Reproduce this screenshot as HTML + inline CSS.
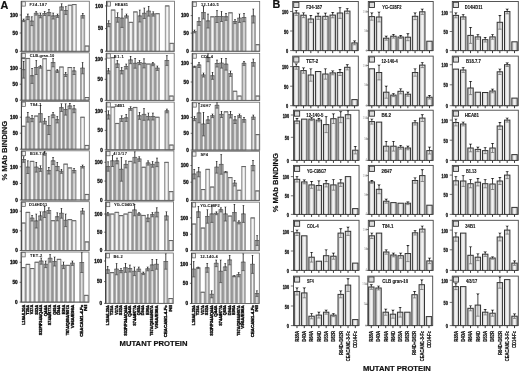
<!DOCTYPE html>
<html><head><meta charset="utf-8"><title>Figure</title><style>
html,body{margin:0;padding:0;background:#fff;}
svg{display:block;will-change:transform;transform:translateZ(0);}
#w{width:520px;height:372px;overflow:hidden;}
text{font-family:"Liberation Sans", sans-serif;font-weight:bold;fill:#111;stroke:#111;stroke-width:0.2;}
.ab{fill:#a9a9a9;stroke:#858585;stroke-width:0.7;}
.as{stroke:#f2f2f2;stroke-width:1.1;fill:none;}
.aw{fill:#c0c0c0;stroke:#808080;stroke-width:0.7;}
.aws{stroke:#f6f6f6;stroke-width:1.8;fill:none;}
.bb{fill:#d6d6d6;stroke:#333;stroke-width:1.0;}
.bs{stroke:#f2f2f2;stroke-width:2;fill:none;}
.eb{stroke:#222;stroke-width:0.85;fill:none;}
.eb4{stroke:#555;stroke-width:0.8;fill:none;}
.ebg{fill:#8a8a8a;fill-opacity:0.55;stroke:none;}
.at{stroke:#555;stroke-width:0.8;fill:none;}
.eb2{stroke:#333;stroke-width:0.9;fill:none;}
.ebt{fill:#222;stroke:none;}
.eb3{stroke:#666;stroke-width:0.7;fill:none;}
.af{fill:none;stroke:#666;stroke-width:0.8;}
.bf{fill:none;stroke:#444;stroke-width:0.9;}
.ax{fill:none;stroke:#3a3a3a;stroke-width:0.9;}
.axb{fill:none;stroke:#666;stroke-width:0.8;}
.lg{fill:#eee;stroke:#555;stroke-width:0.7;}
.lgb{fill:#ddd;stroke:#333;stroke-width:0.9;}
.tk{stroke:#333;stroke-width:0.7;fill:none;}
.tkx{stroke:#222;stroke-width:0.9;fill:none;}
.al{font-size:4.0px;stroke-width:0.05;}
.bl{font-size:5.3px;stroke-width:0.12;}
.tl{font-size:4.5px;stroke-width:0.3;}
.tlb{font-size:5.2px;stroke-width:0.3;}
.tlf{font-size:2.6px;text-anchor:end;fill:#bbb;stroke:none;}
.xl{font-size:4.4px;stroke-width:0.4;}
.xlb{font-size:5.0px;}
.big{font-size:10.8px;}
.yl{font-size:7.4px;}
.mp{font-size:7.6px;}
</style></head>
<body><div id="w"><svg width="520" height="372" viewBox="0 0 520 372">
<defs><filter id="blr" x="0" y="0" width="520" height="372" filterUnits="userSpaceOnUse" color-interpolation-filters="sRGB"><feConvolveMatrix order="3" kernelMatrix="1 7 1 7 49 7 1 7 1" edgeMode="duplicate"/></filter></defs>
<g><rect x="0" y="0" width="520" height="372" fill="#fff"/>
<rect class="ab" x="21.65" y="20.3" width="4.0" height="31"/>
<path class="as" d="M23.65 21.1V51.3"/>
<path class="at" d="M21.65 20.3h4"/>
<path class="eb" d="M23.65 19V20.3"/>
<path class="ebt" d="M22.45 18.7h2.4l-1.2 1z"/>
<rect class="ebg" x="22.15" y="20.3" width="3" height="1.3"/>
<path class="eb4" d="M23.65 20.3V21.6M22.15 21.6h3"/>
<rect class="ab" x="25.85" y="16.8" width="4.0" height="34.5"/>
<path class="as" d="M27.85 17.6V51.3"/>
<path class="at" d="M25.85 16.8h4"/>
<path class="eb" d="M27.85 14V16.8"/>
<path class="ebt" d="M26.65 13.7h2.4l-1.2 1z"/>
<rect class="ebg" x="26.35" y="16.8" width="3" height="2.8"/>
<path class="eb4" d="M27.85 16.8V19.6M26.35 19.6h3"/>
<rect class="ab" x="29.85" y="21.2" width="4.0" height="30.1"/>
<path class="as" d="M31.85 22V51.3"/>
<path class="at" d="M29.85 21.2h4"/>
<path class="eb" d="M31.85 16.8V21.2"/>
<path class="ebt" d="M30.65 16.5h2.4l-1.2 1z"/>
<rect class="ebg" x="30.35" y="21.2" width="3" height="4.4"/>
<path class="eb4" d="M31.85 21.2V25.6M30.35 25.6h3"/>
<rect class="ab" x="34.15" y="13.3" width="4.0" height="38"/>
<path class="as" d="M36.15 14.1V51.3"/>
<path class="at" d="M34.15 13.3h4"/>
<path class="eb" d="M36.15 11.5V13.3"/>
<path class="ebt" d="M34.95 11.2h2.4l-1.2 1z"/>
<rect class="ebg" x="34.65" y="13.3" width="3" height="1.8"/>
<path class="eb4" d="M36.15 13.3V15.1M34.65 15.1h3"/>
<rect class="ab" x="38.35" y="15.4" width="4.0" height="35.9"/>
<path class="as" d="M40.35 16.2V51.3"/>
<path class="at" d="M38.35 15.4h4"/>
<path class="eb" d="M40.35 13V15.4"/>
<path class="ebt" d="M39.15 12.7h2.4l-1.2 1z"/>
<rect class="ebg" x="38.85" y="15.4" width="3" height="2.4"/>
<path class="eb4" d="M40.35 15.4V17.8M38.85 17.8h3"/>
<rect class="ab" x="42.65" y="13.5" width="4.0" height="37.8"/>
<path class="as" d="M44.65 14.3V51.3"/>
<path class="at" d="M42.65 13.5h4"/>
<path class="eb" d="M44.65 11.5V13.5"/>
<path class="ebt" d="M43.45 11.2h2.4l-1.2 1z"/>
<rect class="ebg" x="43.15" y="13.5" width="3" height="2"/>
<path class="eb4" d="M44.65 13.5V15.5M43.15 15.5h3"/>
<rect class="ab" x="46.95" y="12.6" width="4.0" height="38.7"/>
<path class="as" d="M48.95 13.4V51.3"/>
<path class="at" d="M46.95 12.6h4"/>
<path class="eb" d="M48.95 9.5V12.6"/>
<path class="ebt" d="M47.75 9.2h2.4l-1.2 1z"/>
<rect class="ebg" x="47.45" y="12.6" width="3" height="3.1"/>
<path class="eb4" d="M48.95 12.6V15.7M47.45 15.7h3"/>
<rect class="ab" x="51.15" y="16" width="4.0" height="35.3"/>
<path class="as" d="M53.15 16.8V51.3"/>
<path class="at" d="M51.15 16h4"/>
<path class="eb" d="M53.15 13V16"/>
<path class="ebt" d="M51.95 12.7h2.4l-1.2 1z"/>
<rect class="ebg" x="51.65" y="16" width="3" height="3"/>
<path class="eb4" d="M53.15 16V19M51.65 19h3"/>
<rect class="ab" x="55.55" y="15.7" width="4.0" height="35.6"/>
<path class="as" d="M57.55 16.5V51.3"/>
<path class="at" d="M55.55 15.7h4"/>
<path class="eb" d="M57.55 14V15.7"/>
<path class="ebt" d="M56.35 13.7h2.4l-1.2 1z"/>
<rect class="ebg" x="56.05" y="15.7" width="3" height="1.7"/>
<path class="eb4" d="M57.55 15.7V17.4M56.05 17.4h3"/>
<rect class="ab" x="59.65" y="7" width="4.0" height="44.3"/>
<path class="as" d="M61.65 7.8V51.3"/>
<path class="at" d="M59.65 7h4"/>
<path class="eb" d="M61.65 3.8V7"/>
<path class="ebt" d="M60.45 3.5h2.4l-1.2 1z"/>
<rect class="ebg" x="60.15" y="7" width="3" height="3.2"/>
<path class="eb4" d="M61.65 7V10.2M60.15 10.2h3"/>
<rect class="ab" x="63.85" y="10.5" width="4.0" height="40.8"/>
<path class="as" d="M65.85 11.3V51.3"/>
<path class="at" d="M63.85 10.5h4"/>
<path class="eb" d="M65.85 6.6V10.5"/>
<path class="ebt" d="M64.65 6.3h2.4l-1.2 1z"/>
<rect class="ebg" x="64.35" y="10.5" width="3" height="3.9"/>
<path class="eb4" d="M65.85 10.5V14.4M64.35 14.4h3"/>
<rect class="aw" x="68.05" y="5.2" width="4.0" height="46.1"/>
<path class="aws" d="M70.05 6V51.3"/>
<path class="at" d="M68.05 5.2h4"/>
<rect class="aw" x="72.25" y="4.5" width="4.0" height="46.8"/>
<path class="aws" d="M74.25 5.3V51.3"/>
<path class="at" d="M72.25 4.5h4"/>
<rect class="ab" x="80.8" y="15.7" width="4.0" height="35.6"/>
<path class="as" d="M82.8 16.5V51.3"/>
<path class="at" d="M80.8 15.7h4"/>
<path class="eb" d="M82.8 13.3V15.7"/>
<path class="ebt" d="M81.6 13h2.4l-1.2 1z"/>
<rect class="ebg" x="81.3" y="15.7" width="3" height="2.4"/>
<path class="eb4" d="M82.8 15.7V18.1M81.3 18.1h3"/>
<rect class="aw" x="85" y="46" width="4.0" height="5.3"/>
<path class="aws" d="M87 46.8V51.3"/>
<path class="at" d="M85 46h4"/>
<rect class="af" x="21.3" y="1.2" width="68" height="50.1"/>
<path class="ax" d="M21.3 1.2V51.3"/>
<path class="axb" d="M21.3 51.3H89.3"/>
<rect class="lg" x="21.9" y="1.8" width="3.4" height="4.3"/>
<text class="al" x="29.4" y="5.7" textLength="17.6" lengthAdjust="spacing">F34-187</text>
<path class="tk" d="M19.7 15H21.3"/>
<text class="tl" x="10" y="16.7" textLength="7.8" lengthAdjust="spacingAndGlyphs">100</text>
<path class="tk" d="M19.7 33H21.3"/>
<text class="tl" x="12.6" y="34.7" textLength="5.2" lengthAdjust="spacingAndGlyphs">50</text>
<path class="tk" d="M19.7 51.3H21.3"/>
<text class="tl" x="15.2" y="53" textLength="2.6" lengthAdjust="spacingAndGlyphs">0</text>
<rect class="ab" x="106.7" y="23.7" width="4.0" height="27.55"/>
<path class="as" d="M108.7 24.5V51.25"/>
<path class="at" d="M106.7 23.7h4"/>
<path class="eb" d="M108.7 20.7V23.7"/>
<path class="ebt" d="M107.5 20.4h2.4l-1.2 1z"/>
<rect class="ebg" x="107.2" y="23.7" width="3" height="3"/>
<path class="eb4" d="M108.7 23.7V26.7M107.2 26.7h3"/>
<rect class="aw" x="111.1" y="10" width="4.0" height="41.25"/>
<path class="aws" d="M113.1 10.8V51.25"/>
<path class="at" d="M111.1 10h4"/>
<rect class="ab" x="115.6" y="17.5" width="4.0" height="33.75"/>
<path class="as" d="M117.6 18.3V51.25"/>
<path class="at" d="M115.6 17.5h4"/>
<path class="eb" d="M117.6 12.8V17.5"/>
<path class="ebt" d="M116.4 12.5h2.4l-1.2 1z"/>
<rect class="ebg" x="116.1" y="17.5" width="3" height="4.7"/>
<path class="eb4" d="M117.6 17.5V22.2M116.1 22.2h3"/>
<rect class="ab" x="120" y="18.2" width="4.0" height="33.05"/>
<path class="as" d="M122 19V51.25"/>
<path class="at" d="M120 18.2h4"/>
<path class="eb" d="M122 9V18.2"/>
<path class="ebt" d="M120.8 8.7h2.4l-1.2 1z"/>
<rect class="ebg" x="120.5" y="18.2" width="3" height="9.2"/>
<path class="eb4" d="M122 18.2V27.4M120.5 27.4h3"/>
<rect class="ab" x="124.5" y="16" width="4.0" height="35.25"/>
<path class="as" d="M126.5 16.8V51.25"/>
<path class="at" d="M124.5 16h4"/>
<path class="eb" d="M126.5 14V16"/>
<path class="ebt" d="M125.3 13.7h2.4l-1.2 1z"/>
<rect class="ebg" x="125" y="16" width="3" height="2"/>
<path class="eb4" d="M126.5 16V18M125 18h3"/>
<rect class="aw" x="128.9" y="22.3" width="4.0" height="28.95"/>
<path class="aws" d="M130.9 23.1V51.25"/>
<path class="at" d="M128.9 22.3h4"/>
<rect class="aw" x="133.4" y="11.9" width="4.0" height="39.35"/>
<path class="aws" d="M135.4 12.7V51.25"/>
<path class="at" d="M133.4 11.9h4"/>
<rect class="ab" x="137.8" y="16" width="4.0" height="35.25"/>
<path class="as" d="M139.8 16.8V51.25"/>
<path class="at" d="M137.8 16h4"/>
<path class="eb" d="M139.8 10V16"/>
<path class="ebt" d="M138.6 9.7h2.4l-1.2 1z"/>
<rect class="ebg" x="138.3" y="16" width="3" height="6"/>
<path class="eb4" d="M139.8 16V22M138.3 22h3"/>
<rect class="ab" x="142.3" y="13.3" width="4.0" height="37.95"/>
<path class="as" d="M144.3 14.1V51.25"/>
<path class="at" d="M142.3 13.3h4"/>
<path class="eb" d="M144.3 8.1V13.3"/>
<path class="ebt" d="M143.1 7.8h2.4l-1.2 1z"/>
<rect class="ebg" x="142.8" y="13.3" width="3" height="5.2"/>
<path class="eb4" d="M144.3 13.3V18.5M142.8 18.5h3"/>
<rect class="ab" x="146.7" y="11.2" width="4.0" height="40.05"/>
<path class="as" d="M148.7 12V51.25"/>
<path class="at" d="M146.7 11.2h4"/>
<path class="eb" d="M148.7 6.3V11.2"/>
<path class="ebt" d="M147.5 6h2.4l-1.2 1z"/>
<rect class="ebg" x="147.2" y="11.2" width="3" height="4.9"/>
<path class="eb4" d="M148.7 11.2V16.1M147.2 16.1h3"/>
<rect class="ab" x="151.2" y="14" width="4.0" height="37.25"/>
<path class="as" d="M153.2 14.8V51.25"/>
<path class="at" d="M151.2 14h4"/>
<path class="eb" d="M153.2 11.9V14"/>
<path class="ebt" d="M152 11.6h2.4l-1.2 1z"/>
<rect class="ebg" x="151.7" y="14" width="3" height="2.1"/>
<path class="eb4" d="M153.2 14V16.1M151.7 16.1h3"/>
<rect class="aw" x="155.6" y="13.7" width="4.0" height="37.55"/>
<path class="aws" d="M157.6 14.5V51.25"/>
<path class="at" d="M155.6 13.7h4"/>
<rect class="aw" x="165.2" y="5.9" width="4.0" height="45.35"/>
<path class="aws" d="M167.2 6.7V51.25"/>
<path class="at" d="M165.2 5.9h4"/>
<rect class="aw" x="169.7" y="43.3" width="4.0" height="7.95"/>
<path class="aws" d="M171.7 44.1V51.25"/>
<path class="at" d="M169.7 43.3h4"/>
<rect class="af" x="106.6" y="1.2" width="67.9" height="50.05"/>
<path class="ax" d="M106.6 1.2V51.25"/>
<path class="axb" d="M106.6 51.25H174.5"/>
<rect class="lg" x="107.2" y="1.8" width="3.4" height="4.3"/>
<text class="al" x="114.75" y="5.7" textLength="13.2" lengthAdjust="spacing">HEA81</text>
<path class="tk" d="M105 5.9H106.6"/>
<text class="tl" x="95.3" y="7.6" textLength="7.8" lengthAdjust="spacingAndGlyphs">100</text>
<path class="tk" d="M105 28.6H106.6"/>
<text class="tl" x="97.9" y="30.3" textLength="5.2" lengthAdjust="spacingAndGlyphs">50</text>
<path class="tk" d="M105 51.25H106.6"/>
<text class="tl" x="100.5" y="52.95" textLength="2.6" lengthAdjust="spacingAndGlyphs">0</text>
<rect class="ab" x="192.5" y="31.4" width="4.0" height="19.85"/>
<path class="as" d="M194.5 32.2V51.25"/>
<path class="at" d="M192.5 31.4h4"/>
<path class="eb" d="M194.5 30V31.4"/>
<path class="ebt" d="M193.3 29.7h2.4l-1.2 1z"/>
<rect class="ebg" x="193" y="31.4" width="3" height="1.4"/>
<path class="eb4" d="M194.5 31.4V32.8M193 32.8h3"/>
<rect class="ab" x="197" y="21.6" width="4.0" height="29.65"/>
<path class="as" d="M199 22.4V51.25"/>
<path class="at" d="M197 21.6h4"/>
<path class="eb" d="M199 17.9V21.6"/>
<path class="ebt" d="M197.8 17.6h2.4l-1.2 1z"/>
<rect class="ebg" x="197.5" y="21.6" width="3" height="3.7"/>
<path class="eb4" d="M199 21.6V25.3M197.5 25.3h3"/>
<rect class="ab" x="201.5" y="12.6" width="4.0" height="38.65"/>
<path class="as" d="M203.5 13.4V51.25"/>
<path class="at" d="M201.5 12.6h4"/>
<path class="eb" d="M203.5 6.3V12.6"/>
<path class="ebt" d="M202.3 6h2.4l-1.2 1z"/>
<rect class="ebg" x="202" y="12.6" width="3" height="6.3"/>
<path class="eb4" d="M203.5 12.6V18.9M202 18.9h3"/>
<rect class="ab" x="206" y="21" width="4.0" height="30.25"/>
<path class="as" d="M208 21.8V51.25"/>
<path class="at" d="M206 21h4"/>
<path class="eb" d="M208 14V21"/>
<path class="ebt" d="M206.8 13.7h2.4l-1.2 1z"/>
<rect class="ebg" x="206.5" y="21" width="3" height="7"/>
<path class="eb4" d="M208 21V28M206.5 28h3"/>
<rect class="aw" x="210.5" y="16.8" width="4.0" height="34.45"/>
<path class="aws" d="M212.5 17.6V51.25"/>
<path class="at" d="M210.5 16.8h4"/>
<rect class="ab" x="215" y="16.5" width="4.0" height="34.75"/>
<path class="as" d="M217 17.3V51.25"/>
<path class="at" d="M215 16.5h4"/>
<path class="eb" d="M217 10.5V16.5"/>
<path class="ebt" d="M215.8 10.2h2.4l-1.2 1z"/>
<rect class="ebg" x="215.5" y="16.5" width="3" height="6"/>
<path class="eb4" d="M217 16.5V22.5M215.5 22.5h3"/>
<rect class="ab" x="219.5" y="16.5" width="4.0" height="34.75"/>
<path class="as" d="M221.5 17.3V51.25"/>
<path class="at" d="M219.5 16.5h4"/>
<path class="eb" d="M221.5 11.5V16.5"/>
<path class="ebt" d="M220.3 11.2h2.4l-1.2 1z"/>
<rect class="ebg" x="220" y="16.5" width="3" height="5"/>
<path class="eb4" d="M221.5 16.5V21.5M220 21.5h3"/>
<rect class="ab" x="224" y="16.8" width="4.0" height="34.45"/>
<path class="as" d="M226 17.6V51.25"/>
<path class="at" d="M224 16.8h4"/>
<path class="eb" d="M226 13.3V16.8"/>
<path class="ebt" d="M224.8 13h2.4l-1.2 1z"/>
<rect class="ebg" x="224.5" y="16.8" width="3" height="3.5"/>
<path class="eb4" d="M226 16.8V20.3M224.5 20.3h3"/>
<rect class="aw" x="228.5" y="12.8" width="4.0" height="38.45"/>
<path class="aws" d="M230.5 13.6V51.25"/>
<path class="at" d="M228.5 12.8h4"/>
<rect class="ab" x="233" y="21.6" width="4.0" height="29.65"/>
<path class="as" d="M235 22.4V51.25"/>
<path class="at" d="M233 21.6h4"/>
<path class="eb" d="M235 19.6V21.6"/>
<path class="ebt" d="M233.8 19.3h2.4l-1.2 1z"/>
<rect class="ebg" x="233.5" y="21.6" width="3" height="2"/>
<path class="eb4" d="M235 21.6V23.6M233.5 23.6h3"/>
<rect class="ab" x="237.5" y="18.2" width="4.0" height="33.05"/>
<path class="as" d="M239.5 19V51.25"/>
<path class="at" d="M237.5 18.2h4"/>
<path class="eb" d="M239.5 14V18.2"/>
<path class="ebt" d="M238.3 13.7h2.4l-1.2 1z"/>
<rect class="ebg" x="238" y="18.2" width="3" height="4.2"/>
<path class="eb4" d="M239.5 18.2V22.4M238 22.4h3"/>
<rect class="ab" x="242" y="17.5" width="4.0" height="33.75"/>
<path class="as" d="M244 18.3V51.25"/>
<path class="at" d="M242 17.5h4"/>
<path class="eb" d="M244 13.3V17.5"/>
<path class="ebt" d="M242.8 13h2.4l-1.2 1z"/>
<rect class="ebg" x="242.5" y="17.5" width="3" height="4.2"/>
<path class="eb4" d="M244 17.5V21.7M242.5 21.7h3"/>
<rect class="ab" x="251.3" y="16" width="4.0" height="35.25"/>
<path class="as" d="M253.3 16.8V51.25"/>
<path class="at" d="M251.3 16h4"/>
<path class="eb" d="M253.3 9V16"/>
<path class="ebt" d="M252.1 8.7h2.4l-1.2 1z"/>
<rect class="ebg" x="251.8" y="16" width="3" height="7"/>
<path class="eb4" d="M253.3 16V23M251.8 23h3"/>
<rect class="aw" x="255.7" y="44.7" width="4.0" height="6.55"/>
<path class="aws" d="M257.7 45.5V51.25"/>
<path class="at" d="M255.7 44.7h4"/>
<rect class="af" x="192.3" y="1.5" width="67.4" height="49.75"/>
<path class="ax" d="M192.3 1.5V51.25"/>
<path class="axb" d="M192.3 51.25H259.7"/>
<rect class="lg" x="192.9" y="2.1" width="3.4" height="4.3"/>
<text class="al" x="200.95" y="6" textLength="17.7" lengthAdjust="spacing">12-140-5</text>
<path class="tk" d="M190.7 15.6H192.3"/>
<text class="tl" x="181" y="17.3" textLength="7.8" lengthAdjust="spacingAndGlyphs">100</text>
<path class="tk" d="M190.7 33.1H192.3"/>
<text class="tl" x="183.6" y="34.8" textLength="5.2" lengthAdjust="spacingAndGlyphs">50</text>
<path class="tk" d="M190.7 51.25H192.3"/>
<text class="tl" x="186.2" y="52.95" textLength="2.6" lengthAdjust="spacingAndGlyphs">0</text>
<rect class="aw" x="21.65" y="58.5" width="4.0" height="41.7"/>
<path class="aws" d="M23.65 59.3V100.2"/>
<path class="at" d="M21.65 58.5h4"/>
<rect class="ab" x="21.65" y="69.7" width="4.0" height="30.5"/>
<path class="as" d="M23.65 70.5V100.2"/>
<path class="at" d="M21.65 69.7h4"/>
<path class="eb" d="M23.65 61.3V69.7"/>
<path class="ebt" d="M22.45 61h2.4l-1.2 1z"/>
<rect class="ebg" x="22.15" y="69.7" width="3" height="8.4"/>
<path class="eb4" d="M23.65 69.7V78.1M22.15 78.1h3"/>
<rect class="aw" x="25.85" y="58.4" width="4.0" height="41.8"/>
<path class="aws" d="M27.85 59.2V100.2"/>
<path class="at" d="M25.85 58.4h4"/>
<rect class="ab" x="30.05" y="75.8" width="4.0" height="24.4"/>
<path class="as" d="M32.05 76.6V100.2"/>
<path class="at" d="M30.05 75.8h4"/>
<path class="eb" d="M32.05 68.2V75.8"/>
<path class="ebt" d="M30.85 67.9h2.4l-1.2 1z"/>
<rect class="ebg" x="30.55" y="75.8" width="3" height="7.6"/>
<path class="eb4" d="M32.05 75.8V83.4M30.55 83.4h3"/>
<rect class="ab" x="34.25" y="67.5" width="4.0" height="32.7"/>
<path class="as" d="M36.25 68.3V100.2"/>
<path class="at" d="M34.25 67.5h4"/>
<path class="eb" d="M36.25 60.5V67.5"/>
<path class="ebt" d="M35.05 60.2h2.4l-1.2 1z"/>
<rect class="ebg" x="34.75" y="67.5" width="3" height="7"/>
<path class="eb4" d="M36.25 67.5V74.5M34.75 74.5h3"/>
<rect class="ab" x="38.45" y="66.8" width="4.0" height="33.4"/>
<path class="as" d="M40.45 67.6V100.2"/>
<path class="at" d="M38.45 66.8h4"/>
<path class="eb" d="M40.45 65.4V66.8"/>
<path class="ebt" d="M39.25 65.1h2.4l-1.2 1z"/>
<rect class="ebg" x="38.95" y="66.8" width="3" height="1.4"/>
<path class="eb4" d="M40.45 66.8V68.2M38.95 68.2h3"/>
<rect class="aw" x="42.65" y="58.7" width="4.0" height="41.5"/>
<path class="aws" d="M44.65 59.5V100.2"/>
<path class="at" d="M42.65 58.7h4"/>
<rect class="aw" x="46.85" y="70.3" width="4.0" height="29.9"/>
<path class="aws" d="M48.85 71.1V100.2"/>
<path class="at" d="M46.85 70.3h4"/>
<rect class="ab" x="51.05" y="62.6" width="4.0" height="37.6"/>
<path class="as" d="M53.05 63.4V100.2"/>
<path class="at" d="M51.05 62.6h4"/>
<path class="eb" d="M53.05 58.4V62.6"/>
<path class="ebt" d="M51.85 58.1h2.4l-1.2 1z"/>
<rect class="ebg" x="51.55" y="62.6" width="3" height="4.2"/>
<path class="eb4" d="M53.05 62.6V66.8M51.55 66.8h3"/>
<rect class="ab" x="55.25" y="71" width="4.0" height="29.2"/>
<path class="as" d="M57.25 71.8V100.2"/>
<path class="at" d="M55.25 71h4"/>
<path class="eb" d="M57.25 69.5V71"/>
<path class="ebt" d="M56.05 69.2h2.4l-1.2 1z"/>
<rect class="ebg" x="55.75" y="71" width="3" height="1.5"/>
<path class="eb4" d="M57.25 71V72.5M55.75 72.5h3"/>
<rect class="aw" x="59.45" y="67" width="4.0" height="33.2"/>
<path class="aws" d="M61.45 67.8V100.2"/>
<path class="at" d="M59.45 67h4"/>
<rect class="ab" x="63.65" y="74.4" width="4.0" height="25.8"/>
<path class="as" d="M65.65 75.2V100.2"/>
<path class="at" d="M63.65 74.4h4"/>
<path class="eb" d="M65.65 72.3V74.4"/>
<path class="ebt" d="M64.45 72h2.4l-1.2 1z"/>
<rect class="ebg" x="64.15" y="74.4" width="3" height="2.1"/>
<path class="eb4" d="M65.65 74.4V76.5M64.15 76.5h3"/>
<rect class="aw" x="67.85" y="67.5" width="4.0" height="32.7"/>
<path class="aws" d="M69.85 68.3V100.2"/>
<path class="at" d="M67.85 67.5h4"/>
<rect class="ab" x="72.05" y="71" width="4.0" height="29.2"/>
<path class="as" d="M74.05 71.8V100.2"/>
<path class="at" d="M72.05 71h4"/>
<path class="eb" d="M74.05 67.5V71"/>
<path class="ebt" d="M72.85 67.2h2.4l-1.2 1z"/>
<rect class="ebg" x="72.55" y="71" width="3" height="3.5"/>
<path class="eb4" d="M74.05 71V74.5M72.55 74.5h3"/>
<rect class="ab" x="80.6" y="68.2" width="4.0" height="32"/>
<path class="as" d="M82.6 69V100.2"/>
<path class="at" d="M80.6 68.2h4"/>
<path class="eb" d="M82.6 62.6V68.2"/>
<path class="ebt" d="M81.4 62.3h2.4l-1.2 1z"/>
<rect class="ebg" x="81.1" y="68.2" width="3" height="5.6"/>
<path class="eb4" d="M82.6 68.2V73.8M81.1 73.8h3"/>
<rect class="aw" x="84.9" y="97.5" width="4.0" height="2.7"/>
<path class="aws" d="M86.9 98.3V100.2"/>
<path class="at" d="M84.9 97.5h4"/>
<rect class="af" x="21.3" y="52.8" width="68" height="47.4"/>
<path class="ax" d="M21.3 52.8V100.2"/>
<path class="axb" d="M21.3 100.2H89.3"/>
<rect class="lg" x="21.9" y="53.4" width="3.4" height="4.3"/>
<text class="al" x="29.8" y="57.3" textLength="24.4" lengthAdjust="spacing">CLB-gran-10</text>
<path class="tk" d="M19.7 68.4H21.3"/>
<text class="tl" x="10" y="70.1" textLength="7.8" lengthAdjust="spacingAndGlyphs">100</text>
<path class="tk" d="M19.7 84.2H21.3"/>
<text class="tl" x="12.6" y="85.9" textLength="5.2" lengthAdjust="spacingAndGlyphs">50</text>
<path class="tk" d="M19.7 100.2H21.3"/>
<text class="tl" x="15.2" y="101.9" textLength="2.6" lengthAdjust="spacingAndGlyphs">0</text>
<rect class="ab" x="106.4" y="71" width="4.0" height="29.4"/>
<path class="as" d="M108.4 71.8V100.4"/>
<path class="at" d="M106.4 71h4"/>
<path class="eb" d="M108.4 68.2V71"/>
<path class="ebt" d="M107.2 67.9h2.4l-1.2 1z"/>
<rect class="ebg" x="106.9" y="71" width="3" height="2.8"/>
<path class="eb4" d="M108.4 71V73.8M106.9 73.8h3"/>
<rect class="aw" x="110.8" y="57.7" width="4.0" height="42.7"/>
<path class="aws" d="M112.8 58.5V100.4"/>
<path class="at" d="M110.8 57.7h4"/>
<rect class="ab" x="115.3" y="64" width="4.0" height="36.4"/>
<path class="as" d="M117.3 64.8V100.4"/>
<path class="at" d="M115.3 64h4"/>
<path class="eb" d="M117.3 60.5V64"/>
<path class="ebt" d="M116.1 60.2h2.4l-1.2 1z"/>
<rect class="ebg" x="115.8" y="64" width="3" height="3.5"/>
<path class="eb4" d="M117.3 64V67.5M115.8 67.5h3"/>
<rect class="ab" x="119.7" y="70.7" width="4.0" height="29.7"/>
<path class="as" d="M121.7 71.5V100.4"/>
<path class="at" d="M119.7 70.7h4"/>
<path class="eb" d="M121.7 67.5V70.7"/>
<path class="ebt" d="M120.5 67.2h2.4l-1.2 1z"/>
<rect class="ebg" x="120.2" y="70.7" width="3" height="3.2"/>
<path class="eb4" d="M121.7 70.7V73.9M120.2 73.9h3"/>
<rect class="ab" x="124.2" y="66.5" width="4.0" height="33.9"/>
<path class="as" d="M126.2 67.3V100.4"/>
<path class="at" d="M124.2 66.5h4"/>
<path class="eb" d="M126.2 64V66.5"/>
<path class="ebt" d="M125 63.7h2.4l-1.2 1z"/>
<rect class="ebg" x="124.7" y="66.5" width="3" height="2.5"/>
<path class="eb4" d="M126.2 66.5V69M124.7 69h3"/>
<rect class="ab" x="128.6" y="60" width="4.0" height="40.4"/>
<path class="as" d="M130.6 60.8V100.4"/>
<path class="at" d="M128.6 60h4"/>
<path class="eb" d="M130.6 56.3V60"/>
<path class="ebt" d="M129.4 56h2.4l-1.2 1z"/>
<rect class="ebg" x="129.1" y="60" width="3" height="3.7"/>
<path class="eb4" d="M130.6 60V63.7M129.1 63.7h3"/>
<rect class="ab" x="133.1" y="63.3" width="4.0" height="37.1"/>
<path class="as" d="M135.1 64.1V100.4"/>
<path class="at" d="M133.1 63.3h4"/>
<path class="eb" d="M135.1 58.4V63.3"/>
<path class="ebt" d="M133.9 58.1h2.4l-1.2 1z"/>
<rect class="ebg" x="133.6" y="63.3" width="3" height="4.9"/>
<path class="eb4" d="M135.1 63.3V68.2M133.6 68.2h3"/>
<rect class="ab" x="137.5" y="62.6" width="4.0" height="37.8"/>
<path class="as" d="M139.5 63.4V100.4"/>
<path class="at" d="M137.5 62.6h4"/>
<path class="eb" d="M139.5 60.5V62.6"/>
<path class="ebt" d="M138.3 60.2h2.4l-1.2 1z"/>
<rect class="ebg" x="138" y="62.6" width="3" height="2.1"/>
<path class="eb4" d="M139.5 62.6V64.7M138 64.7h3"/>
<rect class="ab" x="142" y="63.3" width="4.0" height="37.1"/>
<path class="as" d="M144 64.1V100.4"/>
<path class="at" d="M142 63.3h4"/>
<path class="eb" d="M144 58.7V63.3"/>
<path class="ebt" d="M142.8 58.4h2.4l-1.2 1z"/>
<rect class="ebg" x="142.5" y="63.3" width="3" height="4.6"/>
<path class="eb4" d="M144 63.3V67.9M142.5 67.9h3"/>
<rect class="aw" x="146.4" y="64" width="4.0" height="36.4"/>
<path class="aws" d="M148.4 64.8V100.4"/>
<path class="at" d="M146.4 64h4"/>
<rect class="ab" x="150.9" y="64" width="4.0" height="36.4"/>
<path class="as" d="M152.9 64.8V100.4"/>
<path class="at" d="M150.9 64h4"/>
<path class="eb" d="M152.9 62.3V64"/>
<path class="ebt" d="M151.7 62h2.4l-1.2 1z"/>
<rect class="ebg" x="151.4" y="64" width="3" height="1.7"/>
<path class="eb4" d="M152.9 64V65.7M151.4 65.7h3"/>
<rect class="ab" x="155.3" y="68.2" width="4.0" height="32.2"/>
<path class="as" d="M157.3 69V100.4"/>
<path class="at" d="M155.3 68.2h4"/>
<path class="eb" d="M157.3 66V68.2"/>
<path class="ebt" d="M156.1 65.7h2.4l-1.2 1z"/>
<rect class="ebg" x="155.8" y="68.2" width="3" height="2.2"/>
<path class="eb4" d="M157.3 68.2V70.4M155.8 70.4h3"/>
<rect class="ab" x="164.9" y="60.5" width="4.0" height="39.9"/>
<path class="as" d="M166.9 61.3V100.4"/>
<path class="at" d="M164.9 60.5h4"/>
<path class="eb" d="M166.9 55.6V60.5"/>
<path class="ebt" d="M165.7 55.3h2.4l-1.2 1z"/>
<rect class="ebg" x="165.4" y="60.5" width="3" height="4.9"/>
<path class="eb4" d="M166.9 60.5V65.4M165.4 65.4h3"/>
<rect class="aw" x="169.4" y="96" width="4.0" height="4.4"/>
<path class="aws" d="M171.4 96.8V100.4"/>
<path class="at" d="M169.4 96h4"/>
<rect class="af" x="106.3" y="53.2" width="67.9" height="47.2"/>
<path class="ax" d="M106.3 53.2V100.4"/>
<path class="axb" d="M106.3 100.4H174.2"/>
<rect class="lg" x="106.9" y="53.8" width="3.4" height="4.3"/>
<text class="al" x="113.8" y="57.7" textLength="10" lengthAdjust="spacing">B1.1</text>
<path class="tk" d="M104.7 59H106.3"/>
<text class="tl" x="95" y="60.7" textLength="7.8" lengthAdjust="spacingAndGlyphs">100</text>
<path class="tk" d="M104.7 79.3H106.3"/>
<text class="tl" x="97.6" y="81" textLength="5.2" lengthAdjust="spacingAndGlyphs">50</text>
<path class="tk" d="M104.7 100.4H106.3"/>
<text class="tl" x="100.2" y="102.1" textLength="2.6" lengthAdjust="spacingAndGlyphs">0</text>
<rect class="ab" x="192.5" y="66.7" width="4.0" height="33.7"/>
<path class="as" d="M194.5 67.5V100.4"/>
<path class="at" d="M192.5 66.7h4"/>
<path class="eb" d="M194.5 66V66.7"/>
<path class="ebt" d="M193.3 65.7h2.4l-1.2 0.7z"/>
<rect class="ebg" x="193" y="66.7" width="3" height="0.7"/>
<path class="eb4" d="M194.5 66.7V67.4M193 67.4h3"/>
<rect class="ab" x="197" y="65" width="4.0" height="35.4"/>
<path class="as" d="M199 65.8V100.4"/>
<path class="at" d="M197 65h4"/>
<path class="eb" d="M199 62.5V65"/>
<path class="ebt" d="M197.8 62.2h2.4l-1.2 1z"/>
<rect class="ebg" x="197.5" y="65" width="3" height="2.5"/>
<path class="eb4" d="M199 65V67.5M197.5 67.5h3"/>
<rect class="ab" x="201.5" y="75" width="4.0" height="25.4"/>
<path class="as" d="M203.5 75.8V100.4"/>
<path class="at" d="M201.5 75h4"/>
<path class="eb" d="M203.5 73V75"/>
<path class="ebt" d="M202.3 72.7h2.4l-1.2 1z"/>
<rect class="ebg" x="202" y="75" width="3" height="2"/>
<path class="eb4" d="M203.5 75V77M202 77h3"/>
<rect class="ab" x="206" y="57.6" width="4.0" height="42.8"/>
<path class="as" d="M208 58.4V100.4"/>
<path class="at" d="M206 57.6h4"/>
<path class="eb" d="M208 53.5V57.6"/>
<path class="ebt" d="M206.8 53.2h2.4l-1.2 1z"/>
<rect class="ebg" x="206.5" y="57.6" width="3" height="4.1"/>
<path class="eb4" d="M208 57.6V61.7M206.5 61.7h3"/>
<rect class="ab" x="210.5" y="75.8" width="4.0" height="24.6"/>
<path class="as" d="M212.5 76.6V100.4"/>
<path class="at" d="M210.5 75.8h4"/>
<path class="eb" d="M212.5 72.3V75.8"/>
<path class="ebt" d="M211.3 72h2.4l-1.2 1z"/>
<rect class="ebg" x="211" y="75.8" width="3" height="3.5"/>
<path class="eb4" d="M212.5 75.8V79.3M211 79.3h3"/>
<rect class="ab" x="215" y="63.5" width="4.0" height="36.9"/>
<path class="as" d="M217 64.3V100.4"/>
<path class="at" d="M215 63.5h4"/>
<path class="eb" d="M217 60V63.5"/>
<path class="ebt" d="M215.8 59.7h2.4l-1.2 1z"/>
<rect class="ebg" x="215.5" y="63.5" width="3" height="3.5"/>
<path class="eb4" d="M217 63.5V67M215.5 67h3"/>
<rect class="ab" x="219.5" y="63.2" width="4.0" height="37.2"/>
<path class="as" d="M221.5 64V100.4"/>
<path class="at" d="M219.5 63.2h4"/>
<path class="eb" d="M221.5 58.3V63.2"/>
<path class="ebt" d="M220.3 58h2.4l-1.2 1z"/>
<rect class="ebg" x="220" y="63.2" width="3" height="4.9"/>
<path class="eb4" d="M221.5 63.2V68.1M220 68.1h3"/>
<rect class="ab" x="224" y="64.2" width="4.0" height="36.2"/>
<path class="as" d="M226 65V100.4"/>
<path class="at" d="M224 64.2h4"/>
<path class="eb" d="M226 58.3V64.2"/>
<path class="ebt" d="M224.8 58h2.4l-1.2 1z"/>
<rect class="ebg" x="224.5" y="64.2" width="3" height="5.9"/>
<path class="eb4" d="M226 64.2V70.1M224.5 70.1h3"/>
<rect class="ab" x="228.5" y="73.7" width="4.0" height="26.7"/>
<path class="as" d="M230.5 74.5V100.4"/>
<path class="at" d="M228.5 73.7h4"/>
<path class="eb" d="M230.5 71V73.7"/>
<path class="ebt" d="M229.3 70.7h2.4l-1.2 1z"/>
<rect class="ebg" x="229" y="73.7" width="3" height="2.7"/>
<path class="eb4" d="M230.5 73.7V76.4M229 76.4h3"/>
<rect class="aw" x="233" y="91.2" width="4.0" height="9.2"/>
<path class="aws" d="M235 92V100.4"/>
<path class="at" d="M233 91.2h4"/>
<rect class="aw" x="237.5" y="96" width="4.0" height="4.4"/>
<path class="aws" d="M239.5 96.8V100.4"/>
<path class="at" d="M237.5 96h4"/>
<rect class="ab" x="242" y="63.3" width="4.0" height="37.1"/>
<path class="as" d="M244 64.1V100.4"/>
<path class="at" d="M242 63.3h4"/>
<path class="eb" d="M244 61.2V63.3"/>
<path class="ebt" d="M242.8 60.9h2.4l-1.2 1z"/>
<rect class="ebg" x="242.5" y="63.3" width="3" height="2.1"/>
<path class="eb4" d="M244 63.3V65.4M242.5 65.4h3"/>
<rect class="ab" x="251.3" y="62.6" width="4.0" height="37.8"/>
<path class="as" d="M253.3 63.4V100.4"/>
<path class="at" d="M251.3 62.6h4"/>
<path class="eb" d="M253.3 59V62.6"/>
<path class="ebt" d="M252.1 58.7h2.4l-1.2 1z"/>
<rect class="ebg" x="251.8" y="62.6" width="3" height="3.6"/>
<path class="eb4" d="M253.3 62.6V66.2M251.8 66.2h3"/>
<rect class="aw" x="255.7" y="96" width="4.0" height="4.4"/>
<path class="aws" d="M257.7 96.8V100.4"/>
<path class="at" d="M255.7 96h4"/>
<rect class="af" x="192.3" y="53.3" width="67.4" height="47.1"/>
<path class="ax" d="M192.3 53.3V100.4"/>
<path class="axb" d="M192.3 100.4H259.7"/>
<rect class="lg" x="192.9" y="53.9" width="3.4" height="4.3"/>
<text class="al" x="200.95" y="57.8" textLength="12.1" lengthAdjust="spacing">COL-4</text>
<path class="tk" d="M190.7 63.3H192.3"/>
<text class="tl" x="181" y="65" textLength="7.8" lengthAdjust="spacingAndGlyphs">100</text>
<path class="tk" d="M190.7 82H192.3"/>
<text class="tl" x="183.6" y="83.7" textLength="5.2" lengthAdjust="spacingAndGlyphs">50</text>
<path class="tk" d="M190.7 100.4H192.3"/>
<text class="tl" x="186.2" y="102.1" textLength="2.6" lengthAdjust="spacingAndGlyphs">0</text>
<rect class="aw" x="21.65" y="126.2" width="4.0" height="23"/>
<path class="aws" d="M23.65 127V149.2"/>
<path class="at" d="M21.65 126.2h4"/>
<rect class="ab" x="25.85" y="117.2" width="4.0" height="32"/>
<path class="as" d="M27.85 118V149.2"/>
<path class="at" d="M25.85 117.2h4"/>
<path class="eb" d="M27.85 112.3V117.2"/>
<path class="ebt" d="M26.65 112h2.4l-1.2 1z"/>
<rect class="ebg" x="26.35" y="117.2" width="3" height="4.9"/>
<path class="eb4" d="M27.85 117.2V122.1M26.35 122.1h3"/>
<rect class="ab" x="30.05" y="118.6" width="4.0" height="30.6"/>
<path class="as" d="M32.05 119.4V149.2"/>
<path class="at" d="M30.05 118.6h4"/>
<path class="eb" d="M32.05 115.5V118.6"/>
<path class="ebt" d="M30.85 115.2h2.4l-1.2 1z"/>
<rect class="ebg" x="30.55" y="118.6" width="3" height="3.1"/>
<path class="eb4" d="M32.05 118.6V121.7M30.55 121.7h3"/>
<rect class="aw" x="34.25" y="116" width="4.0" height="33.2"/>
<path class="aws" d="M36.25 116.8V149.2"/>
<path class="at" d="M34.25 116h4"/>
<rect class="ab" x="38.45" y="113.7" width="4.0" height="35.5"/>
<path class="as" d="M40.45 114.5V149.2"/>
<path class="at" d="M38.45 113.7h4"/>
<path class="eb" d="M40.45 105.3V113.7"/>
<path class="ebt" d="M39.25 105h2.4l-1.2 1z"/>
<rect class="ebg" x="38.95" y="113.7" width="3" height="8.4"/>
<path class="eb4" d="M40.45 113.7V122.1M38.95 122.1h3"/>
<rect class="ab" x="42.65" y="121.3" width="4.0" height="27.9"/>
<path class="as" d="M44.65 122.1V149.2"/>
<path class="at" d="M42.65 121.3h4"/>
<path class="eb" d="M44.65 118.6V121.3"/>
<path class="ebt" d="M43.45 118.3h2.4l-1.2 1z"/>
<rect class="ebg" x="43.15" y="121.3" width="3" height="2.7"/>
<path class="eb4" d="M44.65 121.3V124M43.15 124h3"/>
<rect class="ab" x="46.85" y="125.5" width="4.0" height="23.7"/>
<path class="as" d="M48.85 126.3V149.2"/>
<path class="at" d="M46.85 125.5h4"/>
<path class="eb" d="M48.85 116.5V125.5"/>
<path class="ebt" d="M47.65 116.2h2.4l-1.2 1z"/>
<rect class="ebg" x="47.35" y="125.5" width="3" height="9"/>
<path class="eb4" d="M48.85 125.5V134.5M47.35 134.5h3"/>
<rect class="ab" x="51.05" y="115" width="4.0" height="34.2"/>
<path class="as" d="M53.05 115.8V149.2"/>
<path class="at" d="M51.05 115h4"/>
<path class="eb" d="M53.05 112.3V115"/>
<path class="ebt" d="M51.85 112h2.4l-1.2 1z"/>
<rect class="ebg" x="51.55" y="115" width="3" height="2.7"/>
<path class="eb4" d="M53.05 115V117.7M51.55 117.7h3"/>
<rect class="ab" x="55.25" y="119.7" width="4.0" height="29.5"/>
<path class="as" d="M57.25 120.5V149.2"/>
<path class="at" d="M55.25 119.7h4"/>
<path class="eb" d="M57.25 116.5V119.7"/>
<path class="ebt" d="M56.05 116.2h2.4l-1.2 1z"/>
<rect class="ebg" x="55.75" y="119.7" width="3" height="3.2"/>
<path class="eb4" d="M57.25 119.7V122.9M55.75 122.9h3"/>
<rect class="ab" x="59.45" y="107.7" width="4.0" height="41.5"/>
<path class="as" d="M61.45 108.5V149.2"/>
<path class="at" d="M59.45 107.7h4"/>
<path class="eb" d="M61.45 103.9V107.7"/>
<path class="ebt" d="M60.25 103.6h2.4l-1.2 1z"/>
<rect class="ebg" x="59.95" y="107.7" width="3" height="3.8"/>
<path class="eb4" d="M61.45 107.7V111.5M59.95 111.5h3"/>
<rect class="ab" x="63.65" y="109.5" width="4.0" height="39.7"/>
<path class="as" d="M65.65 110.3V149.2"/>
<path class="at" d="M63.65 109.5h4"/>
<path class="eb" d="M65.65 103.9V109.5"/>
<path class="ebt" d="M64.45 103.6h2.4l-1.2 1z"/>
<rect class="ebg" x="64.15" y="109.5" width="3" height="5.6"/>
<path class="eb4" d="M65.65 109.5V115.1M64.15 115.1h3"/>
<rect class="ab" x="67.85" y="106" width="4.0" height="43.2"/>
<path class="as" d="M69.85 106.8V149.2"/>
<path class="at" d="M67.85 106h4"/>
<path class="eb" d="M69.85 103.2V106"/>
<path class="ebt" d="M68.65 102.9h2.4l-1.2 1z"/>
<rect class="ebg" x="68.35" y="106" width="3" height="2.8"/>
<path class="eb4" d="M69.85 106V108.8M68.35 108.8h3"/>
<rect class="ab" x="72.05" y="109" width="4.0" height="40.2"/>
<path class="as" d="M74.05 109.8V149.2"/>
<path class="at" d="M72.05 109h4"/>
<path class="eb" d="M74.05 105.3V109"/>
<path class="ebt" d="M72.85 105h2.4l-1.2 1z"/>
<rect class="ebg" x="72.55" y="109" width="3" height="3.7"/>
<path class="eb4" d="M74.05 109V112.7M72.55 112.7h3"/>
<rect class="aw" x="80.6" y="117.2" width="4.0" height="32"/>
<path class="aws" d="M82.6 118V149.2"/>
<path class="at" d="M80.6 117.2h4"/>
<rect class="aw" x="84.9" y="145.4" width="4.0" height="3.8"/>
<path class="aws" d="M86.9 146.2V149.2"/>
<path class="at" d="M84.9 145.4h4"/>
<rect class="af" x="21.4" y="101.5" width="67.9" height="47.7"/>
<path class="ax" d="M21.4 101.5V149.2"/>
<path class="axb" d="M21.4 149.2H89.3"/>
<rect class="lg" x="22" y="102.1" width="3.4" height="4.3"/>
<text class="al" x="30" y="106" textLength="11.6" lengthAdjust="spacing">T84.1</text>
<path class="tk" d="M19.8 117.2H21.4"/>
<text class="tl" x="10.1" y="118.9" textLength="7.8" lengthAdjust="spacingAndGlyphs">100</text>
<path class="tk" d="M19.8 133.2H21.4"/>
<text class="tl" x="12.7" y="134.9" textLength="5.2" lengthAdjust="spacingAndGlyphs">50</text>
<path class="tk" d="M19.8 149.2H21.4"/>
<text class="tl" x="15.3" y="150.9" textLength="2.6" lengthAdjust="spacingAndGlyphs">0</text>
<rect class="ab" x="106.4" y="115" width="4.0" height="34.8"/>
<path class="as" d="M108.4 115.8V149.8"/>
<path class="at" d="M106.4 115h4"/>
<path class="eb" d="M108.4 110.9V115"/>
<path class="ebt" d="M107.2 110.6h2.4l-1.2 1z"/>
<rect class="ebg" x="106.9" y="115" width="3" height="4.1"/>
<path class="eb4" d="M108.4 115V119.1M106.9 119.1h3"/>
<rect class="aw" x="110.8" y="107.1" width="4.0" height="42.7"/>
<path class="aws" d="M112.8 107.9V149.8"/>
<path class="at" d="M110.8 107.1h4"/>
<rect class="aw" x="115.3" y="123.4" width="4.0" height="26.4"/>
<path class="aws" d="M117.3 124.2V149.8"/>
<path class="at" d="M115.3 123.4h4"/>
<rect class="ab" x="119.7" y="118.6" width="4.0" height="31.2"/>
<path class="as" d="M121.7 119.4V149.8"/>
<path class="at" d="M119.7 118.6h4"/>
<path class="eb" d="M121.7 115.8V118.6"/>
<path class="ebt" d="M120.5 115.5h2.4l-1.2 1z"/>
<rect class="ebg" x="120.2" y="118.6" width="3" height="2.8"/>
<path class="eb4" d="M121.7 118.6V121.4M120.2 121.4h3"/>
<rect class="ab" x="124.2" y="117.9" width="4.0" height="31.9"/>
<path class="as" d="M126.2 118.7V149.8"/>
<path class="at" d="M124.2 117.9h4"/>
<path class="eb" d="M126.2 114.4V117.9"/>
<path class="ebt" d="M125 114.1h2.4l-1.2 1z"/>
<rect class="ebg" x="124.7" y="117.9" width="3" height="3.5"/>
<path class="eb4" d="M126.2 117.9V121.4M124.7 121.4h3"/>
<rect class="ab" x="128.6" y="108.5" width="4.0" height="41.3"/>
<path class="as" d="M130.6 109.3V149.8"/>
<path class="at" d="M128.6 108.5h4"/>
<path class="eb" d="M130.6 106.7V108.5"/>
<path class="ebt" d="M129.4 106.4h2.4l-1.2 1z"/>
<rect class="ebg" x="129.1" y="108.5" width="3" height="1.8"/>
<path class="eb4" d="M130.6 108.5V110.3M129.1 110.3h3"/>
<rect class="aw" x="133.1" y="107.4" width="4.0" height="42.4"/>
<path class="aws" d="M135.1 108.2V149.8"/>
<path class="at" d="M133.1 107.4h4"/>
<rect class="ab" x="137.5" y="115.8" width="4.0" height="34"/>
<path class="as" d="M139.5 116.6V149.8"/>
<path class="at" d="M137.5 115.8h4"/>
<path class="eb" d="M139.5 112.3V115.8"/>
<path class="ebt" d="M138.3 112h2.4l-1.2 1z"/>
<rect class="ebg" x="138" y="115.8" width="3" height="3.5"/>
<path class="eb4" d="M139.5 115.8V119.3M138 119.3h3"/>
<rect class="ab" x="142" y="114.4" width="4.0" height="35.4"/>
<path class="as" d="M144 115.2V149.8"/>
<path class="at" d="M142 114.4h4"/>
<path class="eb" d="M144 108.5V114.4"/>
<path class="ebt" d="M142.8 108.2h2.4l-1.2 1z"/>
<rect class="ebg" x="142.5" y="114.4" width="3" height="5.9"/>
<path class="eb4" d="M144 114.4V120.3M142.5 120.3h3"/>
<rect class="ab" x="146.4" y="116.5" width="4.0" height="33.3"/>
<path class="as" d="M148.4 117.3V149.8"/>
<path class="at" d="M146.4 116.5h4"/>
<path class="eb" d="M148.4 113V116.5"/>
<path class="ebt" d="M147.2 112.7h2.4l-1.2 1z"/>
<rect class="ebg" x="146.9" y="116.5" width="3" height="3.5"/>
<path class="eb4" d="M148.4 116.5V120M146.9 120h3"/>
<rect class="ab" x="150.9" y="116.5" width="4.0" height="33.3"/>
<path class="as" d="M152.9 117.3V149.8"/>
<path class="at" d="M150.9 116.5h4"/>
<path class="eb" d="M152.9 113V116.5"/>
<path class="ebt" d="M151.7 112.7h2.4l-1.2 1z"/>
<rect class="ebg" x="151.4" y="116.5" width="3" height="3.5"/>
<path class="eb4" d="M152.9 116.5V120M151.4 120h3"/>
<rect class="aw" x="155.3" y="117.2" width="4.0" height="32.6"/>
<path class="aws" d="M157.3 118V149.8"/>
<path class="at" d="M155.3 117.2h4"/>
<rect class="ab" x="164.9" y="110.9" width="4.0" height="38.9"/>
<path class="as" d="M166.9 111.7V149.8"/>
<path class="at" d="M164.9 110.9h4"/>
<path class="eb" d="M166.9 109V110.9"/>
<path class="ebt" d="M165.7 108.7h2.4l-1.2 1z"/>
<rect class="ebg" x="165.4" y="110.9" width="3" height="1.9"/>
<path class="eb4" d="M166.9 110.9V112.8M165.4 112.8h3"/>
<rect class="aw" x="169.4" y="145" width="4.0" height="4.8"/>
<path class="aws" d="M171.4 145.8V149.8"/>
<path class="at" d="M169.4 145h4"/>
<rect class="af" x="106.3" y="102.1" width="67.9" height="47.7"/>
<path class="ax" d="M106.3 102.1V149.8"/>
<path class="axb" d="M106.3 149.8H174.2"/>
<rect class="lg" x="106.9" y="102.7" width="3.4" height="4.3"/>
<text class="al" x="114.6" y="106.6" textLength="9.8" lengthAdjust="spacing">34B1</text>
<path class="tk" d="M104.7 111.6H106.3"/>
<text class="tl" x="95" y="113.3" textLength="7.8" lengthAdjust="spacingAndGlyphs">100</text>
<path class="tk" d="M104.7 130.4H106.3"/>
<text class="tl" x="97.6" y="132.1" textLength="5.2" lengthAdjust="spacingAndGlyphs">50</text>
<path class="tk" d="M104.7 149.8H106.3"/>
<text class="tl" x="100.2" y="151.5" textLength="2.6" lengthAdjust="spacingAndGlyphs">0</text>
<rect class="ab" x="192.5" y="118.6" width="4.0" height="31.5"/>
<path class="as" d="M194.5 119.4V150.1"/>
<path class="at" d="M192.5 118.6h4"/>
<path class="eb" d="M194.5 116.5V118.6"/>
<path class="ebt" d="M193.3 116.2h2.4l-1.2 1z"/>
<rect class="ebg" x="193" y="118.6" width="3" height="2.1"/>
<path class="eb4" d="M194.5 118.6V120.7M193 120.7h3"/>
<rect class="ab" x="197" y="113" width="4.0" height="37.1"/>
<path class="as" d="M199 113.8V150.1"/>
<path class="at" d="M197 113h4"/>
<path class="eb" d="M199 103.2V113"/>
<path class="ebt" d="M197.8 102.9h2.4l-1.2 1z"/>
<rect class="ebg" x="197.5" y="113" width="3" height="9.8"/>
<path class="eb4" d="M199 113V122.8M197.5 122.8h3"/>
<rect class="ab" x="201.5" y="124.1" width="4.0" height="26"/>
<path class="as" d="M203.5 124.9V150.1"/>
<path class="at" d="M201.5 124.1h4"/>
<path class="eb" d="M203.5 112.3V124.1"/>
<path class="ebt" d="M202.3 112h2.4l-1.2 1z"/>
<rect class="ebg" x="202" y="124.1" width="3" height="11.8"/>
<path class="eb4" d="M203.5 124.1V135.9M202 135.9h3"/>
<rect class="ab" x="206" y="120" width="4.0" height="30.1"/>
<path class="as" d="M208 120.8V150.1"/>
<path class="at" d="M206 120h4"/>
<path class="eb" d="M208 116.5V120"/>
<path class="ebt" d="M206.8 116.2h2.4l-1.2 1z"/>
<rect class="ebg" x="206.5" y="120" width="3" height="3.5"/>
<path class="eb4" d="M208 120V123.5M206.5 123.5h3"/>
<rect class="ab" x="210.5" y="115.8" width="4.0" height="34.3"/>
<path class="as" d="M212.5 116.6V150.1"/>
<path class="at" d="M210.5 115.8h4"/>
<path class="eb" d="M212.5 114V115.8"/>
<path class="ebt" d="M211.3 113.7h2.4l-1.2 1z"/>
<rect class="ebg" x="211" y="115.8" width="3" height="1.8"/>
<path class="eb4" d="M212.5 115.8V117.6M211 117.6h3"/>
<rect class="ab" x="215" y="105.3" width="4.0" height="44.8"/>
<path class="as" d="M217 106.1V150.1"/>
<path class="at" d="M215 105.3h4"/>
<path class="eb" d="M217 102.5V105.3"/>
<path class="ebt" d="M215.8 102.2h2.4l-1.2 1z"/>
<rect class="ebg" x="215.5" y="105.3" width="3" height="2.8"/>
<path class="eb4" d="M217 105.3V108.1M215.5 108.1h3"/>
<rect class="ab" x="219.5" y="114.4" width="4.0" height="35.7"/>
<path class="as" d="M221.5 115.2V150.1"/>
<path class="at" d="M219.5 114.4h4"/>
<path class="eb" d="M221.5 111.3V114.4"/>
<path class="ebt" d="M220.3 111h2.4l-1.2 1z"/>
<rect class="ebg" x="220" y="114.4" width="3" height="3.1"/>
<path class="eb4" d="M221.5 114.4V117.5M220 117.5h3"/>
<rect class="aw" x="224" y="111.8" width="4.0" height="38.3"/>
<path class="aws" d="M226 112.6V150.1"/>
<path class="at" d="M224 111.8h4"/>
<rect class="ab" x="228.5" y="114.6" width="4.0" height="35.5"/>
<path class="as" d="M230.5 115.4V150.1"/>
<path class="at" d="M228.5 114.6h4"/>
<path class="eb" d="M230.5 111.3V114.6"/>
<path class="ebt" d="M229.3 111h2.4l-1.2 1z"/>
<rect class="ebg" x="229" y="114.6" width="3" height="3.3"/>
<path class="eb4" d="M230.5 114.6V117.9M229 117.9h3"/>
<rect class="ab" x="233" y="120" width="4.0" height="30.1"/>
<path class="as" d="M235 120.8V150.1"/>
<path class="at" d="M233 120h4"/>
<path class="eb" d="M235 116.5V120"/>
<path class="ebt" d="M233.8 116.2h2.4l-1.2 1z"/>
<rect class="ebg" x="233.5" y="120" width="3" height="3.5"/>
<path class="eb4" d="M235 120V123.5M233.5 123.5h3"/>
<rect class="ab" x="237.5" y="115.8" width="4.0" height="34.3"/>
<path class="as" d="M239.5 116.6V150.1"/>
<path class="at" d="M237.5 115.8h4"/>
<path class="eb" d="M239.5 114V115.8"/>
<path class="ebt" d="M238.3 113.7h2.4l-1.2 1z"/>
<rect class="ebg" x="238" y="115.8" width="3" height="1.8"/>
<path class="eb4" d="M239.5 115.8V117.6M238 117.6h3"/>
<rect class="ab" x="242" y="119.7" width="4.0" height="30.4"/>
<path class="as" d="M244 120.5V150.1"/>
<path class="at" d="M242 119.7h4"/>
<path class="eb" d="M244 117.2V119.7"/>
<path class="ebt" d="M242.8 116.9h2.4l-1.2 1z"/>
<rect class="ebg" x="242.5" y="119.7" width="3" height="2.5"/>
<path class="eb4" d="M244 119.7V122.2M242.5 122.2h3"/>
<rect class="ab" x="251.3" y="117.2" width="4.0" height="32.9"/>
<path class="as" d="M253.3 118V150.1"/>
<path class="at" d="M251.3 117.2h4"/>
<path class="eb" d="M253.3 115V117.2"/>
<path class="ebt" d="M252.1 114.7h2.4l-1.2 1z"/>
<rect class="ebg" x="251.8" y="117.2" width="3" height="2.2"/>
<path class="eb4" d="M253.3 117.2V119.4M251.8 119.4h3"/>
<rect class="aw" x="255.7" y="134.6" width="4.0" height="15.5"/>
<path class="aws" d="M257.7 135.4V150.1"/>
<path class="at" d="M255.7 134.6h4"/>
<rect class="af" x="192.3" y="102.2" width="67.4" height="47.9"/>
<path class="ax" d="M192.3 102.2V150.1"/>
<path class="axb" d="M192.3 150.1H259.7"/>
<rect class="lg" x="192.9" y="102.8" width="3.4" height="4.3"/>
<text class="al" x="200.55" y="106.7" textLength="10.5" lengthAdjust="spacing">26H7</text>
<path class="tk" d="M190.7 117.4H192.3"/>
<text class="tl" x="181" y="119.1" textLength="7.8" lengthAdjust="spacingAndGlyphs">100</text>
<path class="tk" d="M190.7 133.3H192.3"/>
<text class="tl" x="183.6" y="135" textLength="5.2" lengthAdjust="spacingAndGlyphs">50</text>
<path class="tk" d="M190.7 150.1H192.3"/>
<text class="tl" x="186.2" y="151.8" textLength="2.6" lengthAdjust="spacingAndGlyphs">0</text>
<rect class="ab" x="21.65" y="159.5" width="4.0" height="40.5"/>
<path class="as" d="M23.65 160.3V200"/>
<path class="at" d="M21.65 159.5h4"/>
<path class="eb" d="M23.65 156.7V159.5"/>
<path class="ebt" d="M22.45 156.4h2.4l-1.2 1z"/>
<rect class="ebg" x="22.15" y="159.5" width="3" height="2.8"/>
<path class="eb4" d="M23.65 159.5V162.3M22.15 162.3h3"/>
<rect class="ab" x="25.85" y="167.2" width="4.0" height="32.8"/>
<path class="as" d="M27.85 168V200"/>
<path class="at" d="M25.85 167.2h4"/>
<path class="eb" d="M27.85 160.9V167.2"/>
<path class="ebt" d="M26.65 160.6h2.4l-1.2 1z"/>
<rect class="ebg" x="26.35" y="167.2" width="3" height="6.3"/>
<path class="eb4" d="M27.85 167.2V173.5M26.35 173.5h3"/>
<rect class="aw" x="30.05" y="161.3" width="4.0" height="38.7"/>
<path class="aws" d="M32.05 162.1V200"/>
<path class="at" d="M30.05 161.3h4"/>
<rect class="ab" x="34.25" y="167.2" width="4.0" height="32.8"/>
<path class="as" d="M36.25 168V200"/>
<path class="at" d="M34.25 167.2h4"/>
<path class="eb" d="M36.25 162.3V167.2"/>
<path class="ebt" d="M35.05 162h2.4l-1.2 1z"/>
<rect class="ebg" x="34.75" y="167.2" width="3" height="4.9"/>
<path class="eb4" d="M36.25 167.2V172.1M34.75 172.1h3"/>
<rect class="ab" x="38.45" y="168.6" width="4.0" height="31.4"/>
<path class="as" d="M40.45 169.4V200"/>
<path class="at" d="M38.45 168.6h4"/>
<path class="eb" d="M40.45 165.8V168.6"/>
<path class="ebt" d="M39.25 165.5h2.4l-1.2 1z"/>
<rect class="ebg" x="38.95" y="168.6" width="3" height="2.8"/>
<path class="eb4" d="M40.45 168.6V171.4M38.95 171.4h3"/>
<rect class="ab" x="42.65" y="153.2" width="4.0" height="46.8"/>
<path class="as" d="M44.65 154V200"/>
<path class="at" d="M42.65 153.2h4"/>
<path class="eb" d="M44.65 151.2V153.2"/>
<path class="ebt" d="M43.45 150.9h2.4l-1.2 1z"/>
<rect class="ebg" x="43.15" y="153.2" width="3" height="2"/>
<path class="eb4" d="M44.65 153.2V155.2M43.15 155.2h3"/>
<rect class="ab" x="46.85" y="170.6" width="4.0" height="29.4"/>
<path class="as" d="M48.85 171.4V200"/>
<path class="at" d="M46.85 170.6h4"/>
<path class="eb" d="M48.85 167.2V170.6"/>
<path class="ebt" d="M47.65 166.9h2.4l-1.2 1z"/>
<rect class="ebg" x="47.35" y="170.6" width="3" height="3.4"/>
<path class="eb4" d="M48.85 170.6V174M47.35 174h3"/>
<rect class="ab" x="51.05" y="160.9" width="4.0" height="39.1"/>
<path class="as" d="M53.05 161.7V200"/>
<path class="at" d="M51.05 160.9h4"/>
<path class="eb" d="M53.05 157.4V160.9"/>
<path class="ebt" d="M51.85 157.1h2.4l-1.2 1z"/>
<rect class="ebg" x="51.55" y="160.9" width="3" height="3.5"/>
<path class="eb4" d="M53.05 160.9V164.4M51.55 164.4h3"/>
<rect class="ab" x="55.25" y="166.5" width="4.0" height="33.5"/>
<path class="as" d="M57.25 167.3V200"/>
<path class="at" d="M55.25 166.5h4"/>
<path class="eb" d="M57.25 162.3V166.5"/>
<path class="ebt" d="M56.05 162h2.4l-1.2 1z"/>
<rect class="ebg" x="55.75" y="166.5" width="3" height="4.2"/>
<path class="eb4" d="M57.25 166.5V170.7M55.75 170.7h3"/>
<rect class="ab" x="59.45" y="171.3" width="4.0" height="28.7"/>
<path class="as" d="M61.45 172.1V200"/>
<path class="at" d="M59.45 171.3h4"/>
<path class="eb" d="M61.45 169.3V171.3"/>
<path class="ebt" d="M60.25 169h2.4l-1.2 1z"/>
<rect class="ebg" x="59.95" y="171.3" width="3" height="2"/>
<path class="eb4" d="M61.45 171.3V173.3M59.95 173.3h3"/>
<rect class="aw" x="63.65" y="164.1" width="4.0" height="35.9"/>
<path class="aws" d="M65.65 164.9V200"/>
<path class="at" d="M63.65 164.1h4"/>
<rect class="aw" x="67.85" y="167.9" width="4.0" height="32.1"/>
<path class="aws" d="M69.85 168.7V200"/>
<path class="at" d="M67.85 167.9h4"/>
<rect class="ab" x="72.05" y="170.6" width="4.0" height="29.4"/>
<path class="as" d="M74.05 171.4V200"/>
<path class="at" d="M72.05 170.6h4"/>
<path class="eb" d="M74.05 168.3V170.6"/>
<path class="ebt" d="M72.85 168h2.4l-1.2 1z"/>
<rect class="ebg" x="72.55" y="170.6" width="3" height="2.3"/>
<path class="eb4" d="M74.05 170.6V172.9M72.55 172.9h3"/>
<rect class="ab" x="80.6" y="166.5" width="4.0" height="33.5"/>
<path class="as" d="M82.6 167.3V200"/>
<path class="at" d="M80.6 166.5h4"/>
<path class="eb" d="M82.6 165V166.5"/>
<path class="ebt" d="M81.4 164.7h2.4l-1.2 1z"/>
<rect class="ebg" x="81.1" y="166.5" width="3" height="1.5"/>
<path class="eb4" d="M82.6 166.5V168M81.1 168h3"/>
<rect class="aw" x="84.9" y="194.4" width="4.0" height="5.6"/>
<path class="aws" d="M86.9 195.2V200"/>
<path class="at" d="M84.9 194.4h4"/>
<rect class="af" x="21.4" y="150.8" width="67.9" height="49.2"/>
<path class="ax" d="M21.4 150.8V200"/>
<path class="axb" d="M21.4 200H89.3"/>
<rect class="lg" x="22" y="151.4" width="3.4" height="4.3"/>
<text class="al" x="30" y="155.3" textLength="15.1" lengthAdjust="spacing">B18.7.7</text>
<path class="tk" d="M19.8 166.8H21.4"/>
<text class="tl" x="10.1" y="168.5" textLength="7.8" lengthAdjust="spacingAndGlyphs">100</text>
<path class="tk" d="M19.8 183.5H21.4"/>
<text class="tl" x="12.7" y="185.2" textLength="5.2" lengthAdjust="spacingAndGlyphs">50</text>
<path class="tk" d="M19.8 200H21.4"/>
<text class="tl" x="15.3" y="201.7" textLength="2.6" lengthAdjust="spacingAndGlyphs">0</text>
<rect class="ab" x="106.1" y="166.5" width="4.0" height="33.9"/>
<path class="as" d="M108.1 167.3V200.4"/>
<path class="at" d="M106.1 166.5h4"/>
<path class="eb" d="M108.1 161.8V166.5"/>
<path class="ebt" d="M106.9 161.5h2.4l-1.2 1z"/>
<rect class="ebg" x="106.6" y="166.5" width="3" height="4.7"/>
<path class="eb4" d="M108.1 166.5V171.2M106.6 171.2h3"/>
<rect class="ab" x="110.5" y="160.9" width="4.0" height="39.5"/>
<path class="as" d="M112.5 161.7V200.4"/>
<path class="at" d="M110.5 160.9h4"/>
<path class="eb" d="M112.5 155.3V160.9"/>
<path class="ebt" d="M111.3 155h2.4l-1.2 1z"/>
<rect class="ebg" x="111" y="160.9" width="3" height="5.6"/>
<path class="eb4" d="M112.5 160.9V166.5M111 166.5h3"/>
<rect class="ab" x="115" y="160.9" width="4.0" height="39.5"/>
<path class="as" d="M117 161.7V200.4"/>
<path class="at" d="M115 160.9h4"/>
<path class="eb" d="M117 158V160.9"/>
<path class="ebt" d="M115.8 157.7h2.4l-1.2 1z"/>
<rect class="ebg" x="115.5" y="160.9" width="3" height="2.9"/>
<path class="eb4" d="M117 160.9V163.8M115.5 163.8h3"/>
<rect class="ab" x="119.4" y="169.3" width="4.0" height="31.1"/>
<path class="as" d="M121.4 170.1V200.4"/>
<path class="at" d="M119.4 169.3h4"/>
<path class="eb" d="M121.4 157.4V169.3"/>
<path class="ebt" d="M120.2 157.1h2.4l-1.2 1z"/>
<rect class="ebg" x="119.9" y="169.3" width="3" height="11.9"/>
<path class="eb4" d="M121.4 169.3V181.2M119.9 181.2h3"/>
<rect class="ab" x="123.9" y="164.4" width="4.0" height="36"/>
<path class="as" d="M125.9 165.2V200.4"/>
<path class="at" d="M123.9 164.4h4"/>
<path class="eb" d="M125.9 160.9V164.4"/>
<path class="ebt" d="M124.7 160.6h2.4l-1.2 1z"/>
<rect class="ebg" x="124.4" y="164.4" width="3" height="3.5"/>
<path class="eb4" d="M125.9 164.4V167.9M124.4 167.9h3"/>
<rect class="aw" x="128.3" y="161.3" width="4.0" height="39.1"/>
<path class="aws" d="M130.3 162.1V200.4"/>
<path class="at" d="M128.3 161.3h4"/>
<rect class="ab" x="132.8" y="157.4" width="4.0" height="43"/>
<path class="as" d="M134.8 158.2V200.4"/>
<path class="at" d="M132.8 157.4h4"/>
<path class="eb" d="M134.8 151.8V157.4"/>
<path class="ebt" d="M133.6 151.5h2.4l-1.2 1z"/>
<rect class="ebg" x="133.3" y="157.4" width="3" height="5.6"/>
<path class="eb4" d="M134.8 157.4V163M133.3 163h3"/>
<rect class="ab" x="137.2" y="159" width="4.0" height="41.4"/>
<path class="as" d="M139.2 159.8V200.4"/>
<path class="at" d="M137.2 159h4"/>
<path class="eb" d="M139.2 156.7V159"/>
<path class="ebt" d="M138 156.4h2.4l-1.2 1z"/>
<rect class="ebg" x="137.7" y="159" width="3" height="2.3"/>
<path class="eb4" d="M139.2 159V161.3M137.7 161.3h3"/>
<rect class="aw" x="141.7" y="167.2" width="4.0" height="33.2"/>
<path class="aws" d="M143.7 168V200.4"/>
<path class="at" d="M141.7 167.2h4"/>
<rect class="ab" x="146.1" y="163" width="4.0" height="37.4"/>
<path class="as" d="M148.1 163.8V200.4"/>
<path class="at" d="M146.1 163h4"/>
<path class="eb" d="M148.1 160.9V163"/>
<path class="ebt" d="M146.9 160.6h2.4l-1.2 1z"/>
<rect class="ebg" x="146.6" y="163" width="3" height="2.1"/>
<path class="eb4" d="M148.1 163V165.1M146.6 165.1h3"/>
<rect class="ab" x="150.6" y="164.4" width="4.0" height="36"/>
<path class="as" d="M152.6 165.2V200.4"/>
<path class="at" d="M150.6 164.4h4"/>
<path class="eb" d="M152.6 161.6V164.4"/>
<path class="ebt" d="M151.4 161.3h2.4l-1.2 1z"/>
<rect class="ebg" x="151.1" y="164.4" width="3" height="2.8"/>
<path class="eb4" d="M152.6 164.4V167.2M151.1 167.2h3"/>
<rect class="ab" x="155" y="162.3" width="4.0" height="38.1"/>
<path class="as" d="M157 163.1V200.4"/>
<path class="at" d="M155 162.3h4"/>
<path class="eb" d="M157 158V162.3"/>
<path class="ebt" d="M155.8 157.7h2.4l-1.2 1z"/>
<rect class="ebg" x="155.5" y="162.3" width="3" height="4.3"/>
<path class="eb4" d="M157 162.3V166.6M155.5 166.6h3"/>
<rect class="aw" x="164.6" y="162.3" width="4.0" height="38.1"/>
<path class="aws" d="M166.6 163.1V200.4"/>
<path class="at" d="M164.6 162.3h4"/>
<rect class="aw" x="169.1" y="191.6" width="4.0" height="8.8"/>
<path class="aws" d="M171.1 192.4V200.4"/>
<path class="at" d="M169.1 191.6h4"/>
<rect class="af" x="106" y="150.9" width="67.9" height="49.5"/>
<path class="ax" d="M106 150.9V200.4"/>
<path class="axb" d="M106 200.4H173.9"/>
<rect class="lg" x="106.6" y="151.5" width="3.4" height="4.3"/>
<text class="al" x="113.35" y="155.4" textLength="13.6" lengthAdjust="spacing">4/3/17</text>
<path class="tk" d="M104.4 162.3H106"/>
<text class="tl" x="94.7" y="164" textLength="7.8" lengthAdjust="spacingAndGlyphs">100</text>
<path class="tk" d="M104.4 181.1H106"/>
<text class="tl" x="97.3" y="182.8" textLength="5.2" lengthAdjust="spacingAndGlyphs">50</text>
<path class="tk" d="M104.4 200.4H106"/>
<text class="tl" x="99.9" y="202.1" textLength="2.6" lengthAdjust="spacingAndGlyphs">0</text>
<rect class="ab" x="192.2" y="174.1" width="4.0" height="26.3"/>
<path class="as" d="M194.2 174.9V200.4"/>
<path class="at" d="M192.2 174.1h4"/>
<path class="eb" d="M194.2 169.3V174.1"/>
<path class="ebt" d="M193 169h2.4l-1.2 1z"/>
<rect class="ebg" x="192.7" y="174.1" width="3" height="4.8"/>
<path class="eb4" d="M194.2 174.1V178.9M192.7 178.9h3"/>
<rect class="ab" x="196.7" y="172" width="4.0" height="28.4"/>
<path class="as" d="M198.7 172.8V200.4"/>
<path class="at" d="M196.7 172h4"/>
<path class="eb" d="M198.7 167.2V172"/>
<path class="ebt" d="M197.5 166.9h2.4l-1.2 1z"/>
<rect class="ebg" x="197.2" y="172" width="3" height="4.8"/>
<path class="eb4" d="M198.7 172V176.8M197.2 176.8h3"/>
<rect class="aw" x="201.2" y="189.5" width="4.0" height="10.9"/>
<path class="aws" d="M203.2 190.3V200.4"/>
<path class="at" d="M201.2 189.5h4"/>
<rect class="aw" x="205.7" y="169.3" width="4.0" height="31.1"/>
<path class="aws" d="M207.7 170.1V200.4"/>
<path class="at" d="M205.7 169.3h4"/>
<rect class="aw" x="210.2" y="187" width="4.0" height="13.4"/>
<path class="aws" d="M212.2 187.8V200.4"/>
<path class="at" d="M210.2 187h4"/>
<rect class="ab" x="214.7" y="167.2" width="4.0" height="33.2"/>
<path class="as" d="M216.7 168V200.4"/>
<path class="at" d="M214.7 167.2h4"/>
<path class="eb" d="M216.7 161.3V167.2"/>
<path class="ebt" d="M215.5 161h2.4l-1.2 1z"/>
<rect class="ebg" x="215.2" y="167.2" width="3" height="5.9"/>
<path class="eb4" d="M216.7 167.2V173.1M215.2 173.1h3"/>
<rect class="ab" x="219.2" y="164.4" width="4.0" height="36"/>
<path class="as" d="M221.2 165.2V200.4"/>
<path class="at" d="M219.2 164.4h4"/>
<path class="eb" d="M221.2 154.6V164.4"/>
<path class="ebt" d="M220 154.3h2.4l-1.2 1z"/>
<rect class="ebg" x="219.7" y="164.4" width="3" height="9.8"/>
<path class="eb4" d="M221.2 164.4V174.2M219.7 174.2h3"/>
<rect class="ab" x="223.7" y="172" width="4.0" height="28.4"/>
<path class="as" d="M225.7 172.8V200.4"/>
<path class="at" d="M223.7 172h4"/>
<path class="eb" d="M225.7 171.3V172"/>
<path class="ebt" d="M224.5 171h2.4l-1.2 0.7z"/>
<rect class="ebg" x="224.2" y="172" width="3" height="0.7"/>
<path class="eb4" d="M225.7 172V172.7M224.2 172.7h3"/>
<rect class="aw" x="228.2" y="177.6" width="4.0" height="22.8"/>
<path class="aws" d="M230.2 178.4V200.4"/>
<path class="at" d="M228.2 177.6h4"/>
<rect class="ab" x="232.7" y="183.2" width="4.0" height="17.2"/>
<path class="as" d="M234.7 184V200.4"/>
<path class="at" d="M232.7 183.2h4"/>
<path class="eb" d="M234.7 180.4V183.2"/>
<path class="ebt" d="M233.5 180.1h2.4l-1.2 1z"/>
<rect class="ebg" x="233.2" y="183.2" width="3" height="2.8"/>
<path class="eb4" d="M234.7 183.2V186M233.2 186h3"/>
<rect class="aw" x="237.2" y="190.2" width="4.0" height="10.2"/>
<path class="aws" d="M239.2 191V200.4"/>
<path class="at" d="M237.2 190.2h4"/>
<rect class="aw" x="241.7" y="166.5" width="4.0" height="33.9"/>
<path class="aws" d="M243.7 167.3V200.4"/>
<path class="at" d="M241.7 166.5h4"/>
<rect class="ab" x="251" y="165.5" width="4.0" height="34.9"/>
<path class="as" d="M253 166.3V200.4"/>
<path class="at" d="M251 165.5h4"/>
<path class="eb" d="M253 160.2V165.5"/>
<path class="ebt" d="M251.8 159.9h2.4l-1.2 1z"/>
<rect class="ebg" x="251.5" y="165.5" width="3" height="5.3"/>
<path class="eb4" d="M253 165.5V170.8M251.5 170.8h3"/>
<rect class="aw" x="255.4" y="190.9" width="4.0" height="9.5"/>
<path class="aws" d="M257.4 191.7V200.4"/>
<path class="at" d="M255.4 190.9h4"/>
<rect class="af" x="192" y="151.25" width="67.5" height="49.15"/>
<path class="ax" d="M192 151.25V200.4"/>
<path class="axb" d="M192 200.4H259.5"/>
<rect class="lg" x="192.6" y="151.85" width="3.4" height="4.3"/>
<text class="al" x="200.4" y="155.75" textLength="7.7" lengthAdjust="spacing">SF4</text>
<path class="tk" d="M190.4 165.5H192"/>
<text class="tl" x="180.7" y="167.2" textLength="7.8" lengthAdjust="spacingAndGlyphs">100</text>
<path class="tk" d="M190.4 182.2H192"/>
<text class="tl" x="183.3" y="183.9" textLength="5.2" lengthAdjust="spacingAndGlyphs">50</text>
<path class="tk" d="M190.4 200.4H192"/>
<text class="tl" x="185.9" y="202.1" textLength="2.6" lengthAdjust="spacingAndGlyphs">0</text>
<rect class="aw" x="21.65" y="223" width="4.0" height="27.5"/>
<path class="aws" d="M23.65 223.8V250.5"/>
<path class="at" d="M21.65 223h4"/>
<rect class="aw" x="25.85" y="212.3" width="4.0" height="38.2"/>
<path class="aws" d="M27.85 213.1V250.5"/>
<path class="at" d="M25.85 212.3h4"/>
<rect class="ab" x="30.05" y="218.2" width="4.0" height="32.3"/>
<path class="as" d="M32.05 219V250.5"/>
<path class="at" d="M30.05 218.2h4"/>
<path class="eb" d="M32.05 215.4V218.2"/>
<path class="ebt" d="M30.85 215.1h2.4l-1.2 1z"/>
<rect class="ebg" x="30.55" y="218.2" width="3" height="2.8"/>
<path class="eb4" d="M32.05 218.2V221M30.55 221h3"/>
<rect class="ab" x="34.25" y="221" width="4.0" height="29.5"/>
<path class="as" d="M36.25 221.8V250.5"/>
<path class="at" d="M34.25 221h4"/>
<path class="eb" d="M36.25 214V221"/>
<path class="ebt" d="M35.05 213.7h2.4l-1.2 1z"/>
<rect class="ebg" x="34.75" y="221" width="3" height="7"/>
<path class="eb4" d="M36.25 221V228M34.75 228h3"/>
<rect class="ab" x="38.45" y="216" width="4.0" height="34.5"/>
<path class="as" d="M40.45 216.8V250.5"/>
<path class="at" d="M38.45 216h4"/>
<path class="eb" d="M40.45 211.9V216"/>
<path class="ebt" d="M39.25 211.6h2.4l-1.2 1z"/>
<rect class="ebg" x="38.95" y="216" width="3" height="4.1"/>
<path class="eb4" d="M40.45 216V220.1M38.95 220.1h3"/>
<rect class="ab" x="42.65" y="211.9" width="4.0" height="38.6"/>
<path class="as" d="M44.65 212.7V250.5"/>
<path class="at" d="M42.65 211.9h4"/>
<path class="eb" d="M44.65 206.3V211.9"/>
<path class="ebt" d="M43.45 206h2.4l-1.2 1z"/>
<rect class="ebg" x="43.15" y="211.9" width="3" height="5.6"/>
<path class="eb4" d="M44.65 211.9V217.5M43.15 217.5h3"/>
<rect class="ab" x="46.85" y="210.5" width="4.0" height="40"/>
<path class="as" d="M48.85 211.3V250.5"/>
<path class="at" d="M46.85 210.5h4"/>
<path class="eb" d="M48.85 207.7V210.5"/>
<path class="ebt" d="M47.65 207.4h2.4l-1.2 1z"/>
<rect class="ebg" x="47.35" y="210.5" width="3" height="2.8"/>
<path class="eb4" d="M48.85 210.5V213.3M47.35 213.3h3"/>
<rect class="aw" x="51.05" y="220.7" width="4.0" height="29.8"/>
<path class="aws" d="M53.05 221.5V250.5"/>
<path class="at" d="M51.05 220.7h4"/>
<rect class="ab" x="55.25" y="216.8" width="4.0" height="33.7"/>
<path class="as" d="M57.25 217.6V250.5"/>
<path class="at" d="M55.25 216.8h4"/>
<path class="eb" d="M57.25 212.8V216.8"/>
<path class="ebt" d="M56.05 212.5h2.4l-1.2 1z"/>
<rect class="ebg" x="55.75" y="216.8" width="3" height="4"/>
<path class="eb4" d="M57.25 216.8V220.8M55.75 220.8h3"/>
<rect class="ab" x="59.45" y="213.3" width="4.0" height="37.2"/>
<path class="as" d="M61.45 214.1V250.5"/>
<path class="at" d="M59.45 213.3h4"/>
<path class="eb" d="M61.45 208.4V213.3"/>
<path class="ebt" d="M60.25 208.1h2.4l-1.2 1z"/>
<rect class="ebg" x="59.95" y="213.3" width="3" height="4.9"/>
<path class="eb4" d="M61.45 213.3V218.2M59.95 218.2h3"/>
<rect class="ab" x="63.65" y="220.3" width="4.0" height="30.2"/>
<path class="as" d="M65.65 221.1V250.5"/>
<path class="at" d="M63.65 220.3h4"/>
<path class="eb" d="M65.65 214V220.3"/>
<path class="ebt" d="M64.45 213.7h2.4l-1.2 1z"/>
<rect class="ebg" x="64.15" y="220.3" width="3" height="6.3"/>
<path class="eb4" d="M65.65 220.3V226.6M64.15 226.6h3"/>
<rect class="aw" x="67.85" y="219.6" width="4.0" height="30.9"/>
<path class="aws" d="M69.85 220.4V250.5"/>
<path class="at" d="M67.85 219.6h4"/>
<rect class="aw" x="72.05" y="220.7" width="4.0" height="29.8"/>
<path class="aws" d="M74.05 221.5V250.5"/>
<path class="at" d="M72.05 220.7h4"/>
<rect class="ab" x="80.6" y="211.2" width="4.0" height="39.3"/>
<path class="as" d="M82.6 212V250.5"/>
<path class="at" d="M80.6 211.2h4"/>
<path class="eb" d="M82.6 208.4V211.2"/>
<path class="ebt" d="M81.4 208.1h2.4l-1.2 1z"/>
<rect class="ebg" x="81.1" y="211.2" width="3" height="2.8"/>
<path class="eb4" d="M82.6 211.2V214M81.1 214h3"/>
<rect class="aw" x="84.9" y="241.9" width="4.0" height="8.6"/>
<path class="aws" d="M86.9 242.7V250.5"/>
<path class="at" d="M84.9 241.9h4"/>
<rect class="af" x="21.3" y="201.7" width="68" height="48.8"/>
<path class="ax" d="M21.3 201.7V250.5"/>
<path class="axb" d="M21.3 250.5H89.3"/>
<rect class="lg" x="21.9" y="202.3" width="3.4" height="4.3"/>
<text class="al" x="29" y="206.2" textLength="18.2" lengthAdjust="spacing">D14HD11</text>
<path class="tk" d="M19.7 211.2H21.3"/>
<text class="tl" x="10" y="212.9" textLength="7.8" lengthAdjust="spacingAndGlyphs">100</text>
<path class="tk" d="M19.7 230.8H21.3"/>
<text class="tl" x="12.6" y="232.5" textLength="5.2" lengthAdjust="spacingAndGlyphs">50</text>
<path class="tk" d="M19.7 250.5H21.3"/>
<text class="tl" x="15.2" y="252.2" textLength="2.6" lengthAdjust="spacingAndGlyphs">0</text>
<rect class="ab" x="105.9" y="214" width="4.0" height="36.7"/>
<path class="as" d="M107.9 214.8V250.7"/>
<path class="at" d="M105.9 214h4"/>
<path class="eb" d="M107.9 212.3V214"/>
<path class="ebt" d="M106.7 212h2.4l-1.2 1z"/>
<rect class="ebg" x="106.4" y="214" width="3" height="1.7"/>
<path class="eb4" d="M107.9 214V215.7M106.4 215.7h3"/>
<rect class="aw" x="110.3" y="214" width="4.0" height="36.7"/>
<path class="aws" d="M112.3 214.8V250.7"/>
<path class="at" d="M110.3 214h4"/>
<rect class="aw" x="114.8" y="212.3" width="4.0" height="38.4"/>
<path class="aws" d="M116.8 213.1V250.7"/>
<path class="at" d="M114.8 212.3h4"/>
<rect class="aw" x="119.2" y="215.6" width="4.0" height="35.1"/>
<path class="aws" d="M121.2 216.4V250.7"/>
<path class="at" d="M119.2 215.6h4"/>
<rect class="aw" x="123.7" y="214" width="4.0" height="36.7"/>
<path class="aws" d="M125.7 214.8V250.7"/>
<path class="at" d="M123.7 214h4"/>
<rect class="aw" x="128.1" y="212.3" width="4.0" height="38.4"/>
<path class="aws" d="M130.1 213.1V250.7"/>
<path class="at" d="M128.1 212.3h4"/>
<rect class="ab" x="132.6" y="210" width="4.0" height="40.7"/>
<path class="as" d="M134.6 210.8V250.7"/>
<path class="at" d="M132.6 210h4"/>
<path class="eb" d="M134.6 204.2V210"/>
<path class="ebt" d="M133.4 203.9h2.4l-1.2 1z"/>
<rect class="ebg" x="133.1" y="210" width="3" height="5.8"/>
<path class="eb4" d="M134.6 210V215.8M133.1 215.8h3"/>
<rect class="ab" x="137" y="214" width="4.0" height="36.7"/>
<path class="as" d="M139 214.8V250.7"/>
<path class="at" d="M137 214h4"/>
<path class="eb" d="M139 212.6V214"/>
<path class="ebt" d="M137.8 212.3h2.4l-1.2 1z"/>
<rect class="ebg" x="137.5" y="214" width="3" height="1.4"/>
<path class="eb4" d="M139 214V215.4M137.5 215.4h3"/>
<rect class="aw" x="141.5" y="215.4" width="4.0" height="35.3"/>
<path class="aws" d="M143.5 216.2V250.7"/>
<path class="at" d="M141.5 215.4h4"/>
<rect class="ab" x="145.9" y="218.2" width="4.0" height="32.5"/>
<path class="as" d="M147.9 219V250.7"/>
<path class="at" d="M145.9 218.2h4"/>
<path class="eb" d="M147.9 214.7V218.2"/>
<path class="ebt" d="M146.7 214.4h2.4l-1.2 1z"/>
<rect class="ebg" x="146.4" y="218.2" width="3" height="3.5"/>
<path class="eb4" d="M147.9 218.2V221.7M146.4 221.7h3"/>
<rect class="ab" x="150.4" y="214.7" width="4.0" height="36"/>
<path class="as" d="M152.4 215.5V250.7"/>
<path class="at" d="M150.4 214.7h4"/>
<path class="eb" d="M152.4 212.6V214.7"/>
<path class="ebt" d="M151.2 212.3h2.4l-1.2 1z"/>
<rect class="ebg" x="150.9" y="214.7" width="3" height="2.1"/>
<path class="eb4" d="M152.4 214.7V216.8M150.9 216.8h3"/>
<rect class="ab" x="154.8" y="212.3" width="4.0" height="38.4"/>
<path class="as" d="M156.8 213.1V250.7"/>
<path class="at" d="M154.8 212.3h4"/>
<path class="eb" d="M156.8 207.7V212.3"/>
<path class="ebt" d="M155.6 207.4h2.4l-1.2 1z"/>
<rect class="ebg" x="155.3" y="212.3" width="3" height="4.6"/>
<path class="eb4" d="M156.8 212.3V216.9M155.3 216.9h3"/>
<rect class="ab" x="164.4" y="216" width="4.0" height="34.7"/>
<path class="as" d="M166.4 216.8V250.7"/>
<path class="at" d="M164.4 216h4"/>
<path class="eb" d="M166.4 211.9V216"/>
<path class="ebt" d="M165.2 211.6h2.4l-1.2 1z"/>
<rect class="ebg" x="164.9" y="216" width="3" height="4.1"/>
<path class="eb4" d="M166.4 216V220.1M164.9 220.1h3"/>
<rect class="aw" x="168.9" y="240.5" width="4.0" height="10.2"/>
<path class="aws" d="M170.9 241.3V250.7"/>
<path class="at" d="M168.9 240.5h4"/>
<rect class="af" x="105.8" y="201.8" width="67.8" height="48.9"/>
<path class="ax" d="M105.8 201.8V250.7"/>
<path class="axb" d="M105.8 250.7H173.6"/>
<rect class="lg" x="106.4" y="202.4" width="3.4" height="4.3"/>
<text class="al" x="114.05" y="206.3" textLength="20.5" lengthAdjust="spacing">YG-C94G7</text>
<path class="tk" d="M104.2 214H105.8"/>
<text class="tl" x="94.5" y="215.7" textLength="7.8" lengthAdjust="spacingAndGlyphs">100</text>
<path class="tk" d="M104.2 232.2H105.8"/>
<text class="tl" x="97.1" y="233.9" textLength="5.2" lengthAdjust="spacingAndGlyphs">50</text>
<path class="tk" d="M104.2 250.7H105.8"/>
<text class="tl" x="99.7" y="252.4" textLength="2.6" lengthAdjust="spacingAndGlyphs">0</text>
<rect class="aw" x="191.9" y="224" width="4.0" height="26.7"/>
<path class="aws" d="M193.9 224.8V250.7"/>
<path class="at" d="M191.9 224h4"/>
<rect class="ab" x="196.4" y="211.9" width="4.0" height="38.8"/>
<path class="as" d="M198.4 212.7V250.7"/>
<path class="at" d="M196.4 211.9h4"/>
<path class="eb" d="M198.4 206.3V211.9"/>
<path class="ebt" d="M197.2 206h2.4l-1.2 1z"/>
<rect class="ebg" x="196.9" y="211.9" width="3" height="5.6"/>
<path class="eb4" d="M198.4 211.9V217.5M196.9 217.5h3"/>
<rect class="aw" x="200.9" y="228" width="4.0" height="22.7"/>
<path class="aws" d="M202.9 228.8V250.7"/>
<path class="at" d="M200.9 228h4"/>
<rect class="ab" x="205.4" y="216.5" width="4.0" height="34.2"/>
<path class="as" d="M207.4 217.3V250.7"/>
<path class="at" d="M205.4 216.5h4"/>
<path class="eb" d="M207.4 209.8V216.5"/>
<path class="ebt" d="M206.2 209.5h2.4l-1.2 1z"/>
<rect class="ebg" x="205.9" y="216.5" width="3" height="6.7"/>
<path class="eb4" d="M207.4 216.5V223.2M205.9 223.2h3"/>
<rect class="ab" x="209.9" y="214" width="4.0" height="36.7"/>
<path class="as" d="M211.9 214.8V250.7"/>
<path class="at" d="M209.9 214h4"/>
<path class="eb" d="M211.9 205.6V214"/>
<path class="ebt" d="M210.7 205.3h2.4l-1.2 1z"/>
<rect class="ebg" x="210.4" y="214" width="3" height="8.4"/>
<path class="eb4" d="M211.9 214V222.4M210.4 222.4h3"/>
<rect class="ab" x="214.4" y="213.3" width="4.0" height="37.4"/>
<path class="as" d="M216.4 214.1V250.7"/>
<path class="at" d="M214.4 213.3h4"/>
<path class="eb" d="M216.4 211.9V213.3"/>
<path class="ebt" d="M215.2 211.6h2.4l-1.2 1z"/>
<rect class="ebg" x="214.9" y="213.3" width="3" height="1.4"/>
<path class="eb4" d="M216.4 213.3V214.7M214.9 214.7h3"/>
<rect class="ab" x="218.9" y="209.8" width="4.0" height="40.9"/>
<path class="as" d="M220.9 210.6V250.7"/>
<path class="at" d="M218.9 209.8h4"/>
<path class="eb" d="M220.9 207.7V209.8"/>
<path class="ebt" d="M219.7 207.4h2.4l-1.2 1z"/>
<rect class="ebg" x="219.4" y="209.8" width="3" height="2.1"/>
<path class="eb4" d="M220.9 209.8V211.9M219.4 211.9h3"/>
<rect class="ab" x="223.4" y="214" width="4.0" height="36.7"/>
<path class="as" d="M225.4 214.8V250.7"/>
<path class="at" d="M223.4 214h4"/>
<path class="eb" d="M225.4 207V214"/>
<path class="ebt" d="M224.2 206.7h2.4l-1.2 1z"/>
<rect class="ebg" x="223.9" y="214" width="3" height="7"/>
<path class="eb4" d="M225.4 214V221M223.9 221h3"/>
<rect class="aw" x="227.9" y="216" width="4.0" height="34.7"/>
<path class="aws" d="M229.9 216.8V250.7"/>
<path class="at" d="M227.9 216h4"/>
<rect class="ab" x="232.4" y="212.6" width="4.0" height="38.1"/>
<path class="as" d="M234.4 213.4V250.7"/>
<path class="at" d="M232.4 212.6h4"/>
<path class="eb" d="M234.4 204.2V212.6"/>
<path class="ebt" d="M233.2 203.9h2.4l-1.2 1z"/>
<rect class="ebg" x="232.9" y="212.6" width="3" height="8.4"/>
<path class="eb4" d="M234.4 212.6V221M232.9 221h3"/>
<rect class="ab" x="236.9" y="222.3" width="4.0" height="28.4"/>
<path class="as" d="M238.9 223.1V250.7"/>
<path class="at" d="M236.9 222.3h4"/>
<path class="eb" d="M238.9 220.7V222.3"/>
<path class="ebt" d="M237.7 220.4h2.4l-1.2 1z"/>
<rect class="ebg" x="237.4" y="222.3" width="3" height="1.6"/>
<path class="eb4" d="M238.9 222.3V223.9M237.4 223.9h3"/>
<rect class="ab" x="241.4" y="214" width="4.0" height="36.7"/>
<path class="as" d="M243.4 214.8V250.7"/>
<path class="at" d="M241.4 214h4"/>
<path class="eb" d="M243.4 205.6V214"/>
<path class="ebt" d="M242.2 205.3h2.4l-1.2 1z"/>
<rect class="ebg" x="241.9" y="214" width="3" height="8.4"/>
<path class="eb4" d="M243.4 214V222.4M241.9 222.4h3"/>
<rect class="aw" x="250.7" y="217.9" width="4.0" height="32.8"/>
<path class="aws" d="M252.7 218.7V250.7"/>
<path class="at" d="M250.7 217.9h4"/>
<rect class="ab" x="255.1" y="240.5" width="4.0" height="10.2"/>
<path class="as" d="M257.1 241.3V250.7"/>
<path class="at" d="M255.1 240.5h4"/>
<path class="eb" d="M257.1 235.6V240.5"/>
<path class="ebt" d="M255.9 235.3h2.4l-1.2 1z"/>
<rect class="ebg" x="255.6" y="240.5" width="3" height="4.9"/>
<path class="eb4" d="M257.1 240.5V245.4M255.6 245.4h3"/>
<rect class="af" x="191.7" y="202.1" width="67.7" height="48.6"/>
<path class="ax" d="M191.7 202.1V250.7"/>
<path class="axb" d="M191.7 250.7H259.4"/>
<rect class="lg" x="192.3" y="202.7" width="3.4" height="4.3"/>
<text class="al" x="200.25" y="206.6" textLength="19.5" lengthAdjust="spacing">YG-C28F2</text>
<path class="tk" d="M190.1 217.9H191.7"/>
<text class="tl" x="180.4" y="219.6" textLength="7.8" lengthAdjust="spacingAndGlyphs">100</text>
<path class="tk" d="M190.1 234.2H191.7"/>
<text class="tl" x="183" y="235.9" textLength="5.2" lengthAdjust="spacingAndGlyphs">50</text>
<path class="tk" d="M190.1 250.7H191.7"/>
<text class="tl" x="185.6" y="252.4" textLength="2.6" lengthAdjust="spacingAndGlyphs">0</text>
<rect class="aw" x="21.4" y="267.6" width="4.0" height="34.5"/>
<path class="aws" d="M23.4 268.4V302.1"/>
<path class="at" d="M21.4 267.6h4"/>
<rect class="aw" x="25.9" y="264.3" width="4.0" height="37.8"/>
<path class="aws" d="M27.9 265.1V302.1"/>
<path class="at" d="M25.9 264.3h4"/>
<rect class="aw" x="30.3" y="268.5" width="4.0" height="33.6"/>
<path class="aws" d="M32.3 269.3V302.1"/>
<path class="at" d="M30.3 268.5h4"/>
<rect class="aw" x="34.8" y="262.2" width="4.0" height="39.9"/>
<path class="aws" d="M36.8 263V302.1"/>
<path class="at" d="M34.8 262.2h4"/>
<rect class="ab" x="39.2" y="261.1" width="4.0" height="41"/>
<path class="as" d="M41.2 261.9V302.1"/>
<path class="at" d="M39.2 261.1h4"/>
<path class="eb" d="M41.2 258V261.1"/>
<path class="ebt" d="M40 257.7h2.4l-1.2 1z"/>
<rect class="ebg" x="39.7" y="261.1" width="3" height="3.1"/>
<path class="eb4" d="M41.2 261.1V264.2M39.7 264.2h3"/>
<rect class="ab" x="43.7" y="264.3" width="4.0" height="37.8"/>
<path class="as" d="M45.7 265.1V302.1"/>
<path class="at" d="M43.7 264.3h4"/>
<path class="eb" d="M45.7 261V264.3"/>
<path class="ebt" d="M44.5 260.7h2.4l-1.2 1z"/>
<rect class="ebg" x="44.2" y="264.3" width="3" height="3.3"/>
<path class="eb4" d="M45.7 264.3V267.6M44.2 267.6h3"/>
<rect class="ab" x="48.1" y="258.3" width="4.0" height="43.8"/>
<path class="as" d="M50.1 259.1V302.1"/>
<path class="at" d="M48.1 258.3h4"/>
<path class="eb" d="M50.1 254.5V258.3"/>
<path class="ebt" d="M48.9 254.2h2.4l-1.2 1z"/>
<rect class="ebg" x="48.6" y="258.3" width="3" height="3.8"/>
<path class="eb4" d="M50.1 258.3V262.1M48.6 262.1h3"/>
<rect class="ab" x="52.6" y="261.5" width="4.0" height="40.6"/>
<path class="as" d="M54.6 262.3V302.1"/>
<path class="at" d="M52.6 261.5h4"/>
<path class="eb" d="M54.6 257V261.5"/>
<path class="ebt" d="M53.4 256.7h2.4l-1.2 1z"/>
<rect class="ebg" x="53.1" y="261.5" width="3" height="4.5"/>
<path class="eb4" d="M54.6 261.5V266M53.1 266h3"/>
<rect class="aw" x="57" y="259.3" width="4.0" height="42.8"/>
<path class="aws" d="M59 260.1V302.1"/>
<path class="at" d="M57 259.3h4"/>
<rect class="ab" x="61.5" y="265.3" width="4.0" height="36.8"/>
<path class="as" d="M63.5 266.1V302.1"/>
<path class="at" d="M61.5 265.3h4"/>
<path class="eb" d="M63.5 262V265.3"/>
<path class="ebt" d="M62.3 261.7h2.4l-1.2 1z"/>
<rect class="ebg" x="62" y="265.3" width="3" height="3.3"/>
<path class="eb4" d="M63.5 265.3V268.6M62 268.6h3"/>
<rect class="aw" x="65.9" y="265.3" width="4.0" height="36.8"/>
<path class="aws" d="M67.9 266.1V302.1"/>
<path class="at" d="M65.9 265.3h4"/>
<rect class="ab" x="70.4" y="263.2" width="4.0" height="38.9"/>
<path class="as" d="M72.4 264V302.1"/>
<path class="at" d="M70.4 263.2h4"/>
<path class="eb" d="M72.4 261V263.2"/>
<path class="ebt" d="M71.2 260.7h2.4l-1.2 1z"/>
<rect class="ebg" x="70.9" y="263.2" width="3" height="2.2"/>
<path class="eb4" d="M72.4 263.2V265.4M70.9 265.4h3"/>
<rect class="ab" x="79.8" y="262.5" width="4.0" height="39.6"/>
<path class="as" d="M81.8 263.3V302.1"/>
<path class="at" d="M79.8 262.5h4"/>
<path class="eb" d="M81.8 252.5V262.5"/>
<path class="ebt" d="M80.6 252.2h2.4l-1.2 1z"/>
<rect class="ebg" x="80.3" y="262.5" width="3" height="10"/>
<path class="eb4" d="M81.8 262.5V272.5M80.3 272.5h3"/>
<rect class="aw" x="84.3" y="295.3" width="4.0" height="6.8"/>
<path class="aws" d="M86.3 296.1V302.1"/>
<path class="at" d="M84.3 295.3h4"/>
<rect class="af" x="21.2" y="252" width="67.8" height="50.1"/>
<path class="ax" d="M21.2 252V302.1"/>
<path class="axb" d="M21.2 302.1H89"/>
<rect class="lg" x="21.8" y="252.6" width="3.4" height="4.3"/>
<text class="al" x="30" y="256.5" textLength="12.3" lengthAdjust="spacing">TET-2</text>
<path class="tk" d="M19.6 262.3H21.2"/>
<text class="tl" x="9.9" y="264" textLength="7.8" lengthAdjust="spacingAndGlyphs">100</text>
<path class="tk" d="M19.6 282.3H21.2"/>
<text class="tl" x="12.5" y="284" textLength="5.2" lengthAdjust="spacingAndGlyphs">50</text>
<path class="tk" d="M19.6 302.1H21.2"/>
<text class="tl" x="15.1" y="303.8" textLength="2.6" lengthAdjust="spacingAndGlyphs">0</text>
<text class="xl" transform="translate(24.5 304.8) rotate(-90)" x="-20" y="0" textLength="20" lengthAdjust="spacingAndGlyphs">L18A/L20A</text>
<text class="xl" transform="translate(29 304.8) rotate(-90)" x="-10" y="0" textLength="10" lengthAdjust="spacingAndGlyphs">T25A</text>
<text class="xl" transform="translate(33.4 304.8) rotate(-90)" x="-9.5" y="0" textLength="9.5" lengthAdjust="spacingAndGlyphs">V27A</text>
<text class="xl" transform="translate(37.9 304.8) rotate(-90)" x="-10" y="0" textLength="10" lengthAdjust="spacingAndGlyphs">S32A</text>
<text class="xl" transform="translate(42.3 304.8) rotate(-90)" x="-30.5" y="0" textLength="30.5" lengthAdjust="spacingAndGlyphs">S32P/F34A/Q44A</text>
<text class="xl" transform="translate(46.8 304.8) rotate(-90)" x="-11.5" y="0" textLength="11.5" lengthAdjust="spacingAndGlyphs">Q44A</text>
<text class="xl" transform="translate(51.2 304.8) rotate(-90)" x="-20.5" y="0" textLength="20.5" lengthAdjust="spacingAndGlyphs">S74A/N77A</text>
<text class="xl" transform="translate(55.7 304.8) rotate(-90)" x="-10" y="0" textLength="10" lengthAdjust="spacingAndGlyphs">Q89A</text>
<text class="xl" transform="translate(60.1 304.8) rotate(-90)" x="-10" y="0" textLength="10" lengthAdjust="spacingAndGlyphs">D94A</text>
<text class="xl" transform="translate(64.6 304.8) rotate(-90)" x="-9.5" y="0" textLength="9.5" lengthAdjust="spacingAndGlyphs">E96A</text>
<text class="xl" transform="translate(69 304.8) rotate(-90)" x="-30.5" y="0" textLength="30.5" lengthAdjust="spacingAndGlyphs">T87A/Q89A/N97A</text>
<text class="xl" transform="translate(73.5 304.8) rotate(-90)" x="-23.5" y="0" textLength="23.5" lengthAdjust="spacingAndGlyphs">V96A/E98A</text>
<text class="xl" transform="translate(82.9 304.8) rotate(-90)" x="-32" y="0" textLength="32" lengthAdjust="spacingAndGlyphs">CEACAM1-4-Fc</text>
<text class="xl" transform="translate(87.4 304.8) rotate(-90)" x="-6.5" y="0" textLength="6.5" lengthAdjust="spacingAndGlyphs">NI</text>
<rect class="ab" x="105.7" y="269.9" width="4.0" height="33.5"/>
<path class="as" d="M107.7 270.7V303.4"/>
<path class="at" d="M105.7 269.9h4"/>
<path class="eb" d="M107.7 266.4V269.9"/>
<path class="ebt" d="M106.5 266.1h2.4l-1.2 1z"/>
<rect class="ebg" x="106.2" y="269.9" width="3" height="3.5"/>
<path class="eb4" d="M107.7 269.9V273.4M106.2 273.4h3"/>
<rect class="aw" x="110.1" y="272.6" width="4.0" height="30.8"/>
<path class="aws" d="M112.1 273.4V303.4"/>
<path class="at" d="M110.1 272.6h4"/>
<rect class="ab" x="114.6" y="269.2" width="4.0" height="34.2"/>
<path class="as" d="M116.6 270V303.4"/>
<path class="at" d="M114.6 269.2h4"/>
<path class="eb" d="M116.6 263.6V269.2"/>
<path class="ebt" d="M115.4 263.3h2.4l-1.2 1z"/>
<rect class="ebg" x="115.1" y="269.2" width="3" height="5.6"/>
<path class="eb4" d="M116.6 269.2V274.8M115.1 274.8h3"/>
<rect class="ab" x="119" y="270.6" width="4.0" height="32.8"/>
<path class="as" d="M121 271.4V303.4"/>
<path class="at" d="M119 270.6h4"/>
<path class="eb" d="M121 268.5V270.6"/>
<path class="ebt" d="M119.8 268.2h2.4l-1.2 1z"/>
<rect class="ebg" x="119.5" y="270.6" width="3" height="2.1"/>
<path class="eb4" d="M121 270.6V272.7M119.5 272.7h3"/>
<rect class="ab" x="123.5" y="267.8" width="4.0" height="35.6"/>
<path class="as" d="M125.5 268.6V303.4"/>
<path class="at" d="M123.5 267.8h4"/>
<path class="eb" d="M125.5 263.3V267.8"/>
<path class="ebt" d="M124.3 263h2.4l-1.2 1z"/>
<rect class="ebg" x="124" y="267.8" width="3" height="4.5"/>
<path class="eb4" d="M125.5 267.8V272.3M124 272.3h3"/>
<rect class="ab" x="127.9" y="268.5" width="4.0" height="34.9"/>
<path class="as" d="M129.9 269.3V303.4"/>
<path class="at" d="M127.9 268.5h4"/>
<path class="eb" d="M129.9 265V268.5"/>
<path class="ebt" d="M128.7 264.7h2.4l-1.2 1z"/>
<rect class="ebg" x="128.4" y="268.5" width="3" height="3.5"/>
<path class="eb4" d="M129.9 268.5V272M128.4 272h3"/>
<rect class="ab" x="132.4" y="271.3" width="4.0" height="32.1"/>
<path class="as" d="M134.4 272.1V303.4"/>
<path class="at" d="M132.4 271.3h4"/>
<path class="eb" d="M134.4 267V271.3"/>
<path class="ebt" d="M133.2 266.7h2.4l-1.2 1z"/>
<rect class="ebg" x="132.9" y="271.3" width="3" height="4.3"/>
<path class="eb4" d="M134.4 271.3V275.6M132.9 275.6h3"/>
<rect class="ab" x="136.8" y="269.2" width="4.0" height="34.2"/>
<path class="as" d="M138.8 270V303.4"/>
<path class="at" d="M136.8 269.2h4"/>
<path class="eb" d="M138.8 267V269.2"/>
<path class="ebt" d="M137.6 266.7h2.4l-1.2 1z"/>
<rect class="ebg" x="137.3" y="269.2" width="3" height="2.2"/>
<path class="eb4" d="M138.8 269.2V271.4M137.3 271.4h3"/>
<rect class="ab" x="141.3" y="273.3" width="4.0" height="30.1"/>
<path class="as" d="M143.3 274.1V303.4"/>
<path class="at" d="M141.3 273.3h4"/>
<path class="eb" d="M143.3 272V273.3"/>
<path class="ebt" d="M142.1 271.7h2.4l-1.2 1z"/>
<rect class="ebg" x="141.8" y="273.3" width="3" height="1.3"/>
<path class="eb4" d="M143.3 273.3V274.6M141.8 274.6h3"/>
<rect class="ab" x="145.7" y="268.9" width="4.0" height="34.5"/>
<path class="as" d="M147.7 269.7V303.4"/>
<path class="at" d="M145.7 268.9h4"/>
<path class="eb" d="M147.7 267V268.9"/>
<path class="ebt" d="M146.5 266.7h2.4l-1.2 1z"/>
<rect class="ebg" x="146.2" y="268.9" width="3" height="1.9"/>
<path class="eb4" d="M147.7 268.9V270.8M146.2 270.8h3"/>
<rect class="ab" x="150.2" y="265" width="4.0" height="38.4"/>
<path class="as" d="M152.2 265.8V303.4"/>
<path class="at" d="M150.2 265h4"/>
<path class="eb" d="M152.2 259.4V265"/>
<path class="ebt" d="M151 259.1h2.4l-1.2 1z"/>
<rect class="ebg" x="150.7" y="265" width="3" height="5.6"/>
<path class="eb4" d="M152.2 265V270.6M150.7 270.6h3"/>
<rect class="ab" x="154.6" y="264.3" width="4.0" height="39.1"/>
<path class="as" d="M156.6 265.1V303.4"/>
<path class="at" d="M154.6 264.3h4"/>
<path class="eb" d="M156.6 259.4V264.3"/>
<path class="ebt" d="M155.4 259.1h2.4l-1.2 1z"/>
<rect class="ebg" x="155.1" y="264.3" width="3" height="4.9"/>
<path class="eb4" d="M156.6 264.3V269.2M155.1 269.2h3"/>
<rect class="ab" x="163.8" y="261.5" width="4.0" height="41.9"/>
<path class="as" d="M165.8 262.3V303.4"/>
<path class="at" d="M163.8 261.5h4"/>
<path class="eb" d="M165.8 253.8V261.5"/>
<path class="ebt" d="M164.6 253.5h2.4l-1.2 1z"/>
<rect class="ebg" x="164.3" y="261.5" width="3" height="7.7"/>
<path class="eb4" d="M165.8 261.5V269.2M164.3 269.2h3"/>
<rect class="aw" x="168.7" y="298.5" width="4.0" height="4.9"/>
<path class="aws" d="M170.7 299.3V303.4"/>
<path class="at" d="M168.7 298.5h4"/>
<rect class="af" x="105.6" y="253" width="67.7" height="50.4"/>
<path class="ax" d="M105.6 253V303.4"/>
<path class="axb" d="M105.6 303.4H173.3"/>
<rect class="lg" x="106.2" y="253.6" width="3.4" height="4.3"/>
<text class="al" x="113.45" y="257.5" textLength="9.2" lengthAdjust="spacing">B6.2</text>
<path class="tk" d="M104 261H105.6"/>
<text class="tl" x="94.3" y="262.7" textLength="7.8" lengthAdjust="spacingAndGlyphs">100</text>
<path class="tk" d="M104 281.6H105.6"/>
<text class="tl" x="96.9" y="283.3" textLength="5.2" lengthAdjust="spacingAndGlyphs">50</text>
<path class="tk" d="M104 303.4H105.6"/>
<text class="tl" x="99.5" y="305.1" textLength="2.6" lengthAdjust="spacingAndGlyphs">0</text>
<text class="xl" transform="translate(108.8 305.2) rotate(-90)" x="-20" y="0" textLength="20" lengthAdjust="spacingAndGlyphs">L18A/L20A</text>
<text class="xl" transform="translate(113.2 305.2) rotate(-90)" x="-10" y="0" textLength="10" lengthAdjust="spacingAndGlyphs">T25A</text>
<text class="xl" transform="translate(117.7 305.2) rotate(-90)" x="-9.5" y="0" textLength="9.5" lengthAdjust="spacingAndGlyphs">V27A</text>
<text class="xl" transform="translate(122.1 305.2) rotate(-90)" x="-10" y="0" textLength="10" lengthAdjust="spacingAndGlyphs">S32A</text>
<text class="xl" transform="translate(126.6 305.2) rotate(-90)" x="-30.5" y="0" textLength="30.5" lengthAdjust="spacingAndGlyphs">S32P/F34A/Q44A</text>
<text class="xl" transform="translate(131 305.2) rotate(-90)" x="-11.5" y="0" textLength="11.5" lengthAdjust="spacingAndGlyphs">Q44A</text>
<text class="xl" transform="translate(135.5 305.2) rotate(-90)" x="-20.5" y="0" textLength="20.5" lengthAdjust="spacingAndGlyphs">S74A/N77A</text>
<text class="xl" transform="translate(139.9 305.2) rotate(-90)" x="-10" y="0" textLength="10" lengthAdjust="spacingAndGlyphs">Q89A</text>
<text class="xl" transform="translate(144.4 305.2) rotate(-90)" x="-10" y="0" textLength="10" lengthAdjust="spacingAndGlyphs">D94A</text>
<text class="xl" transform="translate(148.8 305.2) rotate(-90)" x="-9.5" y="0" textLength="9.5" lengthAdjust="spacingAndGlyphs">E96A</text>
<text class="xl" transform="translate(153.3 305.2) rotate(-90)" x="-30.5" y="0" textLength="30.5" lengthAdjust="spacingAndGlyphs">T87A/Q89A/N97A</text>
<text class="xl" transform="translate(157.7 305.2) rotate(-90)" x="-23.5" y="0" textLength="23.5" lengthAdjust="spacingAndGlyphs">V96A/E98A</text>
<text class="xl" transform="translate(166.9 305.2) rotate(-90)" x="-32" y="0" textLength="32" lengthAdjust="spacingAndGlyphs">CEACAM1-4-Fc</text>
<text class="xl" transform="translate(171.8 305.2) rotate(-90)" x="-6.5" y="0" textLength="6.5" lengthAdjust="spacingAndGlyphs">NI</text>
<rect class="ab" x="191.7" y="269.2" width="4.0" height="34.3"/>
<path class="as" d="M193.7 270V303.5"/>
<path class="at" d="M191.7 269.2h4"/>
<path class="eb" d="M193.7 261.5V269.2"/>
<path class="ebt" d="M192.5 261.2h2.4l-1.2 1z"/>
<rect class="ebg" x="192.2" y="269.2" width="3" height="7.7"/>
<path class="eb4" d="M193.7 269.2V276.9M192.2 276.9h3"/>
<rect class="ab" x="196.2" y="267.8" width="4.0" height="35.7"/>
<path class="as" d="M198.2 268.6V303.5"/>
<path class="at" d="M196.2 267.8h4"/>
<path class="eb" d="M198.2 267V267.8"/>
<path class="ebt" d="M197 266.7h2.4l-1.2 0.8z"/>
<rect class="ebg" x="196.7" y="267.8" width="3" height="0.8"/>
<path class="eb4" d="M198.2 267.8V268.6M196.7 268.6h3"/>
<rect class="aw" x="200.7" y="292.2" width="4.0" height="11.3"/>
<path class="aws" d="M202.7 293V303.5"/>
<path class="at" d="M200.7 292.2h4"/>
<rect class="ab" x="205.2" y="267.8" width="4.0" height="35.7"/>
<path class="as" d="M207.2 268.6V303.5"/>
<path class="at" d="M205.2 267.8h4"/>
<path class="eb" d="M207.2 263.3V267.8"/>
<path class="ebt" d="M206 263h2.4l-1.2 1z"/>
<rect class="ebg" x="205.7" y="267.8" width="3" height="4.5"/>
<path class="eb4" d="M207.2 267.8V272.3M205.7 272.3h3"/>
<rect class="ab" x="209.7" y="294.3" width="4.0" height="9.2"/>
<path class="as" d="M211.7 295.1V303.5"/>
<path class="at" d="M209.7 294.3h4"/>
<path class="eb" d="M211.7 290.8V294.3"/>
<path class="ebt" d="M210.5 290.5h2.4l-1.2 1z"/>
<rect class="ebg" x="210.2" y="294.3" width="3" height="3.5"/>
<path class="eb4" d="M211.7 294.3V297.8M210.2 297.8h3"/>
<rect class="ab" x="214.2" y="263.3" width="4.0" height="40.2"/>
<path class="as" d="M216.2 264.1V303.5"/>
<path class="at" d="M214.2 263.3h4"/>
<path class="eb" d="M216.2 260V263.3"/>
<path class="ebt" d="M215 259.7h2.4l-1.2 1z"/>
<rect class="ebg" x="214.7" y="263.3" width="3" height="3.3"/>
<path class="eb4" d="M216.2 263.3V266.6M214.7 266.6h3"/>
<rect class="ab" x="218.7" y="271.3" width="4.0" height="32.2"/>
<path class="as" d="M220.7 272.1V303.5"/>
<path class="at" d="M218.7 271.3h4"/>
<path class="eb" d="M220.7 260V271.3"/>
<path class="ebt" d="M219.5 259.7h2.4l-1.2 1z"/>
<rect class="ebg" x="219.2" y="271.3" width="3" height="11.3"/>
<path class="eb4" d="M220.7 271.3V282.6M219.2 282.6h3"/>
<rect class="ab" x="223.2" y="267" width="4.0" height="36.5"/>
<path class="as" d="M225.2 267.8V303.5"/>
<path class="at" d="M223.2 267h4"/>
<path class="eb" d="M225.2 263.6V267"/>
<path class="ebt" d="M224 263.3h2.4l-1.2 1z"/>
<rect class="ebg" x="223.7" y="267" width="3" height="3.4"/>
<path class="eb4" d="M225.2 267V270.4M223.7 270.4h3"/>
<rect class="ab" x="227.7" y="260" width="4.0" height="43.5"/>
<path class="as" d="M229.7 260.8V303.5"/>
<path class="at" d="M227.7 260h4"/>
<path class="eb" d="M229.7 255.2V260"/>
<path class="ebt" d="M228.5 254.9h2.4l-1.2 1z"/>
<rect class="ebg" x="228.2" y="260" width="3" height="4.8"/>
<path class="eb4" d="M229.7 260V264.8M228.2 264.8h3"/>
<rect class="ab" x="232.2" y="276.1" width="4.0" height="27.4"/>
<path class="as" d="M234.2 276.9V303.5"/>
<path class="at" d="M232.2 276.1h4"/>
<path class="eb" d="M234.2 275.4V276.1"/>
<path class="ebt" d="M233 275.1h2.4l-1.2 0.7z"/>
<rect class="ebg" x="232.7" y="276.1" width="3" height="0.7"/>
<path class="eb4" d="M234.2 276.1V276.8M232.7 276.8h3"/>
<rect class="ab" x="236.7" y="274.7" width="4.0" height="28.8"/>
<path class="as" d="M238.7 275.5V303.5"/>
<path class="at" d="M236.7 274.7h4"/>
<path class="eb" d="M238.7 272.6V274.7"/>
<path class="ebt" d="M237.5 272.3h2.4l-1.2 1z"/>
<rect class="ebg" x="237.2" y="274.7" width="3" height="2.1"/>
<path class="eb4" d="M238.7 274.7V276.8M237.2 276.8h3"/>
<rect class="ab" x="241.2" y="262.2" width="4.0" height="41.3"/>
<path class="as" d="M243.2 263V303.5"/>
<path class="at" d="M241.2 262.2h4"/>
<path class="eb" d="M243.2 253.8V262.2"/>
<path class="ebt" d="M242 253.5h2.4l-1.2 1z"/>
<rect class="ebg" x="241.7" y="262.2" width="3" height="8.4"/>
<path class="eb4" d="M243.2 262.2V270.6M241.7 270.6h3"/>
<rect class="ab" x="250.5" y="264.3" width="4.0" height="39.2"/>
<path class="as" d="M252.5 265.1V303.5"/>
<path class="at" d="M250.5 264.3h4"/>
<path class="eb" d="M252.5 255.2V264.3"/>
<path class="ebt" d="M251.3 254.9h2.4l-1.2 1z"/>
<rect class="ebg" x="251" y="264.3" width="3" height="9.1"/>
<path class="eb4" d="M252.5 264.3V273.4M251 273.4h3"/>
<rect class="ab" x="254.9" y="293.6" width="4.0" height="9.9"/>
<path class="as" d="M256.9 294.4V303.5"/>
<path class="at" d="M254.9 293.6h4"/>
<path class="eb" d="M256.9 290.8V293.6"/>
<path class="ebt" d="M255.7 290.5h2.4l-1.2 1z"/>
<rect class="ebg" x="255.4" y="293.6" width="3" height="2.8"/>
<path class="eb4" d="M256.9 293.6V296.4M255.4 296.4h3"/>
<rect class="af" x="191.5" y="253" width="67.8" height="50.5"/>
<path class="ax" d="M191.5 253V303.5"/>
<path class="axb" d="M191.5 303.5H259.3"/>
<rect class="lg" x="192.1" y="253.6" width="3.4" height="4.3"/>
<text class="al" x="200.15" y="257.5" textLength="17.5" lengthAdjust="spacing">12-140-4</text>
<path class="tk" d="M189.9 264.3H191.5"/>
<text class="tl" x="180.2" y="266" textLength="7.8" lengthAdjust="spacingAndGlyphs">100</text>
<path class="tk" d="M189.9 283.3H191.5"/>
<text class="tl" x="182.8" y="285" textLength="5.2" lengthAdjust="spacingAndGlyphs">50</text>
<path class="tk" d="M189.9 303.5H191.5"/>
<text class="tl" x="185.4" y="305.2" textLength="2.6" lengthAdjust="spacingAndGlyphs">0</text>
<text class="xl" transform="translate(194.8 305.2) rotate(-90)" x="-20" y="0" textLength="20" lengthAdjust="spacingAndGlyphs">L18A/L20A</text>
<text class="xl" transform="translate(199.3 305.2) rotate(-90)" x="-10" y="0" textLength="10" lengthAdjust="spacingAndGlyphs">T25A</text>
<text class="xl" transform="translate(203.8 305.2) rotate(-90)" x="-9.5" y="0" textLength="9.5" lengthAdjust="spacingAndGlyphs">V27A</text>
<text class="xl" transform="translate(208.3 305.2) rotate(-90)" x="-10" y="0" textLength="10" lengthAdjust="spacingAndGlyphs">S32A</text>
<text class="xl" transform="translate(212.8 305.2) rotate(-90)" x="-30.5" y="0" textLength="30.5" lengthAdjust="spacingAndGlyphs">S32P/F34A/Q44A</text>
<text class="xl" transform="translate(217.3 305.2) rotate(-90)" x="-11.5" y="0" textLength="11.5" lengthAdjust="spacingAndGlyphs">Q44A</text>
<text class="xl" transform="translate(221.8 305.2) rotate(-90)" x="-20.5" y="0" textLength="20.5" lengthAdjust="spacingAndGlyphs">S74A/N77A</text>
<text class="xl" transform="translate(226.3 305.2) rotate(-90)" x="-10" y="0" textLength="10" lengthAdjust="spacingAndGlyphs">Q89A</text>
<text class="xl" transform="translate(230.8 305.2) rotate(-90)" x="-10" y="0" textLength="10" lengthAdjust="spacingAndGlyphs">D94A</text>
<text class="xl" transform="translate(235.3 305.2) rotate(-90)" x="-9.5" y="0" textLength="9.5" lengthAdjust="spacingAndGlyphs">E96A</text>
<text class="xl" transform="translate(239.8 305.2) rotate(-90)" x="-30.5" y="0" textLength="30.5" lengthAdjust="spacingAndGlyphs">T87A/Q89A/N97A</text>
<text class="xl" transform="translate(244.3 305.2) rotate(-90)" x="-23.5" y="0" textLength="23.5" lengthAdjust="spacingAndGlyphs">V96A/E98A</text>
<text class="xl" transform="translate(253.6 305.2) rotate(-90)" x="-32" y="0" textLength="32" lengthAdjust="spacingAndGlyphs">CEACAM1-4-Fc</text>
<text class="xl" transform="translate(258 305.2) rotate(-90)" x="-6.5" y="0" textLength="6.5" lengthAdjust="spacingAndGlyphs">NI</text>
<rect class="bb" x="293.54" y="13" width="5.4" height="37.6"/>
<path class="bs" d="M296.24 14V50.6"/>
<path class="eb2" d="M296.24 10.6V13"/>
<path class="ebt" d="M294.44 10.2h3.6l-1.8 1.4z"/>
<path class="eb3" d="M296.24 13V15.4M294.54 15.4h3.4"/>
<path class="tkx" d="M296.24 50.6v2.5"/>
<rect class="bb" x="300.83" y="15.2" width="5.4" height="35.4"/>
<path class="bs" d="M303.53 16.2V50.6"/>
<path class="eb2" d="M303.53 12.8V15.2"/>
<path class="ebt" d="M301.73 12.4h3.6l-1.8 1.4z"/>
<path class="eb3" d="M303.53 15.2V17.6M301.83 17.6h3.4"/>
<path class="tkx" d="M303.53 50.6v2.5"/>
<rect class="bb" x="308.12" y="19" width="5.4" height="31.6"/>
<path class="bs" d="M310.82 20V50.6"/>
<path class="eb2" d="M310.82 15.4V19"/>
<path class="ebt" d="M309.02 15h3.6l-1.8 1.4z"/>
<path class="eb3" d="M310.82 19V22.6M309.12 22.6h3.4"/>
<path class="tkx" d="M310.82 50.6v2.5"/>
<rect class="bb" x="315.41" y="16.3" width="5.4" height="34.3"/>
<path class="bs" d="M318.11 17.3V50.6"/>
<path class="eb2" d="M318.11 13.2V16.3"/>
<path class="ebt" d="M316.31 12.8h3.6l-1.8 1.4z"/>
<path class="eb3" d="M318.11 16.3V19.4M316.41 19.4h3.4"/>
<path class="tkx" d="M318.11 50.6v2.5"/>
<rect class="bb" x="322.7" y="16.3" width="5.4" height="34.3"/>
<path class="bs" d="M325.4 17.3V50.6"/>
<path class="eb2" d="M325.4 13.2V16.3"/>
<path class="ebt" d="M323.6 12.8h3.6l-1.8 1.4z"/>
<path class="eb3" d="M325.4 16.3V19.4M323.7 19.4h3.4"/>
<path class="tkx" d="M325.4 50.6v2.5"/>
<rect class="bb" x="329.99" y="15.1" width="5.4" height="35.5"/>
<path class="bs" d="M332.69 16.1V50.6"/>
<path class="eb2" d="M332.69 12.4V15.1"/>
<path class="ebt" d="M330.89 12h3.6l-1.8 1.4z"/>
<path class="eb3" d="M332.69 15.1V17.8M330.99 17.8h3.4"/>
<path class="tkx" d="M332.69 50.6v2.5"/>
<rect class="bb" x="337.28" y="13" width="5.4" height="37.6"/>
<path class="bs" d="M339.98 14V50.6"/>
<path class="eb2" d="M339.98 7.6V13"/>
<path class="ebt" d="M338.18 7.2h3.6l-1.8 1.4z"/>
<path class="eb3" d="M339.98 13V18.4M338.28 18.4h3.4"/>
<path class="tkx" d="M339.98 50.6v2.5"/>
<rect class="bb" x="344.57" y="11.1" width="5.4" height="39.5"/>
<path class="bs" d="M347.27 12.1V50.6"/>
<path class="eb2" d="M347.27 8.6V11.1"/>
<path class="ebt" d="M345.47 8.2h3.6l-1.8 1.4z"/>
<path class="eb3" d="M347.27 11.1V13.6M345.57 13.6h3.4"/>
<path class="tkx" d="M347.27 50.6v2.5"/>
<rect class="bb" x="351.86" y="42.9" width="5.4" height="7.7"/>
<path class="bs" d="M354.56 43.9V50.6"/>
<path class="eb2" d="M354.56 41V42.9"/>
<path class="ebt" d="M352.76 40.6h3.6l-1.8 1.4z"/>
<path class="eb3" d="M354.56 42.9V44.8M352.86 44.8h3.4"/>
<path class="tkx" d="M354.56 50.6v2.5"/>
<rect class="bf" x="292.7" y="1.5" width="65.6" height="49.1"/>
<rect class="lgb" x="293.7" y="2.3" width="5.2" height="5.2"/>
<text class="bl" x="306.2" y="8.7" textLength="15.9" lengthAdjust="spacingAndGlyphs">F34-187</text>
<path class="tk" d="M290.1 11.5H292.7"/>
<text class="tlb" x="281.9" y="14.1" textLength="6.4" lengthAdjust="spacingAndGlyphs">100</text>
<path class="tk" d="M290.1 31H292.7"/>
<text class="tlb" x="284" y="33.6" textLength="4.3" lengthAdjust="spacingAndGlyphs">50</text>
<path class="tk" d="M290.1 50.6H292.7"/>
<text class="tlb" x="286.1" y="53.2" textLength="2.2" lengthAdjust="spacingAndGlyphs">0</text>
<rect class="bb" x="369.11" y="16.6" width="5.4" height="34"/>
<path class="bs" d="M371.81 17.6V50.6"/>
<path class="eb2" d="M371.81 13V16.6"/>
<path class="ebt" d="M370.01 12.6h3.6l-1.8 1.4z"/>
<path class="eb3" d="M371.81 16.6V20.2M370.11 20.2h3.4"/>
<path class="tkx" d="M371.81 50.6v2.5"/>
<rect class="bb" x="376.32" y="17" width="5.4" height="33.6"/>
<path class="bs" d="M379.02 18V50.6"/>
<path class="eb2" d="M379.02 12.1V17"/>
<path class="ebt" d="M377.22 11.7h3.6l-1.8 1.4z"/>
<path class="eb3" d="M379.02 17V21.9M377.32 21.9h3.4"/>
<path class="tkx" d="M379.02 50.6v2.5"/>
<rect class="bb" x="383.53" y="38.2" width="5.4" height="12.4"/>
<path class="bs" d="M386.23 39.2V50.6"/>
<path class="eb2" d="M386.23 36.2V38.2"/>
<path class="ebt" d="M384.43 35.8h3.6l-1.8 1.4z"/>
<path class="eb3" d="M386.23 38.2V40.2M384.53 40.2h3.4"/>
<path class="tkx" d="M386.23 50.6v2.5"/>
<rect class="bb" x="390.74" y="36.2" width="5.4" height="14.4"/>
<path class="bs" d="M393.44 37.2V50.6"/>
<path class="eb2" d="M393.44 34.3V36.2"/>
<path class="ebt" d="M391.64 33.9h3.6l-1.8 1.4z"/>
<path class="eb3" d="M393.44 36.2V38.1M391.74 38.1h3.4"/>
<path class="tkx" d="M393.44 50.6v2.5"/>
<rect class="bb" x="397.95" y="37" width="5.4" height="13.6"/>
<path class="bs" d="M400.65 38V50.6"/>
<path class="eb2" d="M400.65 35.5V37"/>
<path class="ebt" d="M398.85 35.1h3.6l-1.8 1.4z"/>
<path class="eb3" d="M400.65 37V38.5M398.95 38.5h3.4"/>
<path class="tkx" d="M400.65 50.6v2.5"/>
<rect class="bb" x="405.16" y="37.2" width="5.4" height="13.4"/>
<path class="bs" d="M407.86 38.2V50.6"/>
<path class="eb2" d="M407.86 33.7V37.2"/>
<path class="ebt" d="M406.06 33.3h3.6l-1.8 1.4z"/>
<path class="eb3" d="M407.86 37.2V40.7M406.16 40.7h3.4"/>
<path class="tkx" d="M407.86 50.6v2.5"/>
<rect class="bb" x="412.37" y="16.3" width="5.4" height="34.3"/>
<path class="bs" d="M415.07 17.3V50.6"/>
<path class="eb2" d="M415.07 13V16.3"/>
<path class="ebt" d="M413.27 12.6h3.6l-1.8 1.4z"/>
<path class="eb3" d="M415.07 16.3V19.6M413.37 19.6h3.4"/>
<path class="tkx" d="M415.07 50.6v2.5"/>
<rect class="bb" x="419.58" y="11.8" width="5.4" height="38.8"/>
<path class="bs" d="M422.28 12.8V50.6"/>
<path class="eb2" d="M422.28 9.2V11.8"/>
<path class="ebt" d="M420.48 8.8h3.6l-1.8 1.4z"/>
<path class="eb3" d="M422.28 11.8V14.4M420.58 14.4h3.4"/>
<path class="tkx" d="M422.28 50.6v2.5"/>
<rect class="bb" x="426.79" y="41.2" width="5.4" height="9.4"/>
<path class="bs" d="M429.49 42.2V50.6"/>
<path class="tkx" d="M429.49 50.6v2.5"/>
<rect class="bf" x="368.3" y="1.5" width="64.9" height="49.1"/>
<rect class="lgb" x="369.3" y="2.3" width="5.2" height="5.2"/>
<text class="bl" x="382.3" y="8.7" textLength="19.2" lengthAdjust="spacingAndGlyphs">YG-C28F2</text>
<path class="tk" d="M365.7 11.8H368.3"/>
<text class="tlf" x="367.1" y="12.8">100</text>
<path class="tk" d="M365.7 31H368.3"/>
<text class="tlf" x="367.1" y="32">50</text>
<path class="tk" d="M365.7 50.6H368.3"/>
<text class="tlf" x="367.1" y="51.6">0</text>
<rect class="bb" x="453.17" y="15.4" width="5.4" height="35.2"/>
<path class="bs" d="M455.87 16.4V50.6"/>
<path class="eb2" d="M455.87 13V15.4"/>
<path class="ebt" d="M454.07 12.6h3.6l-1.8 1.4z"/>
<path class="eb3" d="M455.87 15.4V17.8M454.17 17.8h3.4"/>
<path class="tkx" d="M455.87 50.6v2.5"/>
<rect class="bb" x="460.5" y="16.9" width="5.4" height="33.7"/>
<path class="bs" d="M463.2 17.9V50.6"/>
<path class="eb2" d="M463.2 14.6V16.9"/>
<path class="ebt" d="M461.4 14.2h3.6l-1.8 1.4z"/>
<path class="eb3" d="M463.2 16.9V19.2M461.5 19.2h3.4"/>
<path class="tkx" d="M463.2 50.6v2.5"/>
<rect class="bb" x="467.83" y="35.4" width="5.4" height="15.2"/>
<path class="bs" d="M470.53 36.4V50.6"/>
<path class="eb2" d="M470.53 27.4V35.4"/>
<path class="ebt" d="M468.73 27h3.6l-1.8 1.4z"/>
<path class="eb3" d="M470.53 35.4V43.4M468.83 43.4h3.4"/>
<path class="tkx" d="M470.53 50.6v2.5"/>
<rect class="bb" x="475.17" y="36.9" width="5.4" height="13.7"/>
<path class="bs" d="M477.87 37.9V50.6"/>
<path class="eb2" d="M477.87 34.6V36.9"/>
<path class="ebt" d="M476.07 34.2h3.6l-1.8 1.4z"/>
<path class="eb3" d="M477.87 36.9V39.2M476.17 39.2h3.4"/>
<path class="tkx" d="M477.87 50.6v2.5"/>
<rect class="bb" x="482.5" y="39.7" width="5.4" height="10.9"/>
<path class="bs" d="M485.2 40.7V50.6"/>
<path class="eb2" d="M485.2 37.4V39.7"/>
<path class="ebt" d="M483.4 37h3.6l-1.8 1.4z"/>
<path class="eb3" d="M485.2 39.7V42M483.5 42h3.4"/>
<path class="tkx" d="M485.2 50.6v2.5"/>
<rect class="bb" x="489.83" y="36.9" width="5.4" height="13.7"/>
<path class="bs" d="M492.53 37.9V50.6"/>
<path class="eb2" d="M492.53 34.6V36.9"/>
<path class="ebt" d="M490.73 34.2h3.6l-1.8 1.4z"/>
<path class="eb3" d="M492.53 36.9V39.2M490.83 39.2h3.4"/>
<path class="tkx" d="M492.53 50.6v2.5"/>
<rect class="bb" x="497.17" y="22.3" width="5.4" height="28.3"/>
<path class="bs" d="M499.87 23.3V50.6"/>
<path class="eb2" d="M499.87 15.4V22.3"/>
<path class="ebt" d="M498.07 15h3.6l-1.8 1.4z"/>
<path class="eb3" d="M499.87 22.3V29.2M498.17 29.2h3.4"/>
<path class="tkx" d="M499.87 50.6v2.5"/>
<rect class="bb" x="504.5" y="11.5" width="5.4" height="39.1"/>
<path class="bs" d="M507.2 12.5V50.6"/>
<path class="eb2" d="M507.2 9.2V11.5"/>
<path class="ebt" d="M505.4 8.8h3.6l-1.8 1.4z"/>
<path class="eb3" d="M507.2 11.5V13.8M505.5 13.8h3.4"/>
<path class="tkx" d="M507.2 50.6v2.5"/>
<rect class="bb" x="511.83" y="41.8" width="5.4" height="8.8"/>
<path class="bs" d="M514.53 42.8V50.6"/>
<path class="tkx" d="M514.53 50.6v2.5"/>
<rect class="bf" x="452.3" y="1.5" width="66" height="49.1"/>
<rect class="lgb" x="453.3" y="2.3" width="5.2" height="5.2"/>
<text class="bl" x="464.8" y="8.7" textLength="17.8" lengthAdjust="spacingAndGlyphs">D14HD11</text>
<path class="tk" d="M449.7 12H452.3"/>
<text class="tlb" x="441.5" y="14.6" textLength="6.4" lengthAdjust="spacingAndGlyphs">100</text>
<path class="tk" d="M449.7 31.5H452.3"/>
<text class="tlb" x="443.6" y="34.1" textLength="4.3" lengthAdjust="spacingAndGlyphs">50</text>
<path class="tk" d="M449.7 50.6H452.3"/>
<text class="tlb" x="445.7" y="53.2" textLength="2.2" lengthAdjust="spacingAndGlyphs">0</text>
<rect class="bb" x="293.54" y="66.6" width="5.4" height="39.1"/>
<path class="bs" d="M296.24 67.6V105.7"/>
<path class="eb2" d="M296.24 64V66.6"/>
<path class="ebt" d="M294.44 63.6h3.6l-1.8 1.4z"/>
<path class="eb3" d="M296.24 66.6V69.2M294.54 69.2h3.4"/>
<path class="tkx" d="M296.24 105.7v2.5"/>
<rect class="bb" x="300.83" y="70.6" width="5.4" height="35.1"/>
<path class="bs" d="M303.53 71.6V105.7"/>
<path class="eb2" d="M303.53 68V70.6"/>
<path class="ebt" d="M301.73 67.6h3.6l-1.8 1.4z"/>
<path class="eb3" d="M303.53 70.6V73.2M301.83 73.2h3.4"/>
<path class="tkx" d="M303.53 105.7v2.5"/>
<rect class="bb" x="308.12" y="75" width="5.4" height="30.7"/>
<path class="bs" d="M310.82 76V105.7"/>
<path class="eb2" d="M310.82 68.8V75"/>
<path class="ebt" d="M309.02 68.4h3.6l-1.8 1.4z"/>
<path class="eb3" d="M310.82 75V81.2M309.12 81.2h3.4"/>
<path class="tkx" d="M310.82 105.7v2.5"/>
<rect class="bb" x="315.41" y="71.5" width="5.4" height="34.2"/>
<path class="bs" d="M318.11 72.5V105.7"/>
<path class="tkx" d="M318.11 105.7v2.5"/>
<rect class="bb" x="322.7" y="74" width="5.4" height="31.7"/>
<path class="bs" d="M325.4 75V105.7"/>
<path class="eb2" d="M325.4 68.8V74"/>
<path class="ebt" d="M323.6 68.4h3.6l-1.8 1.4z"/>
<path class="eb3" d="M325.4 74V79.2M323.7 79.2h3.4"/>
<path class="tkx" d="M325.4 105.7v2.5"/>
<rect class="bb" x="329.99" y="72.9" width="5.4" height="32.8"/>
<path class="bs" d="M332.69 73.9V105.7"/>
<path class="eb2" d="M332.69 71V72.9"/>
<path class="ebt" d="M330.89 70.6h3.6l-1.8 1.4z"/>
<path class="eb3" d="M332.69 72.9V74.8M330.99 74.8h3.4"/>
<path class="tkx" d="M332.69 105.7v2.5"/>
<rect class="bb" x="337.28" y="72.5" width="5.4" height="33.2"/>
<path class="bs" d="M339.98 73.5V105.7"/>
<path class="eb2" d="M339.98 69.5V72.5"/>
<path class="ebt" d="M338.18 69.1h3.6l-1.8 1.4z"/>
<path class="eb3" d="M339.98 72.5V75.5M338.28 75.5h3.4"/>
<path class="tkx" d="M339.98 105.7v2.5"/>
<rect class="bb" x="344.57" y="67.3" width="5.4" height="38.4"/>
<path class="bs" d="M347.27 68.3V105.7"/>
<path class="eb2" d="M347.27 64.7V67.3"/>
<path class="ebt" d="M345.47 64.3h3.6l-1.8 1.4z"/>
<path class="eb3" d="M347.27 67.3V69.9M345.57 69.9h3.4"/>
<path class="tkx" d="M347.27 105.7v2.5"/>
<rect class="bb" x="351.86" y="99.6" width="5.4" height="6.1"/>
<path class="bs" d="M354.56 100.6V105.7"/>
<path class="tkx" d="M354.56 105.7v2.5"/>
<rect class="bf" x="292.7" y="56.1" width="65.6" height="49.6"/>
<rect class="lgb" x="293.7" y="56.9" width="5.2" height="5.2"/>
<text class="bl" x="306.3" y="63.3" textLength="11.8" lengthAdjust="spacingAndGlyphs">TET-2</text>
<path class="tk" d="M290.1 66.6H292.7"/>
<text class="tlb" x="281.9" y="69.2" textLength="6.4" lengthAdjust="spacingAndGlyphs">100</text>
<path class="tk" d="M290.1 86.2H292.7"/>
<text class="tlb" x="284" y="88.8" textLength="4.3" lengthAdjust="spacingAndGlyphs">50</text>
<path class="tk" d="M290.1 105.7H292.7"/>
<text class="tlb" x="286.1" y="108.3" textLength="2.2" lengthAdjust="spacingAndGlyphs">0</text>
<rect class="bb" x="369.11" y="68.8" width="5.4" height="36.9"/>
<path class="bs" d="M371.81 69.8V105.7"/>
<path class="tkx" d="M371.81 105.7v2.5"/>
<rect class="bb" x="376.32" y="72.5" width="5.4" height="33.2"/>
<path class="bs" d="M379.02 73.5V105.7"/>
<path class="eb2" d="M379.02 65.1V72.5"/>
<path class="ebt" d="M377.22 64.7h3.6l-1.8 1.4z"/>
<path class="eb3" d="M379.02 72.5V79.9M377.32 79.9h3.4"/>
<path class="tkx" d="M379.02 105.7v2.5"/>
<rect class="bb" x="383.53" y="92.2" width="5.4" height="13.5"/>
<path class="bs" d="M386.23 93.2V105.7"/>
<path class="eb2" d="M386.23 86.2V92.2"/>
<path class="ebt" d="M384.43 85.8h3.6l-1.8 1.4z"/>
<path class="eb3" d="M386.23 92.2V98.2M384.53 98.2h3.4"/>
<path class="tkx" d="M386.23 105.7v2.5"/>
<rect class="bb" x="390.74" y="95.1" width="5.4" height="10.6"/>
<path class="bs" d="M393.44 96.1V105.7"/>
<path class="eb2" d="M393.44 93.6V95.1"/>
<path class="ebt" d="M391.64 93.2h3.6l-1.8 1.4z"/>
<path class="eb3" d="M393.44 95.1V96.6M391.74 96.6h3.4"/>
<path class="tkx" d="M393.44 105.7v2.5"/>
<rect class="bb" x="397.95" y="91.3" width="5.4" height="14.4"/>
<path class="bs" d="M400.65 92.3V105.7"/>
<path class="eb2" d="M400.65 88.8V91.3"/>
<path class="ebt" d="M398.85 88.4h3.6l-1.8 1.4z"/>
<path class="eb3" d="M400.65 91.3V93.8M398.95 93.8h3.4"/>
<path class="tkx" d="M400.65 105.7v2.5"/>
<rect class="bb" x="405.16" y="94.2" width="5.4" height="11.5"/>
<path class="bs" d="M407.86 95.2V105.7"/>
<path class="eb2" d="M407.86 92.2V94.2"/>
<path class="ebt" d="M406.06 91.8h3.6l-1.8 1.4z"/>
<path class="eb3" d="M407.86 94.2V96.2M406.16 96.2h3.4"/>
<path class="tkx" d="M407.86 105.7v2.5"/>
<rect class="bb" x="412.37" y="72.5" width="5.4" height="33.2"/>
<path class="bs" d="M415.07 73.5V105.7"/>
<path class="eb2" d="M415.07 68.8V72.5"/>
<path class="ebt" d="M413.27 68.4h3.6l-1.8 1.4z"/>
<path class="eb3" d="M415.07 72.5V76.2M413.37 76.2h3.4"/>
<path class="tkx" d="M415.07 105.7v2.5"/>
<rect class="bb" x="419.58" y="65.1" width="5.4" height="40.6"/>
<path class="bs" d="M422.28 66.1V105.7"/>
<path class="eb2" d="M422.28 62.6V65.1"/>
<path class="ebt" d="M420.48 62.2h3.6l-1.8 1.4z"/>
<path class="eb3" d="M422.28 65.1V67.6M420.58 67.6h3.4"/>
<path class="tkx" d="M422.28 105.7v2.5"/>
<rect class="bb" x="426.79" y="97.2" width="5.4" height="8.5"/>
<path class="bs" d="M429.49 98.2V105.7"/>
<path class="eb2" d="M429.49 95.4V97.2"/>
<path class="ebt" d="M427.69 95h3.6l-1.8 1.4z"/>
<path class="eb3" d="M429.49 97.2V99M427.79 99h3.4"/>
<path class="tkx" d="M429.49 105.7v2.5"/>
<rect class="bf" x="368.3" y="56.1" width="64.9" height="49.6"/>
<rect class="lgb" x="369.3" y="56.9" width="5.2" height="5.2"/>
<text class="bl" x="381.5" y="63.3" textLength="16.3" lengthAdjust="spacingAndGlyphs">12-140-4</text>
<path class="tk" d="M365.7 65.5H368.3"/>
<text class="tlf" x="367.1" y="66.5">100</text>
<path class="tk" d="M365.7 85H368.3"/>
<text class="tlf" x="367.1" y="86">50</text>
<path class="tk" d="M365.7 105.7H368.3"/>
<text class="tlf" x="367.1" y="106.7">0</text>
<rect class="bb" x="453.17" y="69.1" width="5.4" height="36.6"/>
<path class="bs" d="M455.87 70.1V105.7"/>
<path class="tkx" d="M455.87 105.7v2.5"/>
<rect class="bb" x="460.5" y="70" width="5.4" height="35.7"/>
<path class="bs" d="M463.2 71V105.7"/>
<path class="eb2" d="M463.2 67.6V70"/>
<path class="ebt" d="M461.4 67.2h3.6l-1.8 1.4z"/>
<path class="eb3" d="M463.2 70V72.4M461.5 72.4h3.4"/>
<path class="tkx" d="M463.2 105.7v2.5"/>
<rect class="bb" x="467.83" y="88" width="5.4" height="17.7"/>
<path class="bs" d="M470.53 89V105.7"/>
<path class="eb2" d="M470.53 81.4V88"/>
<path class="ebt" d="M468.73 81h3.6l-1.8 1.4z"/>
<path class="eb3" d="M470.53 88V94.6M468.83 94.6h3.4"/>
<path class="tkx" d="M470.53 105.7v2.5"/>
<rect class="bb" x="475.17" y="92.2" width="5.4" height="13.5"/>
<path class="bs" d="M477.87 93.2V105.7"/>
<path class="tkx" d="M477.87 105.7v2.5"/>
<rect class="bb" x="482.5" y="92.5" width="5.4" height="13.2"/>
<path class="bs" d="M485.2 93.5V105.7"/>
<path class="tkx" d="M485.2 105.7v2.5"/>
<rect class="bb" x="489.83" y="91" width="5.4" height="14.7"/>
<path class="bs" d="M492.53 92V105.7"/>
<path class="eb2" d="M492.53 89.2V91"/>
<path class="ebt" d="M490.73 88.8h3.6l-1.8 1.4z"/>
<path class="eb3" d="M492.53 91V92.8M490.83 92.8h3.4"/>
<path class="tkx" d="M492.53 105.7v2.5"/>
<rect class="bb" x="497.17" y="71.8" width="5.4" height="33.9"/>
<path class="bs" d="M499.87 72.8V105.7"/>
<path class="eb2" d="M499.87 69.1V71.8"/>
<path class="ebt" d="M498.07 68.7h3.6l-1.8 1.4z"/>
<path class="eb3" d="M499.87 71.8V74.5M498.17 74.5h3.4"/>
<path class="tkx" d="M499.87 105.7v2.5"/>
<rect class="bb" x="504.5" y="64.7" width="5.4" height="41"/>
<path class="bs" d="M507.2 65.7V105.7"/>
<path class="eb2" d="M507.2 62.9V64.7"/>
<path class="ebt" d="M505.4 62.5h3.6l-1.8 1.4z"/>
<path class="eb3" d="M507.2 64.7V66.5M505.5 66.5h3.4"/>
<path class="tkx" d="M507.2 105.7v2.5"/>
<rect class="bb" x="511.83" y="98.1" width="5.4" height="7.6"/>
<path class="bs" d="M514.53 99.1V105.7"/>
<path class="tkx" d="M514.53 105.7v2.5"/>
<rect class="bf" x="452.3" y="56.1" width="66" height="49.6"/>
<rect class="lgb" x="453.3" y="56.9" width="5.2" height="5.2"/>
<text class="bl" x="466" y="63.3" textLength="14.8" lengthAdjust="spacingAndGlyphs">B18.7.7</text>
<path class="tk" d="M449.7 64.7H452.3"/>
<text class="tlb" x="441.5" y="67.3" textLength="6.4" lengthAdjust="spacingAndGlyphs">100</text>
<path class="tk" d="M449.7 84.8H452.3"/>
<text class="tlb" x="443.6" y="87.4" textLength="4.3" lengthAdjust="spacingAndGlyphs">50</text>
<path class="tk" d="M449.7 105.7H452.3"/>
<text class="tlb" x="445.7" y="108.3" textLength="2.2" lengthAdjust="spacingAndGlyphs">0</text>
<rect class="bb" x="294.29" y="121" width="5.4" height="39.4"/>
<path class="bs" d="M296.99 122V160.4"/>
<path class="eb2" d="M296.99 118.4V121"/>
<path class="ebt" d="M295.19 118h3.6l-1.8 1.4z"/>
<path class="eb3" d="M296.99 121V123.6M295.29 123.6h3.4"/>
<path class="tkx" d="M296.99 160.4v2.5"/>
<rect class="bb" x="301.58" y="119.1" width="5.4" height="41.3"/>
<path class="bs" d="M304.28 120.1V160.4"/>
<path class="tkx" d="M304.28 160.4v2.5"/>
<rect class="bb" x="308.87" y="119.1" width="5.4" height="41.3"/>
<path class="bs" d="M311.57 120.1V160.4"/>
<path class="eb2" d="M311.57 117.6V119.1"/>
<path class="ebt" d="M309.77 117.2h3.6l-1.8 1.4z"/>
<path class="eb3" d="M311.57 119.1V120.6M309.87 120.6h3.4"/>
<path class="tkx" d="M311.57 160.4v2.5"/>
<rect class="bb" x="316.16" y="120.1" width="5.4" height="40.3"/>
<path class="bs" d="M318.86 121.1V160.4"/>
<path class="eb2" d="M318.86 118.4V120.1"/>
<path class="ebt" d="M317.06 118h3.6l-1.8 1.4z"/>
<path class="eb3" d="M318.86 120.1V121.8M317.16 121.8h3.4"/>
<path class="tkx" d="M318.86 160.4v2.5"/>
<rect class="bb" x="323.45" y="124.6" width="5.4" height="35.8"/>
<path class="bs" d="M326.15 125.6V160.4"/>
<path class="eb2" d="M326.15 116.6V124.6"/>
<path class="ebt" d="M324.35 116.2h3.6l-1.8 1.4z"/>
<path class="eb3" d="M326.15 124.6V132.6M324.45 132.6h3.4"/>
<path class="tkx" d="M326.15 160.4v2.5"/>
<rect class="bb" x="330.74" y="118.7" width="5.4" height="41.7"/>
<path class="bs" d="M333.44 119.7V160.4"/>
<path class="eb2" d="M333.44 113.9V118.7"/>
<path class="ebt" d="M331.64 113.5h3.6l-1.8 1.4z"/>
<path class="eb3" d="M333.44 118.7V123.5M331.74 123.5h3.4"/>
<path class="tkx" d="M333.44 160.4v2.5"/>
<rect class="bb" x="338.03" y="117.2" width="5.4" height="43.2"/>
<path class="bs" d="M340.73 118.2V160.4"/>
<path class="eb2" d="M340.73 111.7V117.2"/>
<path class="ebt" d="M338.93 111.3h3.6l-1.8 1.4z"/>
<path class="eb3" d="M340.73 117.2V122.7M339.03 122.7h3.4"/>
<path class="tkx" d="M340.73 160.4v2.5"/>
<rect class="bb" x="345.32" y="114.7" width="5.4" height="45.7"/>
<path class="bs" d="M348.02 115.7V160.4"/>
<path class="eb2" d="M348.02 110.7V114.7"/>
<path class="ebt" d="M346.22 110.3h3.6l-1.8 1.4z"/>
<path class="eb3" d="M348.02 114.7V118.7M346.32 118.7h3.4"/>
<path class="tkx" d="M348.02 160.4v2.5"/>
<rect class="bb" x="352.61" y="150.2" width="5.4" height="10.2"/>
<path class="bs" d="M355.31 151.2V160.4"/>
<path class="eb2" d="M355.31 146.5V150.2"/>
<path class="ebt" d="M353.51 146.1h3.6l-1.8 1.4z"/>
<path class="eb3" d="M355.31 150.2V153.9M353.61 153.9h3.4"/>
<path class="tkx" d="M355.31 160.4v2.5"/>
<rect class="bf" x="293.45" y="110.2" width="65.6" height="50.2"/>
<rect class="lgb" x="294.45" y="111" width="5.2" height="5.2"/>
<text class="bl" x="306.3" y="117.4" textLength="17" lengthAdjust="spacingAndGlyphs">12-140-5</text>
<path class="tk" d="M290.85 115H293.45"/>
<text class="tlb" x="282.65" y="117.6" textLength="6.4" lengthAdjust="spacingAndGlyphs">100</text>
<path class="tk" d="M290.85 137.3H293.45"/>
<text class="tlb" x="284.75" y="139.9" textLength="4.3" lengthAdjust="spacingAndGlyphs">50</text>
<path class="tk" d="M290.85 160.4H293.45"/>
<text class="tlb" x="286.85" y="163" textLength="2.2" lengthAdjust="spacingAndGlyphs">0</text>
<rect class="bb" x="369.11" y="121.6" width="5.4" height="38.8"/>
<path class="bs" d="M371.81 122.6V160.4"/>
<path class="eb2" d="M371.81 119.1V121.6"/>
<path class="ebt" d="M370.01 118.7h3.6l-1.8 1.4z"/>
<path class="eb3" d="M371.81 121.6V124.1M370.11 124.1h3.4"/>
<path class="tkx" d="M371.81 160.4v2.5"/>
<rect class="bb" x="376.32" y="122.1" width="5.4" height="38.3"/>
<path class="bs" d="M379.02 123.1V160.4"/>
<path class="tkx" d="M379.02 160.4v2.5"/>
<rect class="bb" x="383.53" y="146.2" width="5.4" height="14.2"/>
<path class="bs" d="M386.23 147.2V160.4"/>
<path class="eb2" d="M386.23 141.3V146.2"/>
<path class="ebt" d="M384.43 140.9h3.6l-1.8 1.4z"/>
<path class="eb3" d="M386.23 146.2V151.1M384.53 151.1h3.4"/>
<path class="tkx" d="M386.23 160.4v2.5"/>
<rect class="bb" x="390.74" y="146.2" width="5.4" height="14.2"/>
<path class="bs" d="M393.44 147.2V160.4"/>
<path class="eb2" d="M393.44 141.3V146.2"/>
<path class="ebt" d="M391.64 140.9h3.6l-1.8 1.4z"/>
<path class="eb3" d="M393.44 146.2V151.1M391.74 151.1h3.4"/>
<path class="tkx" d="M393.44 160.4v2.5"/>
<rect class="bb" x="397.95" y="147.2" width="5.4" height="13.2"/>
<path class="bs" d="M400.65 148.2V160.4"/>
<path class="eb2" d="M400.65 145.3V147.2"/>
<path class="ebt" d="M398.85 144.9h3.6l-1.8 1.4z"/>
<path class="eb3" d="M400.65 147.2V149.1M398.95 149.1h3.4"/>
<path class="tkx" d="M400.65 160.4v2.5"/>
<rect class="bb" x="405.16" y="148" width="5.4" height="12.4"/>
<path class="bs" d="M407.86 149V160.4"/>
<path class="eb2" d="M407.86 146.2V148"/>
<path class="ebt" d="M406.06 145.8h3.6l-1.8 1.4z"/>
<path class="eb3" d="M407.86 148V149.8M406.16 149.8h3.4"/>
<path class="tkx" d="M407.86 160.4v2.5"/>
<rect class="bb" x="412.37" y="122.8" width="5.4" height="37.6"/>
<path class="bs" d="M415.07 123.8V160.4"/>
<path class="eb2" d="M415.07 120.6V122.8"/>
<path class="ebt" d="M413.27 120.2h3.6l-1.8 1.4z"/>
<path class="eb3" d="M415.07 122.8V125M413.37 125h3.4"/>
<path class="tkx" d="M415.07 160.4v2.5"/>
<rect class="bb" x="419.58" y="118.1" width="5.4" height="42.3"/>
<path class="bs" d="M422.28 119.1V160.4"/>
<path class="eb2" d="M422.28 114.7V118.1"/>
<path class="ebt" d="M420.48 114.3h3.6l-1.8 1.4z"/>
<path class="eb3" d="M422.28 118.1V121.5M420.58 121.5h3.4"/>
<path class="tkx" d="M422.28 160.4v2.5"/>
<rect class="bb" x="426.79" y="150.6" width="5.4" height="9.8"/>
<path class="bs" d="M429.49 151.6V160.4"/>
<path class="eb2" d="M429.49 147.2V150.6"/>
<path class="ebt" d="M427.69 146.8h3.6l-1.8 1.4z"/>
<path class="eb3" d="M429.49 150.6V154M427.79 154h3.4"/>
<path class="tkx" d="M429.49 160.4v2.5"/>
<rect class="bf" x="368.3" y="110.2" width="64.9" height="50.2"/>
<rect class="lgb" x="369.3" y="111" width="5.2" height="5.2"/>
<text class="bl" x="381.5" y="117.4" textLength="9.6" lengthAdjust="spacingAndGlyphs">B6.2</text>
<path class="tk" d="M365.7 118.1H368.3"/>
<text class="tlf" x="367.1" y="119.1">100</text>
<path class="tk" d="M365.7 139H368.3"/>
<text class="tlf" x="367.1" y="140">50</text>
<path class="tk" d="M365.7 160.4H368.3"/>
<text class="tlf" x="367.1" y="161.4">0</text>
<rect class="bb" x="453.17" y="122.5" width="5.4" height="37.9"/>
<path class="bs" d="M455.87 123.5V160.4"/>
<path class="eb2" d="M455.87 119.1V122.5"/>
<path class="ebt" d="M454.07 118.7h3.6l-1.8 1.4z"/>
<path class="eb3" d="M455.87 122.5V125.9M454.17 125.9h3.4"/>
<path class="tkx" d="M455.87 160.4v2.5"/>
<rect class="bb" x="460.5" y="124" width="5.4" height="36.4"/>
<path class="bs" d="M463.2 125V160.4"/>
<path class="eb2" d="M463.2 122.1V124"/>
<path class="ebt" d="M461.4 121.7h3.6l-1.8 1.4z"/>
<path class="eb3" d="M463.2 124V125.9M461.5 125.9h3.4"/>
<path class="tkx" d="M463.2 160.4v2.5"/>
<rect class="bb" x="467.83" y="148" width="5.4" height="12.4"/>
<path class="bs" d="M470.53 149V160.4"/>
<path class="eb2" d="M470.53 144.2V148"/>
<path class="ebt" d="M468.73 143.8h3.6l-1.8 1.4z"/>
<path class="eb3" d="M470.53 148V151.8M468.83 151.8h3.4"/>
<path class="tkx" d="M470.53 160.4v2.5"/>
<rect class="bb" x="475.17" y="149.4" width="5.4" height="11"/>
<path class="bs" d="M477.87 150.4V160.4"/>
<path class="eb2" d="M477.87 147.2V149.4"/>
<path class="ebt" d="M476.07 146.8h3.6l-1.8 1.4z"/>
<path class="eb3" d="M477.87 149.4V151.6M476.17 151.6h3.4"/>
<path class="tkx" d="M477.87 160.4v2.5"/>
<rect class="bb" x="482.5" y="150.6" width="5.4" height="9.8"/>
<path class="bs" d="M485.2 151.6V160.4"/>
<path class="eb2" d="M485.2 147.6V150.6"/>
<path class="ebt" d="M483.4 147.2h3.6l-1.8 1.4z"/>
<path class="eb3" d="M485.2 150.6V153.6M483.5 153.6h3.4"/>
<path class="tkx" d="M485.2 160.4v2.5"/>
<rect class="bb" x="489.83" y="148" width="5.4" height="12.4"/>
<path class="bs" d="M492.53 149V160.4"/>
<path class="eb2" d="M492.53 143.5V148"/>
<path class="ebt" d="M490.73 143.1h3.6l-1.8 1.4z"/>
<path class="eb3" d="M492.53 148V152.5M490.83 152.5h3.4"/>
<path class="tkx" d="M492.53 160.4v2.5"/>
<rect class="bb" x="497.17" y="126" width="5.4" height="34.4"/>
<path class="bs" d="M499.87 127V160.4"/>
<path class="eb2" d="M499.87 122.5V126"/>
<path class="ebt" d="M498.07 122.1h3.6l-1.8 1.4z"/>
<path class="eb3" d="M499.87 126V129.5M498.17 129.5h3.4"/>
<path class="tkx" d="M499.87 160.4v2.5"/>
<rect class="bb" x="504.5" y="120.1" width="5.4" height="40.3"/>
<path class="bs" d="M507.2 121.1V160.4"/>
<path class="eb2" d="M507.2 118.1V120.1"/>
<path class="ebt" d="M505.4 117.7h3.6l-1.8 1.4z"/>
<path class="eb3" d="M507.2 120.1V122.1M505.5 122.1h3.4"/>
<path class="tkx" d="M507.2 160.4v2.5"/>
<rect class="bb" x="511.83" y="154.6" width="5.4" height="5.8"/>
<path class="bs" d="M514.53 155.6V160.4"/>
<path class="tkx" d="M514.53 160.4v2.5"/>
<rect class="bf" x="452.3" y="110.2" width="66" height="50.2"/>
<rect class="lgb" x="453.3" y="111" width="5.2" height="5.2"/>
<text class="bl" x="464.8" y="117.4" textLength="14.2" lengthAdjust="spacingAndGlyphs">HEA81</text>
<path class="tk" d="M449.7 120.1H452.3"/>
<text class="tlb" x="441.5" y="122.7" textLength="6.4" lengthAdjust="spacingAndGlyphs">100</text>
<path class="tk" d="M449.7 140.2H452.3"/>
<text class="tlb" x="443.6" y="142.8" textLength="4.3" lengthAdjust="spacingAndGlyphs">50</text>
<path class="tk" d="M449.7 160.4H452.3"/>
<text class="tlb" x="445.7" y="163" textLength="2.2" lengthAdjust="spacingAndGlyphs">0</text>
<rect class="bb" x="294.29" y="179.3" width="5.4" height="35.1"/>
<path class="bs" d="M296.99 180.3V214.4"/>
<path class="eb2" d="M296.99 176.6V179.3"/>
<path class="ebt" d="M295.19 176.2h3.6l-1.8 1.4z"/>
<path class="eb3" d="M296.99 179.3V182M295.29 182h3.4"/>
<path class="tkx" d="M296.99 214.4v2.5"/>
<rect class="bb" x="301.58" y="181.9" width="5.4" height="32.5"/>
<path class="bs" d="M304.28 182.9V214.4"/>
<path class="eb2" d="M304.28 180V181.9"/>
<path class="ebt" d="M302.48 179.6h3.6l-1.8 1.4z"/>
<path class="eb3" d="M304.28 181.9V183.8M302.58 183.8h3.4"/>
<path class="tkx" d="M304.28 214.4v2.5"/>
<rect class="bb" x="308.87" y="184.9" width="5.4" height="29.5"/>
<path class="bs" d="M311.57 185.9V214.4"/>
<path class="eb2" d="M311.57 181.5V184.9"/>
<path class="ebt" d="M309.77 181.1h3.6l-1.8 1.4z"/>
<path class="eb3" d="M311.57 184.9V188.3M309.87 188.3h3.4"/>
<path class="tkx" d="M311.57 214.4v2.5"/>
<rect class="bb" x="316.16" y="185.5" width="5.4" height="28.9"/>
<path class="bs" d="M318.86 186.5V214.4"/>
<path class="eb2" d="M318.86 180.8V185.5"/>
<path class="ebt" d="M317.06 180.4h3.6l-1.8 1.4z"/>
<path class="eb3" d="M318.86 185.5V190.2M317.16 190.2h3.4"/>
<path class="tkx" d="M318.86 214.4v2.5"/>
<rect class="bb" x="323.45" y="183.7" width="5.4" height="30.7"/>
<path class="bs" d="M326.15 184.7V214.4"/>
<path class="eb2" d="M326.15 180.5V183.7"/>
<path class="ebt" d="M324.35 180.1h3.6l-1.8 1.4z"/>
<path class="eb3" d="M326.15 183.7V186.9M324.45 186.9h3.4"/>
<path class="tkx" d="M326.15 214.4v2.5"/>
<rect class="bb" x="330.74" y="184.9" width="5.4" height="29.5"/>
<path class="bs" d="M333.44 185.9V214.4"/>
<path class="eb2" d="M333.44 179.6V184.9"/>
<path class="ebt" d="M331.64 179.2h3.6l-1.8 1.4z"/>
<path class="eb3" d="M333.44 184.9V190.2M331.74 190.2h3.4"/>
<path class="tkx" d="M333.44 214.4v2.5"/>
<rect class="bb" x="338.03" y="183" width="5.4" height="31.4"/>
<path class="bs" d="M340.73 184V214.4"/>
<path class="eb2" d="M340.73 179.6V183"/>
<path class="ebt" d="M338.93 179.2h3.6l-1.8 1.4z"/>
<path class="eb3" d="M340.73 183V186.4M339.03 186.4h3.4"/>
<path class="tkx" d="M340.73 214.4v2.5"/>
<rect class="bb" x="345.32" y="176.6" width="5.4" height="37.8"/>
<path class="bs" d="M348.02 177.6V214.4"/>
<path class="tkx" d="M348.02 214.4v2.5"/>
<rect class="bb" x="352.61" y="208.6" width="5.4" height="5.8"/>
<path class="bs" d="M355.31 209.6V214.4"/>
<path class="tkx" d="M355.31 214.4v2.5"/>
<rect class="bf" x="293.45" y="165.4" width="65.6" height="49"/>
<rect class="lgb" x="294.45" y="166.2" width="5.2" height="5.2"/>
<text class="bl" x="307" y="172.6" textLength="19.2" lengthAdjust="spacingAndGlyphs">YG-C95G7</text>
<path class="tk" d="M290.85 176.6H293.45"/>
<text class="tlb" x="282.65" y="179.2" textLength="6.4" lengthAdjust="spacingAndGlyphs">100</text>
<path class="tk" d="M290.85 195.8H293.45"/>
<text class="tlb" x="284.75" y="198.4" textLength="4.3" lengthAdjust="spacingAndGlyphs">50</text>
<path class="tk" d="M290.85 214.4H293.45"/>
<text class="tlb" x="286.85" y="217" textLength="2.2" lengthAdjust="spacingAndGlyphs">0</text>
<rect class="bb" x="369.11" y="181.9" width="5.4" height="32.5"/>
<path class="bs" d="M371.81 182.9V214.4"/>
<path class="eb2" d="M371.81 180.5V181.9"/>
<path class="ebt" d="M370.01 180.1h3.6l-1.8 1.4z"/>
<path class="eb3" d="M371.81 181.9V183.3M370.11 183.3h3.4"/>
<path class="tkx" d="M371.81 214.4v2.5"/>
<rect class="bb" x="376.32" y="189.3" width="5.4" height="25.1"/>
<path class="bs" d="M379.02 190.3V214.4"/>
<path class="eb2" d="M379.02 184.9V189.3"/>
<path class="ebt" d="M377.22 184.5h3.6l-1.8 1.4z"/>
<path class="eb3" d="M379.02 189.3V193.7M377.32 193.7h3.4"/>
<path class="tkx" d="M379.02 214.4v2.5"/>
<rect class="bb" x="383.53" y="201.2" width="5.4" height="13.2"/>
<path class="bs" d="M386.23 202.2V214.4"/>
<path class="eb2" d="M386.23 199.2V201.2"/>
<path class="ebt" d="M384.43 198.8h3.6l-1.8 1.4z"/>
<path class="eb3" d="M386.23 201.2V203.2M384.53 203.2h3.4"/>
<path class="tkx" d="M386.23 214.4v2.5"/>
<rect class="bb" x="390.74" y="202.6" width="5.4" height="11.8"/>
<path class="bs" d="M393.44 203.6V214.4"/>
<path class="tkx" d="M393.44 214.4v2.5"/>
<rect class="bb" x="397.95" y="203.2" width="5.4" height="11.2"/>
<path class="bs" d="M400.65 204.2V214.4"/>
<path class="tkx" d="M400.65 214.4v2.5"/>
<rect class="bb" x="405.16" y="203.2" width="5.4" height="11.2"/>
<path class="bs" d="M407.86 204.2V214.4"/>
<path class="eb2" d="M407.86 201.8V203.2"/>
<path class="ebt" d="M406.06 201.4h3.6l-1.8 1.4z"/>
<path class="eb3" d="M407.86 203.2V204.6M406.16 204.6h3.4"/>
<path class="tkx" d="M407.86 214.4v2.5"/>
<rect class="bb" x="412.37" y="180.5" width="5.4" height="33.9"/>
<path class="bs" d="M415.07 181.5V214.4"/>
<path class="eb2" d="M415.07 177.8V180.5"/>
<path class="ebt" d="M413.27 177.4h3.6l-1.8 1.4z"/>
<path class="eb3" d="M415.07 180.5V183.2M413.37 183.2h3.4"/>
<path class="tkx" d="M415.07 214.4v2.5"/>
<rect class="bb" x="419.58" y="175.6" width="5.4" height="38.8"/>
<path class="bs" d="M422.28 176.6V214.4"/>
<path class="eb2" d="M422.28 169.7V175.6"/>
<path class="ebt" d="M420.48 169.3h3.6l-1.8 1.4z"/>
<path class="eb3" d="M422.28 175.6V181.5M420.58 181.5h3.4"/>
<path class="tkx" d="M422.28 214.4v2.5"/>
<rect class="bb" x="426.79" y="205.2" width="5.4" height="9.2"/>
<path class="bs" d="M429.49 206.2V214.4"/>
<path class="tkx" d="M429.49 214.4v2.5"/>
<rect class="bf" x="368.3" y="165.4" width="64.9" height="49"/>
<rect class="lgb" x="369.3" y="166.2" width="5.2" height="5.2"/>
<text class="bl" x="381.5" y="172.6" textLength="10.4" lengthAdjust="spacingAndGlyphs">26H7</text>
<path class="tk" d="M365.7 175.6H368.3"/>
<text class="tlf" x="367.1" y="176.6">100</text>
<path class="tk" d="M365.7 194.8H368.3"/>
<text class="tlf" x="367.1" y="195.8">50</text>
<path class="tk" d="M365.7 214.4H368.3"/>
<text class="tlf" x="367.1" y="215.4">0</text>
<rect class="bb" x="453.17" y="180.8" width="5.4" height="33.6"/>
<path class="bs" d="M455.87 181.8V214.4"/>
<path class="eb2" d="M455.87 176.6V180.8"/>
<path class="ebt" d="M454.07 176.2h3.6l-1.8 1.4z"/>
<path class="eb3" d="M455.87 180.8V185M454.17 185h3.4"/>
<path class="tkx" d="M455.87 214.4v2.5"/>
<rect class="bb" x="460.5" y="181" width="5.4" height="33.4"/>
<path class="bs" d="M463.2 182V214.4"/>
<path class="eb2" d="M463.2 175.6V181"/>
<path class="ebt" d="M461.4 175.2h3.6l-1.8 1.4z"/>
<path class="eb3" d="M463.2 181V186.4M461.5 186.4h3.4"/>
<path class="tkx" d="M463.2 214.4v2.5"/>
<rect class="bb" x="467.83" y="183.7" width="5.4" height="30.7"/>
<path class="bs" d="M470.53 184.7V214.4"/>
<path class="eb2" d="M470.53 179.6V183.7"/>
<path class="ebt" d="M468.73 179.2h3.6l-1.8 1.4z"/>
<path class="eb3" d="M470.53 183.7V187.8M468.83 187.8h3.4"/>
<path class="tkx" d="M470.53 214.4v2.5"/>
<rect class="bb" x="475.17" y="182.2" width="5.4" height="32.2"/>
<path class="bs" d="M477.87 183.2V214.4"/>
<path class="eb2" d="M477.87 178.5V182.2"/>
<path class="ebt" d="M476.07 178.1h3.6l-1.8 1.4z"/>
<path class="eb3" d="M477.87 182.2V185.9M476.17 185.9h3.4"/>
<path class="tkx" d="M477.87 214.4v2.5"/>
<rect class="bb" x="482.5" y="183.7" width="5.4" height="30.7"/>
<path class="bs" d="M485.2 184.7V214.4"/>
<path class="eb2" d="M485.2 179.6V183.7"/>
<path class="ebt" d="M483.4 179.2h3.6l-1.8 1.4z"/>
<path class="eb3" d="M485.2 183.7V187.8M483.5 187.8h3.4"/>
<path class="tkx" d="M485.2 214.4v2.5"/>
<rect class="bb" x="489.83" y="184" width="5.4" height="30.4"/>
<path class="bs" d="M492.53 185V214.4"/>
<path class="eb2" d="M492.53 178.5V184"/>
<path class="ebt" d="M490.73 178.1h3.6l-1.8 1.4z"/>
<path class="eb3" d="M492.53 184V189.5M490.83 189.5h3.4"/>
<path class="tkx" d="M492.53 214.4v2.5"/>
<rect class="bb" x="497.17" y="181" width="5.4" height="33.4"/>
<path class="bs" d="M499.87 182V214.4"/>
<path class="eb2" d="M499.87 177.5V181"/>
<path class="ebt" d="M498.07 177.1h3.6l-1.8 1.4z"/>
<path class="eb3" d="M499.87 181V184.5M498.17 184.5h3.4"/>
<path class="tkx" d="M499.87 214.4v2.5"/>
<rect class="bb" x="504.5" y="175.1" width="5.4" height="39.3"/>
<path class="bs" d="M507.2 176.1V214.4"/>
<path class="eb2" d="M507.2 171.6V175.1"/>
<path class="ebt" d="M505.4 171.2h3.6l-1.8 1.4z"/>
<path class="eb3" d="M507.2 175.1V178.6M505.5 178.6h3.4"/>
<path class="tkx" d="M507.2 214.4v2.5"/>
<rect class="bb" x="511.83" y="207.4" width="5.4" height="7"/>
<path class="bs" d="M514.53 208.4V214.4"/>
<path class="tkx" d="M514.53 214.4v2.5"/>
<rect class="bf" x="452.3" y="165.4" width="66" height="49"/>
<rect class="lgb" x="453.3" y="166.2" width="5.2" height="5.2"/>
<text class="bl" x="466" y="172.6" textLength="10.4" lengthAdjust="spacingAndGlyphs">B1.13</text>
<path class="tk" d="M449.7 175.1H452.3"/>
<text class="tlb" x="441.5" y="177.7" textLength="6.4" lengthAdjust="spacingAndGlyphs">100</text>
<path class="tk" d="M449.7 194.4H452.3"/>
<text class="tlb" x="443.6" y="197" textLength="4.3" lengthAdjust="spacingAndGlyphs">50</text>
<path class="tk" d="M449.7 214.4H452.3"/>
<text class="tlb" x="445.7" y="217" textLength="2.2" lengthAdjust="spacingAndGlyphs">0</text>
<rect class="bb" x="294.29" y="232.8" width="5.4" height="37.6"/>
<path class="bs" d="M296.99 233.8V270.4"/>
<path class="eb2" d="M296.99 230.1V232.8"/>
<path class="ebt" d="M295.19 229.7h3.6l-1.8 1.4z"/>
<path class="eb3" d="M296.99 232.8V235.5M295.29 235.5h3.4"/>
<path class="tkx" d="M296.99 270.4v2.5"/>
<rect class="bb" x="301.58" y="235.8" width="5.4" height="34.6"/>
<path class="bs" d="M304.28 236.8V270.4"/>
<path class="tkx" d="M304.28 270.4v2.5"/>
<rect class="bb" x="308.87" y="257.2" width="5.4" height="13.2"/>
<path class="bs" d="M311.57 258.2V270.4"/>
<path class="eb2" d="M311.57 252.3V257.2"/>
<path class="ebt" d="M309.77 251.9h3.6l-1.8 1.4z"/>
<path class="eb3" d="M311.57 257.2V262.1M309.87 262.1h3.4"/>
<path class="tkx" d="M311.57 270.4v2.5"/>
<rect class="bb" x="316.16" y="261.2" width="5.4" height="9.2"/>
<path class="bs" d="M318.86 262.2V270.4"/>
<path class="tkx" d="M318.86 270.4v2.5"/>
<rect class="bb" x="323.45" y="255.7" width="5.4" height="14.7"/>
<path class="bs" d="M326.15 256.7V270.4"/>
<path class="eb2" d="M326.15 249.8V255.7"/>
<path class="ebt" d="M324.35 249.4h3.6l-1.8 1.4z"/>
<path class="eb3" d="M326.15 255.7V261.6M324.45 261.6h3.4"/>
<path class="tkx" d="M326.15 270.4v2.5"/>
<rect class="bb" x="330.74" y="256.2" width="5.4" height="14.2"/>
<path class="bs" d="M333.44 257.2V270.4"/>
<path class="eb2" d="M333.44 253.2V256.2"/>
<path class="ebt" d="M331.64 252.8h3.6l-1.8 1.4z"/>
<path class="eb3" d="M333.44 256.2V259.2M331.74 259.2h3.4"/>
<path class="tkx" d="M333.44 270.4v2.5"/>
<rect class="bb" x="338.03" y="233.1" width="5.4" height="37.3"/>
<path class="bs" d="M340.73 234.1V270.4"/>
<path class="eb2" d="M340.73 228.7V233.1"/>
<path class="ebt" d="M338.93 228.3h3.6l-1.8 1.4z"/>
<path class="eb3" d="M340.73 233.1V237.5M339.03 237.5h3.4"/>
<path class="tkx" d="M340.73 270.4v2.5"/>
<rect class="bb" x="345.32" y="231.3" width="5.4" height="39.1"/>
<path class="bs" d="M348.02 232.3V270.4"/>
<path class="eb2" d="M348.02 227.2V231.3"/>
<path class="ebt" d="M346.22 226.8h3.6l-1.8 1.4z"/>
<path class="eb3" d="M348.02 231.3V235.4M346.32 235.4h3.4"/>
<path class="tkx" d="M348.02 270.4v2.5"/>
<rect class="bb" x="352.61" y="263.1" width="5.4" height="7.3"/>
<path class="bs" d="M355.31 264.1V270.4"/>
<path class="tkx" d="M355.31 270.4v2.5"/>
<rect class="bf" x="293.45" y="220.3" width="65.6" height="50.1"/>
<rect class="lgb" x="294.45" y="221.1" width="5.2" height="5.2"/>
<text class="bl" x="307" y="227.5" textLength="11.8" lengthAdjust="spacingAndGlyphs">COL-4</text>
<path class="tk" d="M290.85 231.6H293.45"/>
<text class="tlb" x="282.65" y="234.2" textLength="6.4" lengthAdjust="spacingAndGlyphs">100</text>
<path class="tk" d="M290.85 251H293.45"/>
<text class="tlb" x="284.75" y="253.6" textLength="4.3" lengthAdjust="spacingAndGlyphs">50</text>
<path class="tk" d="M290.85 270.4H293.45"/>
<text class="tlb" x="286.85" y="273" textLength="2.2" lengthAdjust="spacingAndGlyphs">0</text>
<rect class="bb" x="369.11" y="235.8" width="5.4" height="34.6"/>
<path class="bs" d="M371.81 236.8V270.4"/>
<path class="eb2" d="M371.81 233.1V235.8"/>
<path class="ebt" d="M370.01 232.7h3.6l-1.8 1.4z"/>
<path class="eb3" d="M371.81 235.8V238.5M370.11 238.5h3.4"/>
<path class="tkx" d="M371.81 270.4v2.5"/>
<rect class="bb" x="376.32" y="233.1" width="5.4" height="37.3"/>
<path class="bs" d="M379.02 234.1V270.4"/>
<path class="tkx" d="M379.02 270.4v2.5"/>
<rect class="bb" x="383.53" y="252" width="5.4" height="18.4"/>
<path class="bs" d="M386.23 253V270.4"/>
<path class="eb2" d="M386.23 249.8V252"/>
<path class="ebt" d="M384.43 249.4h3.6l-1.8 1.4z"/>
<path class="eb3" d="M386.23 252V254.2M384.53 254.2h3.4"/>
<path class="tkx" d="M386.23 270.4v2.5"/>
<rect class="bb" x="390.74" y="255" width="5.4" height="15.4"/>
<path class="bs" d="M393.44 256V270.4"/>
<path class="eb2" d="M393.44 253.2V255"/>
<path class="ebt" d="M391.64 252.8h3.6l-1.8 1.4z"/>
<path class="eb3" d="M393.44 255V256.8M391.74 256.8h3.4"/>
<path class="tkx" d="M393.44 270.4v2.5"/>
<rect class="bb" x="397.95" y="255.7" width="5.4" height="14.7"/>
<path class="bs" d="M400.65 256.7V270.4"/>
<path class="eb2" d="M400.65 253.2V255.7"/>
<path class="ebt" d="M398.85 252.8h3.6l-1.8 1.4z"/>
<path class="eb3" d="M400.65 255.7V258.2M398.95 258.2h3.4"/>
<path class="tkx" d="M400.65 270.4v2.5"/>
<rect class="bb" x="405.16" y="253.5" width="5.4" height="16.9"/>
<path class="bs" d="M407.86 254.5V270.4"/>
<path class="eb2" d="M407.86 245.4V253.5"/>
<path class="ebt" d="M406.06 245h3.6l-1.8 1.4z"/>
<path class="eb3" d="M407.86 253.5V261.6M406.16 261.6h3.4"/>
<path class="tkx" d="M407.86 270.4v2.5"/>
<rect class="bb" x="412.37" y="232.8" width="5.4" height="37.6"/>
<path class="bs" d="M415.07 233.8V270.4"/>
<path class="eb2" d="M415.07 230.6V232.8"/>
<path class="ebt" d="M413.27 230.2h3.6l-1.8 1.4z"/>
<path class="eb3" d="M415.07 232.8V235M413.37 235h3.4"/>
<path class="tkx" d="M415.07 270.4v2.5"/>
<rect class="bb" x="419.58" y="229.1" width="5.4" height="41.3"/>
<path class="bs" d="M422.28 230.1V270.4"/>
<path class="eb2" d="M422.28 226.1V229.1"/>
<path class="ebt" d="M420.48 225.7h3.6l-1.8 1.4z"/>
<path class="eb3" d="M422.28 229.1V232.1M420.58 232.1h3.4"/>
<path class="tkx" d="M422.28 270.4v2.5"/>
<rect class="bb" x="426.79" y="260.9" width="5.4" height="9.5"/>
<path class="bs" d="M429.49 261.9V270.4"/>
<path class="eb2" d="M429.49 258.2V260.9"/>
<path class="ebt" d="M427.69 257.8h3.6l-1.8 1.4z"/>
<path class="eb3" d="M429.49 260.9V263.6M427.79 263.6h3.4"/>
<path class="tkx" d="M429.49 270.4v2.5"/>
<rect class="bf" x="368.3" y="220.3" width="64.9" height="50.1"/>
<rect class="lgb" x="369.3" y="221.1" width="5.2" height="5.2"/>
<text class="bl" x="382.3" y="227.5" textLength="11.1" lengthAdjust="spacingAndGlyphs">T84.1</text>
<path class="tk" d="M365.7 229.5H368.3"/>
<text class="tlf" x="367.1" y="230.5">100</text>
<path class="tk" d="M365.7 249H368.3"/>
<text class="tlf" x="367.1" y="250">50</text>
<path class="tk" d="M365.7 270.4H368.3"/>
<text class="tlf" x="367.1" y="271.4">0</text>
<rect class="bb" x="453.17" y="237" width="5.4" height="33.4"/>
<path class="bs" d="M455.87 238V270.4"/>
<path class="eb2" d="M455.87 232.8V237"/>
<path class="ebt" d="M454.07 232.4h3.6l-1.8 1.4z"/>
<path class="eb3" d="M455.87 237V241.2M454.17 241.2h3.4"/>
<path class="tkx" d="M455.87 270.4v2.5"/>
<rect class="bb" x="460.5" y="233.1" width="5.4" height="37.3"/>
<path class="bs" d="M463.2 234.1V270.4"/>
<path class="tkx" d="M463.2 270.4v2.5"/>
<rect class="bb" x="467.83" y="255.3" width="5.4" height="15.1"/>
<path class="bs" d="M470.53 256.3V270.4"/>
<path class="eb2" d="M470.53 246.8V255.3"/>
<path class="ebt" d="M468.73 246.4h3.6l-1.8 1.4z"/>
<path class="eb3" d="M470.53 255.3V263.8M468.83 263.8h3.4"/>
<path class="tkx" d="M470.53 270.4v2.5"/>
<rect class="bb" x="475.17" y="257.2" width="5.4" height="13.2"/>
<path class="bs" d="M477.87 258.2V270.4"/>
<path class="eb2" d="M477.87 253.8V257.2"/>
<path class="ebt" d="M476.07 253.4h3.6l-1.8 1.4z"/>
<path class="eb3" d="M477.87 257.2V260.6M476.17 260.6h3.4"/>
<path class="tkx" d="M477.87 270.4v2.5"/>
<rect class="bb" x="482.5" y="254.2" width="5.4" height="16.2"/>
<path class="bs" d="M485.2 255.2V270.4"/>
<path class="eb2" d="M485.2 252V254.2"/>
<path class="ebt" d="M483.4 251.6h3.6l-1.8 1.4z"/>
<path class="eb3" d="M485.2 254.2V256.4M483.5 256.4h3.4"/>
<path class="tkx" d="M485.2 270.4v2.5"/>
<rect class="bb" x="489.83" y="258" width="5.4" height="12.4"/>
<path class="bs" d="M492.53 259V270.4"/>
<path class="eb2" d="M492.53 256.8V258"/>
<path class="ebt" d="M490.73 256.4h3.6l-1.8 1.2z"/>
<path class="eb3" d="M492.53 258V259.2M490.83 259.2h3.4"/>
<path class="tkx" d="M492.53 270.4v2.5"/>
<rect class="bb" x="497.17" y="237" width="5.4" height="33.4"/>
<path class="bs" d="M499.87 238V270.4"/>
<path class="eb2" d="M499.87 233.1V237"/>
<path class="ebt" d="M498.07 232.7h3.6l-1.8 1.4z"/>
<path class="eb3" d="M499.87 237V240.9M498.17 240.9h3.4"/>
<path class="tkx" d="M499.87 270.4v2.5"/>
<rect class="bb" x="504.5" y="230.1" width="5.4" height="40.3"/>
<path class="bs" d="M507.2 231.1V270.4"/>
<path class="eb2" d="M507.2 226.1V230.1"/>
<path class="ebt" d="M505.4 225.7h3.6l-1.8 1.4z"/>
<path class="eb3" d="M507.2 230.1V234.1M505.5 234.1h3.4"/>
<path class="tkx" d="M507.2 270.4v2.5"/>
<rect class="bb" x="511.83" y="263.1" width="5.4" height="7.3"/>
<path class="bs" d="M514.53 264.1V270.4"/>
<path class="eb2" d="M514.53 260.9V263.1"/>
<path class="ebt" d="M512.73 260.5h3.6l-1.8 1.4z"/>
<path class="eb3" d="M514.53 263.1V265.3M512.83 265.3h3.4"/>
<path class="tkx" d="M514.53 270.4v2.5"/>
<rect class="bf" x="452.3" y="220.3" width="66" height="50.1"/>
<rect class="lgb" x="453.3" y="221.1" width="5.2" height="5.2"/>
<text class="bl" x="465.3" y="227.5" textLength="10" lengthAdjust="spacingAndGlyphs">34B1</text>
<path class="tk" d="M449.7 230.1H452.3"/>
<text class="tlb" x="441.5" y="232.7" textLength="6.4" lengthAdjust="spacingAndGlyphs">100</text>
<path class="tk" d="M449.7 249.8H452.3"/>
<text class="tlb" x="443.6" y="252.4" textLength="4.3" lengthAdjust="spacingAndGlyphs">50</text>
<path class="tk" d="M449.7 270.4H452.3"/>
<text class="tlb" x="445.7" y="273" textLength="2.2" lengthAdjust="spacingAndGlyphs">0</text>
<rect class="bb" x="294.29" y="291.5" width="5.4" height="34.1"/>
<path class="bs" d="M296.99 292.5V325.6"/>
<path class="eb2" d="M296.99 288V291.5"/>
<path class="ebt" d="M295.19 287.6h3.6l-1.8 1.4z"/>
<path class="eb3" d="M296.99 291.5V295M295.29 295h3.4"/>
<path class="tkx" d="M296.99 325.6v2.5"/>
<rect class="bb" x="301.58" y="292.9" width="5.4" height="32.7"/>
<path class="bs" d="M304.28 293.9V325.6"/>
<path class="eb2" d="M304.28 288V292.9"/>
<path class="ebt" d="M302.48 287.6h3.6l-1.8 1.4z"/>
<path class="eb3" d="M304.28 292.9V297.8M302.58 297.8h3.4"/>
<path class="tkx" d="M304.28 325.6v2.5"/>
<rect class="bb" x="308.87" y="316.2" width="5.4" height="9.4"/>
<path class="bs" d="M311.57 317.2V325.6"/>
<path class="eb2" d="M311.57 313.6V316.2"/>
<path class="ebt" d="M309.77 313.2h3.6l-1.8 1.4z"/>
<path class="eb3" d="M311.57 316.2V318.8M309.87 318.8h3.4"/>
<path class="tkx" d="M311.57 325.6v2.5"/>
<rect class="bb" x="316.16" y="315.1" width="5.4" height="10.5"/>
<path class="bs" d="M318.86 316.1V325.6"/>
<path class="eb2" d="M318.86 312.2V315.1"/>
<path class="ebt" d="M317.06 311.8h3.6l-1.8 1.4z"/>
<path class="eb3" d="M318.86 315.1V318M317.16 318h3.4"/>
<path class="tkx" d="M318.86 325.6v2.5"/>
<rect class="bb" x="323.45" y="312.2" width="5.4" height="13.4"/>
<path class="bs" d="M326.15 313.2V325.6"/>
<path class="eb2" d="M326.15 310.2V312.2"/>
<path class="ebt" d="M324.35 309.8h3.6l-1.8 1.4z"/>
<path class="eb3" d="M326.15 312.2V314.2M324.45 314.2h3.4"/>
<path class="tkx" d="M326.15 325.6v2.5"/>
<rect class="bb" x="330.74" y="315.1" width="5.4" height="10.5"/>
<path class="bs" d="M333.44 316.1V325.6"/>
<path class="eb2" d="M333.44 313.6V315.1"/>
<path class="ebt" d="M331.64 313.2h3.6l-1.8 1.4z"/>
<path class="eb3" d="M333.44 315.1V316.6M331.74 316.6h3.4"/>
<path class="tkx" d="M333.44 325.6v2.5"/>
<rect class="bb" x="338.03" y="294.4" width="5.4" height="31.2"/>
<path class="bs" d="M340.73 295.4V325.6"/>
<path class="eb2" d="M340.73 291V294.4"/>
<path class="ebt" d="M338.93 290.6h3.6l-1.8 1.4z"/>
<path class="eb3" d="M340.73 294.4V297.8M339.03 297.8h3.4"/>
<path class="tkx" d="M340.73 325.6v2.5"/>
<rect class="bb" x="345.32" y="285.1" width="5.4" height="40.5"/>
<path class="bs" d="M348.02 286.1V325.6"/>
<path class="eb2" d="M348.02 278.7V285.1"/>
<path class="ebt" d="M346.22 278.3h3.6l-1.8 1.4z"/>
<path class="eb3" d="M348.02 285.1V291.5M346.32 291.5h3.4"/>
<path class="tkx" d="M348.02 325.6v2.5"/>
<rect class="bb" x="352.61" y="319.6" width="5.4" height="6"/>
<path class="bs" d="M355.31 320.6V325.6"/>
<path class="tkx" d="M355.31 325.6v2.5"/>
<rect class="bf" x="293.45" y="276.1" width="65.6" height="49.5"/>
<rect class="lgb" x="294.45" y="276.9" width="5.2" height="5.2"/>
<text class="bl" x="307" y="283.3" textLength="6.7" lengthAdjust="spacingAndGlyphs">SF4</text>
<path class="tk" d="M290.85 286H293.45"/>
<text class="tlb" x="282.65" y="288.6" textLength="6.4" lengthAdjust="spacingAndGlyphs">100</text>
<path class="tk" d="M290.85 306H293.45"/>
<text class="tlb" x="284.75" y="308.6" textLength="4.3" lengthAdjust="spacingAndGlyphs">50</text>
<path class="tk" d="M290.85 325.6H293.45"/>
<text class="tlb" x="286.85" y="328.2" textLength="2.2" lengthAdjust="spacingAndGlyphs">0</text>
<text class="xlb" transform="translate(298.79 331.0) rotate(-90)" x="-10.8" y="0" textLength="10.8" lengthAdjust="spacingAndGlyphs">R38A</text>
<text class="xlb" transform="translate(306.08 331.0) rotate(-90)" x="-10.8" y="0" textLength="10.8" lengthAdjust="spacingAndGlyphs">D40A</text>
<text class="xlb" transform="translate(313.37 331.0) rotate(-90)" x="-10.8" y="0" textLength="10.8" lengthAdjust="spacingAndGlyphs">R64A</text>
<text class="xlb" transform="translate(320.66 331.0) rotate(-90)" x="-10.8" y="0" textLength="10.8" lengthAdjust="spacingAndGlyphs">R64D</text>
<text class="xlb" transform="translate(327.95 331.0) rotate(-90)" x="-10.8" y="0" textLength="10.8" lengthAdjust="spacingAndGlyphs">D53A</text>
<text class="xlb" transform="translate(335.24 331.0) rotate(-90)" x="-10.8" y="0" textLength="10.8" lengthAdjust="spacingAndGlyphs">D82R</text>
<text class="xlb" transform="translate(342.53 331.0) rotate(-90)" x="-24" y="0" textLength="24" lengthAdjust="spacingAndGlyphs">R64D+D82R</text>
<text class="xlb" transform="translate(349.82 331.0) rotate(-90)" x="-30.3" y="0" textLength="30.3" lengthAdjust="spacingAndGlyphs">CEACAM1-3-Fc</text>
<text class="xlb" transform="translate(357.11 331.0) rotate(-90)" x="-17" y="0" textLength="17" lengthAdjust="spacingAndGlyphs">CD14-Fc</text>
<rect class="bb" x="368.61" y="287" width="5.4" height="38.6"/>
<path class="bs" d="M371.31 288V325.6"/>
<path class="eb2" d="M371.31 284.7V287"/>
<path class="ebt" d="M369.51 284.3h3.6l-1.8 1.4z"/>
<path class="eb3" d="M371.31 287V289.3M369.61 289.3h3.4"/>
<path class="tkx" d="M371.31 325.6v2.5"/>
<rect class="bb" x="375.82" y="288" width="5.4" height="37.6"/>
<path class="bs" d="M378.52 289V325.6"/>
<path class="eb2" d="M378.52 286.1V288"/>
<path class="ebt" d="M376.72 285.7h3.6l-1.8 1.4z"/>
<path class="eb3" d="M378.52 288V289.9M376.82 289.9h3.4"/>
<path class="tkx" d="M378.52 325.6v2.5"/>
<rect class="bb" x="383.03" y="312.2" width="5.4" height="13.4"/>
<path class="bs" d="M385.73 313.2V325.6"/>
<path class="eb2" d="M385.73 309.2V312.2"/>
<path class="ebt" d="M383.93 308.8h3.6l-1.8 1.4z"/>
<path class="eb3" d="M385.73 312.2V315.2M384.03 315.2h3.4"/>
<path class="tkx" d="M385.73 325.6v2.5"/>
<rect class="bb" x="390.24" y="314.2" width="5.4" height="11.4"/>
<path class="bs" d="M392.94 315.2V325.6"/>
<path class="eb2" d="M392.94 310.2V314.2"/>
<path class="ebt" d="M391.14 309.8h3.6l-1.8 1.4z"/>
<path class="eb3" d="M392.94 314.2V318.2M391.24 318.2h3.4"/>
<path class="tkx" d="M392.94 325.6v2.5"/>
<rect class="bb" x="397.45" y="312.2" width="5.4" height="13.4"/>
<path class="bs" d="M400.15 313.2V325.6"/>
<path class="eb2" d="M400.15 307.3V312.2"/>
<path class="ebt" d="M398.35 306.9h3.6l-1.8 1.4z"/>
<path class="eb3" d="M400.15 312.2V317.1M398.45 317.1h3.4"/>
<path class="tkx" d="M400.15 325.6v2.5"/>
<rect class="bb" x="404.66" y="312.2" width="5.4" height="13.4"/>
<path class="bs" d="M407.36 313.2V325.6"/>
<path class="tkx" d="M407.36 325.6v2.5"/>
<rect class="bb" x="411.87" y="294.7" width="5.4" height="30.9"/>
<path class="bs" d="M414.57 295.7V325.6"/>
<path class="eb2" d="M414.57 291.5V294.7"/>
<path class="ebt" d="M412.77 291.1h3.6l-1.8 1.4z"/>
<path class="eb3" d="M414.57 294.7V297.9M412.87 297.9h3.4"/>
<path class="tkx" d="M414.57 325.6v2.5"/>
<rect class="bb" x="419.08" y="284.7" width="5.4" height="40.9"/>
<path class="bs" d="M421.78 285.7V325.6"/>
<path class="eb2" d="M421.78 279.9V284.7"/>
<path class="ebt" d="M419.98 279.5h3.6l-1.8 1.4z"/>
<path class="eb3" d="M421.78 284.7V289.5M420.08 289.5h3.4"/>
<path class="tkx" d="M421.78 325.6v2.5"/>
<rect class="bb" x="426.29" y="316.6" width="5.4" height="9"/>
<path class="bs" d="M428.99 317.6V325.6"/>
<path class="tkx" d="M428.99 325.6v2.5"/>
<rect class="bf" x="367.8" y="276.1" width="64.9" height="49.5"/>
<rect class="lgb" x="368.8" y="276.9" width="5.2" height="5.2"/>
<text class="bl" x="382.3" y="283.3" textLength="25.9" lengthAdjust="spacingAndGlyphs">CLB gran-10</text>
<path class="tk" d="M365.2 284.1H367.8"/>
<text class="tlf" x="366.6" y="285.1">100</text>
<path class="tk" d="M365.2 304.3H367.8"/>
<text class="tlf" x="366.6" y="305.3">50</text>
<path class="tk" d="M365.2 325.6H367.8"/>
<text class="tlf" x="366.6" y="326.6">0</text>
<text class="xlb" transform="translate(373.11 331.0) rotate(-90)" x="-10.8" y="0" textLength="10.8" lengthAdjust="spacingAndGlyphs">R38A</text>
<text class="xlb" transform="translate(380.32 331.0) rotate(-90)" x="-10.8" y="0" textLength="10.8" lengthAdjust="spacingAndGlyphs">D40A</text>
<text class="xlb" transform="translate(387.53 331.0) rotate(-90)" x="-10.8" y="0" textLength="10.8" lengthAdjust="spacingAndGlyphs">R64A</text>
<text class="xlb" transform="translate(394.74 331.0) rotate(-90)" x="-10.8" y="0" textLength="10.8" lengthAdjust="spacingAndGlyphs">R64D</text>
<text class="xlb" transform="translate(401.95 331.0) rotate(-90)" x="-10.8" y="0" textLength="10.8" lengthAdjust="spacingAndGlyphs">D53A</text>
<text class="xlb" transform="translate(409.16 331.0) rotate(-90)" x="-10.8" y="0" textLength="10.8" lengthAdjust="spacingAndGlyphs">D82R</text>
<text class="xlb" transform="translate(416.37 331.0) rotate(-90)" x="-24" y="0" textLength="24" lengthAdjust="spacingAndGlyphs">R64D+D82R</text>
<text class="xlb" transform="translate(423.58 331.0) rotate(-90)" x="-30.3" y="0" textLength="30.3" lengthAdjust="spacingAndGlyphs">CEACAM1-3-Fc</text>
<text class="xlb" transform="translate(430.79 331.0) rotate(-90)" x="-17" y="0" textLength="17" lengthAdjust="spacingAndGlyphs">CD14-Fc</text>
<rect class="bb" x="453.17" y="286.6" width="5.4" height="39"/>
<path class="bs" d="M455.87 287.6V325.6"/>
<path class="eb2" d="M455.87 283.6V286.6"/>
<path class="ebt" d="M454.07 283.2h3.6l-1.8 1.4z"/>
<path class="eb3" d="M455.87 286.6V289.6M454.17 289.6h3.4"/>
<path class="tkx" d="M455.87 325.6v2.5"/>
<rect class="bb" x="460.5" y="286.6" width="5.4" height="39"/>
<path class="bs" d="M463.2 287.6V325.6"/>
<path class="tkx" d="M463.2 325.6v2.5"/>
<rect class="bb" x="467.83" y="308.3" width="5.4" height="17.3"/>
<path class="bs" d="M470.53 309.3V325.6"/>
<path class="eb2" d="M470.53 305.8V308.3"/>
<path class="ebt" d="M468.73 305.4h3.6l-1.8 1.4z"/>
<path class="eb3" d="M470.53 308.3V310.8M468.83 310.8h3.4"/>
<path class="tkx" d="M470.53 325.6v2.5"/>
<rect class="bb" x="475.17" y="305.1" width="5.4" height="20.5"/>
<path class="bs" d="M477.87 306.1V325.6"/>
<path class="eb2" d="M477.87 294V305.1"/>
<path class="ebt" d="M476.07 293.6h3.6l-1.8 1.4z"/>
<path class="eb3" d="M477.87 305.1V316.2M476.17 316.2h3.4"/>
<path class="tkx" d="M477.87 325.6v2.5"/>
<rect class="bb" x="482.5" y="312.2" width="5.4" height="13.4"/>
<path class="bs" d="M485.2 313.2V325.6"/>
<path class="eb2" d="M485.2 309.5V312.2"/>
<path class="ebt" d="M483.4 309.1h3.6l-1.8 1.4z"/>
<path class="eb3" d="M485.2 312.2V314.9M483.5 314.9h3.4"/>
<path class="tkx" d="M485.2 325.6v2.5"/>
<rect class="bb" x="489.83" y="313.2" width="5.4" height="12.4"/>
<path class="bs" d="M492.53 314.2V325.6"/>
<path class="eb2" d="M492.53 310.2V313.2"/>
<path class="ebt" d="M490.73 309.8h3.6l-1.8 1.4z"/>
<path class="eb3" d="M492.53 313.2V316.2M490.83 316.2h3.4"/>
<path class="tkx" d="M492.53 325.6v2.5"/>
<rect class="bb" x="497.17" y="282.6" width="5.4" height="43"/>
<path class="bs" d="M499.87 283.6V325.6"/>
<path class="eb2" d="M499.87 277V282.6"/>
<path class="ebt" d="M498.07 276.6h3.6l-1.8 1.4z"/>
<path class="eb3" d="M499.87 282.6V288.2M498.17 288.2h3.4"/>
<path class="tkx" d="M499.87 325.6v2.5"/>
<rect class="bb" x="504.5" y="279.6" width="5.4" height="46"/>
<path class="bs" d="M507.2 280.6V325.6"/>
<path class="tkx" d="M507.2 325.6v2.5"/>
<rect class="bb" x="511.83" y="316.2" width="5.4" height="9.4"/>
<path class="bs" d="M514.53 317.2V325.6"/>
<path class="eb2" d="M514.53 314V316.2"/>
<path class="ebt" d="M512.73 313.6h3.6l-1.8 1.4z"/>
<path class="eb3" d="M514.53 316.2V318.4M512.83 318.4h3.4"/>
<path class="tkx" d="M514.53 325.6v2.5"/>
<rect class="bf" x="452.3" y="276.1" width="66" height="49.5"/>
<rect class="lgb" x="453.3" y="276.9" width="5.2" height="5.2"/>
<text class="bl" x="466" y="283.3" textLength="11.1" lengthAdjust="spacingAndGlyphs">4/3/17</text>
<path class="tk" d="M449.7 280.2H452.3"/>
<text class="tlb" x="441.5" y="282.8" textLength="6.4" lengthAdjust="spacingAndGlyphs">100</text>
<path class="tk" d="M449.7 302.4H452.3"/>
<text class="tlb" x="443.6" y="305" textLength="4.3" lengthAdjust="spacingAndGlyphs">50</text>
<path class="tk" d="M449.7 325.6H452.3"/>
<text class="tlb" x="445.7" y="328.2" textLength="2.2" lengthAdjust="spacingAndGlyphs">0</text>
<text class="xlb" transform="translate(457.67 331.0) rotate(-90)" x="-10.8" y="0" textLength="10.8" lengthAdjust="spacingAndGlyphs">R38A</text>
<text class="xlb" transform="translate(465 331.0) rotate(-90)" x="-10.8" y="0" textLength="10.8" lengthAdjust="spacingAndGlyphs">D40A</text>
<text class="xlb" transform="translate(472.33 331.0) rotate(-90)" x="-10.8" y="0" textLength="10.8" lengthAdjust="spacingAndGlyphs">R64A</text>
<text class="xlb" transform="translate(479.67 331.0) rotate(-90)" x="-10.8" y="0" textLength="10.8" lengthAdjust="spacingAndGlyphs">R64D</text>
<text class="xlb" transform="translate(487 331.0) rotate(-90)" x="-10.8" y="0" textLength="10.8" lengthAdjust="spacingAndGlyphs">D53A</text>
<text class="xlb" transform="translate(494.33 331.0) rotate(-90)" x="-10.8" y="0" textLength="10.8" lengthAdjust="spacingAndGlyphs">D82R</text>
<text class="xlb" transform="translate(501.67 331.0) rotate(-90)" x="-24" y="0" textLength="24" lengthAdjust="spacingAndGlyphs">R64D+D82R</text>
<text class="xlb" transform="translate(509 331.0) rotate(-90)" x="-30.3" y="0" textLength="30.3" lengthAdjust="spacingAndGlyphs">CEACAM1-3-Fc</text>
<text class="xlb" transform="translate(516.33 331.0) rotate(-90)" x="-17" y="0" textLength="17" lengthAdjust="spacingAndGlyphs">CD14-Fc</text>
<text class="big" x="0.6" y="8.9">A</text>
<text class="big" x="272.6" y="8.2">B</text>
<text class="yl" transform="translate(6.9 180.6) rotate(-90)" textLength="59.9" lengthAdjust="spacingAndGlyphs">% MAb BINDING</text>
<text class="yl" transform="translate(278.1 212.3) rotate(-90)" textLength="59.2" lengthAdjust="spacingAndGlyphs">% MAb BINDING</text>
<text class="mp" x="119.6" y="345.8" textLength="67.9" lengthAdjust="spacingAndGlyphs">MUTANT PROTEIN</text>
<text class="mp" x="362.9" y="370.8" textLength="67.9" lengthAdjust="spacingAndGlyphs">MUTANT PROTEIN</text>
</g>
</svg></div></body></html>
